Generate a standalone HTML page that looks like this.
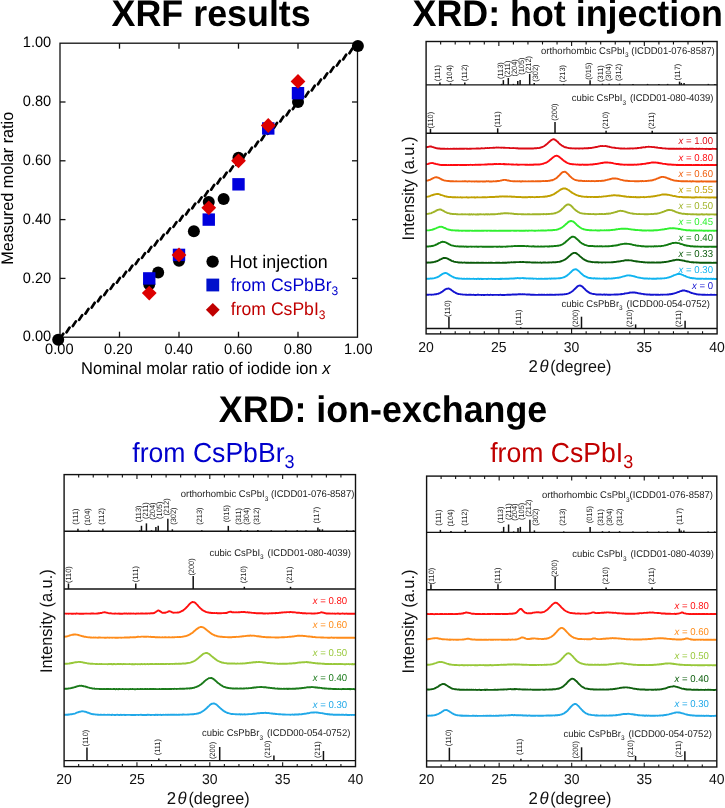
<!DOCTYPE html>
<html><head><meta charset="utf-8"><style>
html,body{margin:0;padding:0;background:#fff;}
svg{display:block;font-family:"Liberation Sans", sans-serif;will-change:transform;text-rendering:geometricPrecision;}
</style></head><body>
<svg width="725" height="808" viewBox="0 0 725 808">
<rect width="725" height="808" fill="#fff"/>
<text transform="translate(111.60,26.20) scale(1,1.035)" font-size="35.85" text-anchor="start" fill="#000" font-weight="bold" font-style="normal" >XRF results</text>
<text transform="translate(412.50,26.00) scale(1,1.035)" font-size="35.85" text-anchor="start" fill="#000" font-weight="bold" font-style="normal" >XRD: hot injection</text>
<text transform="translate(218.80,421.60) scale(1,1.035)" font-size="35.85" text-anchor="start" fill="#000" font-weight="bold" font-style="normal" >XRD: ion-exchange</text>
<text transform="translate(132.3,461.9) scale(1,1.035)" font-size="26.6" fill="#0000cc">from CsPbBr<tspan font-size="18" dy="5.5">3</tspan></text>
<text transform="translate(490.2,461.9) scale(1,1.035)" font-size="26.6" fill="#c00000">from CsPbI<tspan font-size="18" dy="5.5">3</tspan></text>
<rect x="60.0" y="43.2" width="297.5" height="294.0" fill="none" stroke="#111" stroke-width="1.3"/>
<line x1="119.50" y1="337.20" x2="119.50" y2="331.70" stroke="#111" stroke-width="1.3"/>
<line x1="119.50" y1="43.20" x2="119.50" y2="48.70" stroke="#111" stroke-width="1.3"/>
<line x1="60.00" y1="278.40" x2="65.50" y2="278.40" stroke="#111" stroke-width="1.3"/>
<line x1="357.50" y1="278.40" x2="352.00" y2="278.40" stroke="#111" stroke-width="1.3"/>
<line x1="179.00" y1="337.20" x2="179.00" y2="331.70" stroke="#111" stroke-width="1.3"/>
<line x1="179.00" y1="43.20" x2="179.00" y2="48.70" stroke="#111" stroke-width="1.3"/>
<line x1="60.00" y1="219.60" x2="65.50" y2="219.60" stroke="#111" stroke-width="1.3"/>
<line x1="357.50" y1="219.60" x2="352.00" y2="219.60" stroke="#111" stroke-width="1.3"/>
<line x1="238.50" y1="337.20" x2="238.50" y2="331.70" stroke="#111" stroke-width="1.3"/>
<line x1="238.50" y1="43.20" x2="238.50" y2="48.70" stroke="#111" stroke-width="1.3"/>
<line x1="60.00" y1="160.80" x2="65.50" y2="160.80" stroke="#111" stroke-width="1.3"/>
<line x1="357.50" y1="160.80" x2="352.00" y2="160.80" stroke="#111" stroke-width="1.3"/>
<line x1="298.00" y1="337.20" x2="298.00" y2="331.70" stroke="#111" stroke-width="1.3"/>
<line x1="298.00" y1="43.20" x2="298.00" y2="48.70" stroke="#111" stroke-width="1.3"/>
<line x1="60.00" y1="102.00" x2="65.50" y2="102.00" stroke="#111" stroke-width="1.3"/>
<line x1="357.50" y1="102.00" x2="352.00" y2="102.00" stroke="#111" stroke-width="1.3"/>
<text transform="translate(51.20,341.40) scale(1,1.035)" font-size="14.6" text-anchor="end" fill="#000" font-weight="normal" font-style="normal" >0.00</text>
<text transform="translate(59.30,354.20) scale(1,1.035)" font-size="14.6" text-anchor="middle" fill="#000" font-weight="normal" font-style="normal" >0.00</text>
<text transform="translate(51.20,282.60) scale(1,1.035)" font-size="14.6" text-anchor="end" fill="#000" font-weight="normal" font-style="normal" >0.20</text>
<text transform="translate(118.30,354.20) scale(1,1.035)" font-size="14.6" text-anchor="middle" fill="#000" font-weight="normal" font-style="normal" >0.20</text>
<text transform="translate(51.20,223.80) scale(1,1.035)" font-size="14.6" text-anchor="end" fill="#000" font-weight="normal" font-style="normal" >0.40</text>
<text transform="translate(178.60,354.20) scale(1,1.035)" font-size="14.6" text-anchor="middle" fill="#000" font-weight="normal" font-style="normal" >0.40</text>
<text transform="translate(51.20,165.00) scale(1,1.035)" font-size="14.6" text-anchor="end" fill="#000" font-weight="normal" font-style="normal" >0.60</text>
<text transform="translate(238.20,354.20) scale(1,1.035)" font-size="14.6" text-anchor="middle" fill="#000" font-weight="normal" font-style="normal" >0.60</text>
<text transform="translate(51.20,106.20) scale(1,1.035)" font-size="14.6" text-anchor="end" fill="#000" font-weight="normal" font-style="normal" >0.80</text>
<text transform="translate(298.00,354.20) scale(1,1.035)" font-size="14.6" text-anchor="middle" fill="#000" font-weight="normal" font-style="normal" >0.80</text>
<text transform="translate(51.20,47.40) scale(1,1.035)" font-size="14.6" text-anchor="end" fill="#000" font-weight="normal" font-style="normal" >1.00</text>
<text transform="translate(358.30,354.20) scale(1,1.035)" font-size="14.6" text-anchor="middle" fill="#000" font-weight="normal" font-style="normal" >1.00</text>
<text transform="translate(205.80,374.20) scale(1,1.035)" font-size="16.5" text-anchor="middle" fill="#000" font-weight="normal" font-style="normal" >Nominal molar ratio of iodide ion <tspan font-style="italic">x</tspan></text>
<text transform="translate(13.2,188.3) rotate(-90) scale(1,1.035)" font-size="16.2" text-anchor="middle" fill="#000">Measured molar ratio</text>
<path d="M60.28,338.49L63.28,333.79M66.57,332.29L69.57,327.59M72.85,326.09L75.85,321.39M79.14,319.89L82.14,315.19M85.42,313.69L88.42,308.99M91.71,307.49L94.71,302.79M97.99,301.29L100.99,296.59M104.28,295.08L107.28,290.38M110.57,288.88L113.57,284.18M116.85,282.68L119.85,277.98M123.14,276.48L126.14,271.78M129.42,270.28L132.42,265.58M135.71,264.08L138.71,259.38M142.00,257.88L145.00,253.18M148.28,251.68L151.28,246.98M154.57,245.47L157.57,240.77M160.85,239.27L163.85,234.57M167.14,233.07L170.14,228.37M173.43,226.87L176.43,222.17M179.71,220.67L182.71,215.97M186.00,214.47L189.00,209.77M192.28,208.27L195.28,203.57M198.57,202.06L201.57,197.36M204.85,195.86L207.85,191.16M211.14,189.66L214.14,184.96M217.43,183.46L220.43,178.76M223.71,177.26L226.71,172.56M230.00,171.06L233.00,166.36M236.28,164.86L239.28,160.16M242.57,158.66L245.57,153.96M248.86,152.45L251.86,147.75M255.14,146.25L258.14,141.55M261.43,140.05L264.43,135.35M267.71,133.85L270.71,129.15M274.00,127.65L277.00,122.95M280.29,121.45L283.29,116.75M286.57,115.25L289.57,110.55M292.86,109.04L295.86,104.34M299.14,102.84L302.14,98.14M305.43,96.64L308.43,91.94M311.71,90.44L314.71,85.74M318.00,84.24L321.00,79.54M324.29,78.04L327.29,73.34M330.57,71.84L333.57,67.14M336.86,65.63L339.86,60.93M343.14,59.43L346.14,54.73M349.43,53.23L352.43,48.53" stroke="#000" stroke-width="2.7" stroke-linecap="round" fill="none"/>
<circle cx="58.20" cy="339.80" r="6.0" fill="#000"/>
<circle cx="357.90" cy="45.90" r="6.0" fill="#000"/>
<circle cx="149.25" cy="284.28" r="6.0" fill="#000"/>
<circle cx="158.18" cy="272.52" r="6.0" fill="#000"/>
<circle cx="179.00" cy="260.76" r="6.0" fill="#000"/>
<circle cx="193.88" cy="231.36" r="6.0" fill="#000"/>
<circle cx="208.75" cy="201.96" r="6.0" fill="#000"/>
<circle cx="223.62" cy="199.02" r="6.0" fill="#000"/>
<circle cx="238.50" cy="157.86" r="6.0" fill="#000"/>
<circle cx="268.25" cy="128.46" r="6.0" fill="#000"/>
<circle cx="298.00" cy="102.00" r="6.0" fill="#000"/>
<rect x="143.05" y="272.20" width="12.4" height="12.4" fill="#0000dd"/>
<rect x="172.80" y="248.68" width="12.4" height="12.4" fill="#0000dd"/>
<rect x="202.55" y="213.40" width="12.4" height="12.4" fill="#0000dd"/>
<rect x="232.30" y="178.12" width="12.4" height="12.4" fill="#0000dd"/>
<rect x="262.05" y="122.26" width="12.4" height="12.4" fill="#0000dd"/>
<rect x="291.80" y="86.98" width="12.4" height="12.4" fill="#0000dd"/>
<path d="M149.25,285.70L156.65,293.10L149.25,300.50L141.85,293.10Z" fill="#dd0000"/>
<path d="M179.00,247.48L186.40,254.88L179.00,262.28L171.60,254.88Z" fill="#dd0000"/>
<path d="M208.75,200.44L216.15,207.84L208.75,215.24L201.35,207.84Z" fill="#dd0000"/>
<path d="M238.50,153.40L245.90,160.80L238.50,168.20L231.10,160.80Z" fill="#dd0000"/>
<path d="M268.25,118.12L275.65,125.52L268.25,132.92L260.85,125.52Z" fill="#dd0000"/>
<path d="M298.00,74.02L305.40,81.42L298.00,88.82L290.60,81.42Z" fill="#dd0000"/>
<circle cx="212.60" cy="261.60" r="6.2" fill="#000"/>
<rect x="206.40" y="278.60" width="12.8" height="12.8" fill="#0010cc"/>
<path d="M212.80,302.90L219.70,309.80L212.80,316.70L205.90,309.80Z" fill="#c00000"/>
<text transform="translate(229.60,267.50) scale(1,1.035)" font-size="17.85" text-anchor="start" fill="#000" font-weight="normal" font-style="normal" >Hot injection</text>
<text transform="translate(230.8,291.0) scale(1,1.035)" font-size="17.6" fill="#0000cc">from CsPbBr<tspan font-size="12" dy="4">3</tspan></text>
<text transform="translate(230.8,315.2) scale(1,1.035)" font-size="17.6" fill="#c00000">from CsPbI<tspan font-size="12" dy="4">3</tspan></text>
<path d="M426.10,147.65 L426.85,147.21 L427.60,146.96 L428.35,146.83 L429.10,146.58 L429.85,146.48 L430.60,146.44 L431.35,146.53 L432.10,146.90 L432.85,147.17 L433.60,147.25 L434.35,147.61 L435.10,147.77 L435.85,148.16 L436.60,148.23 L437.35,148.30 L438.10,148.53 L438.85,148.44 L439.60,148.51 L440.35,148.76 L441.10,148.80 L441.85,148.70 L442.60,148.62 L443.35,148.76 L444.10,148.81 L444.85,148.77 L445.60,148.87 L446.35,148.83 L447.10,148.79 L447.85,148.78 L448.60,148.84 L449.35,148.85 L450.10,148.85 L450.85,148.79 L451.60,148.84 L452.35,148.90 L453.10,148.71 L453.85,148.77 L454.60,148.75 L455.35,148.86 L456.10,148.67 L456.85,148.70 L457.60,148.88 L458.35,148.82 L459.10,148.73 L459.85,148.73 L460.60,148.67 L461.35,148.79 L462.10,148.69 L462.85,148.73 L463.60,148.81 L464.35,148.74 L465.10,148.66 L465.85,148.66 L466.60,148.74 L467.35,148.71 L468.10,148.84 L468.85,148.78 L469.60,148.63 L470.35,148.72 L471.10,148.76 L471.85,148.66 L472.60,148.61 L473.35,148.60 L474.10,148.65 L474.85,148.62 L475.60,148.59 L476.35,148.50 L477.10,148.54 L477.85,148.55 L478.60,148.50 L479.35,148.58 L480.10,148.55 L480.85,148.36 L481.60,148.26 L482.35,148.32 L483.10,148.33 L483.85,148.35 L484.60,148.23 L485.35,148.07 L486.10,148.09 L486.85,148.10 L487.60,147.98 L488.35,148.09 L489.10,147.98 L489.85,147.83 L490.60,147.88 L491.35,147.87 L492.10,147.88 L492.85,147.77 L493.60,147.64 L494.35,147.84 L495.10,147.63 L495.85,147.59 L496.60,147.56 L497.35,147.58 L498.10,147.55 L498.85,147.62 L499.60,147.61 L500.35,147.65 L501.10,147.75 L501.85,147.57 L502.60,147.66 L503.35,147.77 L504.10,147.73 L504.85,147.76 L505.60,147.83 L506.35,147.86 L507.10,147.85 L507.85,147.87 L508.60,147.91 L509.35,147.98 L510.10,148.13 L510.85,148.11 L511.60,148.16 L512.35,148.10 L513.10,148.07 L513.85,148.12 L514.60,148.15 L515.35,148.17 L516.10,148.34 L516.85,148.22 L517.60,148.29 L518.35,148.45 L519.10,148.49 L519.85,148.51 L520.60,148.35 L521.35,148.48 L522.10,148.53 L522.85,148.42 L523.60,148.49 L524.35,148.56 L525.10,148.55 L525.85,148.46 L526.60,148.55 L527.35,148.52 L528.10,148.41 L528.85,148.46 L529.60,148.49 L530.35,148.44 L531.10,148.53 L531.85,148.43 L532.60,148.40 L533.35,148.43 L534.10,148.42 L534.85,148.20 L535.60,148.25 L536.35,148.27 L537.10,148.11 L537.85,147.98 L538.60,148.07 L539.35,147.94 L540.10,147.76 L540.85,147.43 L541.60,147.34 L542.35,146.93 L543.10,146.60 L543.85,146.25 L544.60,145.87 L545.35,145.17 L546.10,144.64 L546.85,144.07 L547.60,143.47 L548.35,142.65 L549.10,141.99 L549.85,141.24 L550.60,140.65 L551.35,140.02 L552.10,139.73 L552.85,139.42 L553.60,139.21 L554.35,139.39 L555.10,139.86 L555.85,140.23 L556.60,140.97 L557.35,141.50 L558.10,142.27 L558.85,143.06 L559.60,143.80 L560.35,144.51 L561.10,144.91 L561.85,145.66 L562.60,145.95 L563.35,146.34 L564.10,146.79 L564.85,147.19 L565.60,147.28 L566.35,147.46 L567.10,147.70 L567.85,147.88 L568.60,148.02 L569.35,148.12 L570.10,148.23 L570.85,148.17 L571.60,148.28 L572.35,148.37 L573.10,148.43 L573.85,148.32 L574.60,148.43 L575.35,148.40 L576.10,148.46 L576.85,148.34 L577.60,148.34 L578.35,148.56 L579.10,148.52 L579.85,148.49 L580.60,148.34 L581.35,148.38 L582.10,148.48 L582.85,148.50 L583.60,148.38 L584.35,148.32 L585.10,148.27 L585.85,148.38 L586.60,148.21 L587.35,148.21 L588.10,148.21 L588.85,148.03 L589.60,148.14 L590.35,147.93 L591.10,148.00 L591.85,147.87 L592.60,147.58 L593.35,147.62 L594.10,147.36 L594.85,147.25 L595.60,147.05 L596.35,147.00 L597.10,146.85 L597.85,146.71 L598.60,146.42 L599.35,146.34 L600.10,146.13 L600.85,146.04 L601.60,146.14 L602.35,145.99 L603.10,146.08 L603.85,146.11 L604.60,146.15 L605.35,146.03 L606.10,146.16 L606.85,146.27 L607.60,146.53 L608.35,146.62 L609.10,146.74 L609.85,146.99 L610.60,147.10 L611.35,147.34 L612.10,147.52 L612.85,147.62 L613.60,147.60 L614.35,147.79 L615.10,147.82 L615.85,148.03 L616.60,148.16 L617.35,148.11 L618.10,148.17 L618.85,148.42 L619.60,148.32 L620.35,148.50 L621.10,148.53 L621.85,148.37 L622.60,148.60 L623.35,148.57 L624.10,148.41 L624.85,148.55 L625.60,148.63 L626.35,148.63 L627.10,148.61 L627.85,148.48 L628.60,148.63 L629.35,148.43 L630.10,148.54 L630.85,148.38 L631.60,148.37 L632.35,148.49 L633.10,148.47 L633.85,148.38 L634.60,148.42 L635.35,148.24 L636.10,148.33 L636.85,148.27 L637.60,147.97 L638.35,148.06 L639.10,147.90 L639.85,147.85 L640.60,147.79 L641.35,147.75 L642.10,147.45 L642.85,147.33 L643.60,147.23 L644.35,147.33 L645.10,147.21 L645.85,147.03 L646.60,146.86 L647.35,146.91 L648.10,146.82 L648.85,146.80 L649.60,146.89 L650.35,146.83 L651.10,146.92 L651.85,146.99 L652.60,147.10 L653.35,147.13 L654.10,147.05 L654.85,147.28 L655.60,147.33 L656.35,147.44 L657.10,147.48 L657.85,147.71 L658.60,147.84 L659.35,147.93 L660.10,148.02 L660.85,147.98 L661.60,148.05 L662.35,148.27 L663.10,148.33 L663.85,148.34 L664.60,148.39 L665.35,148.43 L666.10,148.56 L666.85,148.66 L667.60,148.64 L668.35,148.71 L669.10,148.62 L669.85,148.76 L670.60,148.78 L671.35,148.66 L672.10,148.76 L672.85,148.65 L673.60,148.73 L674.35,148.65 L675.10,148.83 L675.85,148.76 L676.60,148.69 L677.35,148.87 L678.10,148.67 L678.85,148.86 L679.60,148.72 L680.35,148.67 L681.10,148.72 L681.85,148.84 L682.60,148.90 L683.35,148.80 L684.10,148.71 L684.85,148.86 L685.60,148.72 L686.35,148.90 L687.10,148.72 L687.85,148.93 L688.60,148.87 L689.35,148.73 L690.10,148.75 L690.85,148.73 L691.60,148.75 L692.35,148.77 L693.10,148.79 L693.85,148.91 L694.60,148.85 L695.35,148.92 L696.10,148.79 L696.85,148.80 L697.60,148.90 L698.35,148.95 L699.10,148.74 L699.85,148.77 L700.60,148.84 L701.35,148.84 L702.10,148.77 L702.85,148.86 L703.60,148.88 L704.35,148.89 L705.10,148.91 L705.85,148.97 L706.60,148.82 L707.35,148.88 L708.10,148.84 L708.85,148.96 L709.60,148.89 L710.35,148.95 L711.10,148.95 L711.85,148.92 L712.60,148.78 L713.35,148.89 L714.10,148.89 L714.85,148.84 L715.60,148.93 L716.35,148.98 L717.10,148.86" fill="none" stroke="#dc0a14" stroke-width="1.9" stroke-linejoin="round"/>
<text transform="translate(713.00,144.00) scale(1,1.035)" font-size="9.6" text-anchor="end" fill="#dc0a14"><tspan font-style="italic">x</tspan> = 1.00</text>
<path d="M426.10,164.31 L426.85,164.14 L427.60,164.16 L428.35,163.93 L429.10,163.53 L429.85,163.33 L430.60,163.17 L431.35,163.14 L432.10,163.04 L432.85,163.11 L433.60,163.26 L434.35,163.57 L435.10,163.73 L435.85,163.96 L436.60,164.09 L437.35,164.21 L438.10,164.37 L438.85,164.60 L439.60,164.72 L440.35,164.84 L441.10,164.95 L441.85,164.99 L442.60,164.91 L443.35,164.97 L444.10,164.97 L444.85,164.86 L445.60,164.96 L446.35,164.96 L447.10,165.04 L447.85,165.09 L448.60,165.03 L449.35,165.07 L450.10,164.99 L450.85,164.87 L451.60,164.95 L452.35,165.07 L453.10,164.90 L453.85,164.93 L454.60,164.94 L455.35,164.90 L456.10,164.93 L456.85,164.93 L457.60,165.03 L458.35,164.88 L459.10,164.88 L459.85,165.07 L460.60,164.93 L461.35,164.94 L462.10,164.99 L462.85,164.97 L463.60,164.98 L464.35,164.87 L465.10,164.97 L465.85,164.89 L466.60,164.99 L467.35,164.86 L468.10,164.85 L468.85,164.95 L469.60,164.92 L470.35,164.82 L471.10,164.86 L471.85,164.91 L472.60,164.96 L473.35,164.92 L474.10,164.82 L474.85,164.93 L475.60,164.73 L476.35,164.87 L477.10,164.70 L477.85,164.82 L478.60,164.64 L479.35,164.68 L480.10,164.71 L480.85,164.68 L481.60,164.62 L482.35,164.60 L483.10,164.64 L483.85,164.64 L484.60,164.53 L485.35,164.40 L486.10,164.44 L486.85,164.53 L487.60,164.32 L488.35,164.31 L489.10,164.23 L489.85,164.37 L490.60,164.20 L491.35,164.33 L492.10,164.16 L492.85,164.22 L493.60,164.20 L494.35,164.02 L495.10,164.18 L495.85,164.06 L496.60,163.96 L497.35,164.10 L498.10,164.10 L498.85,163.93 L499.60,164.04 L500.35,163.98 L501.10,164.15 L501.85,164.09 L502.60,164.15 L503.35,164.05 L504.10,164.21 L504.85,164.03 L505.60,164.28 L506.35,164.14 L507.10,164.34 L507.85,164.31 L508.60,164.21 L509.35,164.40 L510.10,164.42 L510.85,164.33 L511.60,164.44 L512.35,164.55 L513.10,164.35 L513.85,164.58 L514.60,164.63 L515.35,164.58 L516.10,164.54 L516.85,164.53 L517.60,164.70 L518.35,164.67 L519.10,164.76 L519.85,164.67 L520.60,164.61 L521.35,164.63 L522.10,164.60 L522.85,164.64 L523.60,164.63 L524.35,164.67 L525.10,164.73 L525.85,164.79 L526.60,164.69 L527.35,164.77 L528.10,164.82 L528.85,164.73 L529.60,164.62 L530.35,164.79 L531.10,164.67 L531.85,164.71 L532.60,164.66 L533.35,164.74 L534.10,164.52 L534.85,164.67 L535.60,164.56 L536.35,164.57 L537.10,164.63 L537.85,164.46 L538.60,164.51 L539.35,164.47 L540.10,164.39 L540.85,164.27 L541.60,164.17 L542.35,163.90 L543.10,163.76 L543.85,163.44 L544.60,163.20 L545.35,162.89 L546.10,162.73 L546.85,162.28 L547.60,161.87 L548.35,161.28 L549.10,160.71 L549.85,160.07 L550.60,159.44 L551.35,158.89 L552.10,158.18 L552.85,157.51 L553.60,157.04 L554.35,156.52 L555.10,156.05 L555.85,155.88 L556.60,155.68 L557.35,155.91 L558.10,156.24 L558.85,156.65 L559.60,157.18 L560.35,157.80 L561.10,158.38 L561.85,159.07 L562.60,159.76 L563.35,160.31 L564.10,161.01 L564.85,161.38 L565.60,161.86 L566.35,162.35 L567.10,162.80 L567.85,163.10 L568.60,163.36 L569.35,163.72 L570.10,163.83 L570.85,163.96 L571.60,164.17 L572.35,164.30 L573.10,164.21 L573.85,164.39 L574.60,164.41 L575.35,164.36 L576.10,164.48 L576.85,164.58 L577.60,164.45 L578.35,164.61 L579.10,164.72 L579.85,164.57 L580.60,164.73 L581.35,164.69 L582.10,164.57 L582.85,164.62 L583.60,164.78 L584.35,164.67 L585.10,164.68 L585.85,164.65 L586.60,164.71 L587.35,164.61 L588.10,164.71 L588.85,164.64 L589.60,164.59 L590.35,164.42 L591.10,164.58 L591.85,164.37 L592.60,164.45 L593.35,164.29 L594.10,164.26 L594.85,164.16 L595.60,163.99 L596.35,163.97 L597.10,163.92 L597.85,163.80 L598.60,163.68 L599.35,163.36 L600.10,163.27 L600.85,163.06 L601.60,162.98 L602.35,163.01 L603.10,162.74 L603.85,162.60 L604.60,162.53 L605.35,162.52 L606.10,162.51 L606.85,162.48 L607.60,162.42 L608.35,162.60 L609.10,162.62 L609.85,162.73 L610.60,162.74 L611.35,162.90 L612.10,163.01 L612.85,163.17 L613.60,163.44 L614.35,163.60 L615.10,163.67 L615.85,163.86 L616.60,163.94 L617.35,163.99 L618.10,164.03 L618.85,164.21 L619.60,164.24 L620.35,164.48 L621.10,164.49 L621.85,164.39 L622.60,164.64 L623.35,164.62 L624.10,164.74 L624.85,164.76 L625.60,164.59 L626.35,164.59 L627.10,164.69 L627.85,164.82 L628.60,164.79 L629.35,164.81 L630.10,164.70 L630.85,164.70 L631.60,164.75 L632.35,164.72 L633.10,164.81 L633.85,164.69 L634.60,164.57 L635.35,164.59 L636.10,164.71 L636.85,164.58 L637.60,164.48 L638.35,164.54 L639.10,164.33 L639.85,164.37 L640.60,164.24 L641.35,164.23 L642.10,164.00 L642.85,163.96 L643.60,163.90 L644.35,163.89 L645.10,163.70 L645.85,163.68 L646.60,163.42 L647.35,163.22 L648.10,163.26 L648.85,163.05 L649.60,162.94 L650.35,162.85 L651.10,162.68 L651.85,162.54 L652.60,162.54 L653.35,162.56 L654.10,162.43 L654.85,162.59 L655.60,162.53 L656.35,162.62 L657.10,162.68 L657.85,162.76 L658.60,163.02 L659.35,163.05 L660.10,163.23 L660.85,163.30 L661.60,163.36 L662.35,163.57 L663.10,163.85 L663.85,163.86 L664.60,163.91 L665.35,163.98 L666.10,164.14 L666.85,164.19 L667.60,164.47 L668.35,164.32 L669.10,164.44 L669.85,164.54 L670.60,164.52 L671.35,164.57 L672.10,164.80 L672.85,164.67 L673.60,164.71 L674.35,164.88 L675.10,164.77 L675.85,164.83 L676.60,164.94 L677.35,164.81 L678.10,164.99 L678.85,164.89 L679.60,164.94 L680.35,164.99 L681.10,164.93 L681.85,164.96 L682.60,165.03 L683.35,164.85 L684.10,165.07 L684.85,165.09 L685.60,164.98 L686.35,164.90 L687.10,164.95 L687.85,164.93 L688.60,165.00 L689.35,164.96 L690.10,165.04 L690.85,165.06 L691.60,165.01 L692.35,165.12 L693.10,165.11 L693.85,164.95 L694.60,165.10 L695.35,164.96 L696.10,164.95 L696.85,165.05 L697.60,164.98 L698.35,164.96 L699.10,164.94 L699.85,165.12 L700.60,165.11 L701.35,165.06 L702.10,165.05 L702.85,165.09 L703.60,165.16 L704.35,165.03 L705.10,164.93 L705.85,165.08 L706.60,165.04 L707.35,165.07 L708.10,165.06 L708.85,164.96 L709.60,165.10 L710.35,165.01 L711.10,165.06 L711.85,165.04 L712.60,164.95 L713.35,165.16 L714.10,164.98 L714.85,165.10 L715.60,165.02 L716.35,164.99 L717.10,165.02" fill="none" stroke="#ff0a10" stroke-width="1.9" stroke-linejoin="round"/>
<text transform="translate(713.00,160.50) scale(1,1.035)" font-size="9.6" text-anchor="end" fill="#ff0a10"><tspan font-style="italic">x</tspan> = 0.80</text>
<path d="M426.10,180.90 L426.85,180.68 L427.60,180.55 L428.35,180.28 L429.10,180.02 L429.85,179.86 L430.60,179.54 L431.35,178.98 L432.10,178.74 L432.85,178.37 L433.60,177.82 L434.35,177.64 L435.10,177.33 L435.85,177.30 L436.60,177.27 L437.35,177.53 L438.10,177.66 L438.85,177.93 L439.60,178.38 L440.35,178.71 L441.10,179.10 L441.85,179.60 L442.60,179.76 L443.35,180.08 L444.10,180.40 L444.85,180.67 L445.60,180.63 L446.35,180.86 L447.10,180.91 L447.85,180.96 L448.60,181.06 L449.35,181.06 L450.10,181.23 L450.85,181.16 L451.60,181.27 L452.35,181.17 L453.10,181.21 L453.85,181.41 L454.60,181.41 L455.35,181.40 L456.10,181.23 L456.85,181.37 L457.60,181.33 L458.35,181.41 L459.10,181.37 L459.85,181.41 L460.60,181.42 L461.35,181.37 L462.10,181.37 L462.85,181.30 L463.60,181.35 L464.35,181.30 L465.10,181.32 L465.85,181.29 L466.60,181.37 L467.35,181.49 L468.10,181.33 L468.85,181.30 L469.60,181.32 L470.35,181.40 L471.10,181.37 L471.85,181.49 L472.60,181.34 L473.35,181.40 L474.10,181.47 L474.85,181.53 L475.60,181.34 L476.35,181.30 L477.10,181.52 L477.85,181.35 L478.60,181.44 L479.35,181.50 L480.10,181.47 L480.85,181.35 L481.60,181.33 L482.35,181.53 L483.10,181.39 L483.85,181.52 L484.60,181.36 L485.35,181.45 L486.10,181.32 L486.85,181.29 L487.60,181.40 L488.35,181.28 L489.10,181.44 L489.85,181.49 L490.60,181.36 L491.35,181.49 L492.10,181.44 L492.85,181.38 L493.60,181.31 L494.35,181.40 L495.10,181.40 L495.85,181.17 L496.60,181.25 L497.35,181.03 L498.10,180.96 L498.85,180.98 L499.60,180.84 L500.35,180.67 L501.10,180.48 L501.85,180.32 L502.60,180.16 L503.35,180.01 L504.10,179.85 L504.85,179.93 L505.60,180.00 L506.35,180.04 L507.10,180.31 L507.85,180.46 L508.60,180.47 L509.35,180.73 L510.10,180.86 L510.85,181.11 L511.60,181.10 L512.35,181.14 L513.10,181.33 L513.85,181.22 L514.60,181.25 L515.35,181.41 L516.10,181.28 L516.85,181.33 L517.60,181.29 L518.35,181.37 L519.10,181.29 L519.85,181.29 L520.60,181.46 L521.35,181.45 L522.10,181.30 L522.85,181.24 L523.60,181.41 L524.35,181.35 L525.10,181.32 L525.85,181.38 L526.60,181.37 L527.35,181.38 L528.10,181.36 L528.85,181.30 L529.60,181.37 L530.35,181.35 L531.10,181.25 L531.85,181.42 L532.60,181.28 L533.35,181.24 L534.10,181.33 L534.85,181.34 L535.60,181.20 L536.35,181.32 L537.10,181.32 L537.85,181.25 L538.60,181.18 L539.35,181.31 L540.10,181.24 L540.85,181.22 L541.60,181.08 L542.35,181.15 L543.10,181.03 L543.85,181.17 L544.60,181.10 L545.35,181.00 L546.10,180.90 L546.85,180.96 L547.60,180.96 L548.35,180.92 L549.10,180.74 L549.85,180.72 L550.60,180.45 L551.35,180.29 L552.10,180.25 L552.85,179.99 L553.60,179.58 L554.35,179.26 L555.10,178.81 L555.85,178.43 L556.60,177.92 L557.35,177.25 L558.10,176.44 L558.85,175.82 L559.60,175.03 L560.35,174.23 L561.10,173.49 L561.85,172.82 L562.60,172.16 L563.35,171.98 L564.10,171.87 L564.85,171.74 L565.60,172.07 L566.35,172.55 L567.10,173.33 L567.85,173.93 L568.60,174.71 L569.35,175.66 L570.10,176.28 L570.85,176.96 L571.60,177.65 L572.35,178.26 L573.10,178.81 L573.85,179.23 L574.60,179.62 L575.35,179.96 L576.10,180.08 L576.85,180.35 L577.60,180.39 L578.35,180.70 L579.10,180.59 L579.85,180.73 L580.60,180.74 L581.35,180.79 L582.10,180.84 L582.85,180.95 L583.60,181.12 L584.35,180.97 L585.10,181.13 L585.85,181.11 L586.60,181.04 L587.35,181.09 L588.10,181.13 L588.85,181.01 L589.60,181.10 L590.35,181.17 L591.10,181.19 L591.85,181.05 L592.60,181.14 L593.35,181.07 L594.10,181.17 L594.85,181.20 L595.60,181.11 L596.35,181.03 L597.10,181.17 L597.85,180.99 L598.60,180.93 L599.35,180.92 L600.10,180.87 L600.85,181.01 L601.60,180.80 L602.35,180.66 L603.10,180.76 L603.85,180.59 L604.60,180.47 L605.35,180.26 L606.10,180.13 L606.85,179.94 L607.60,179.68 L608.35,179.67 L609.10,179.46 L609.85,179.24 L610.60,179.04 L611.35,178.87 L612.10,178.50 L612.85,178.41 L613.60,178.51 L614.35,178.39 L615.10,178.46 L615.85,178.53 L616.60,178.64 L617.35,178.73 L618.10,178.92 L618.85,179.17 L619.60,179.42 L620.35,179.59 L621.10,179.84 L621.85,179.92 L622.60,180.06 L623.35,180.30 L624.10,180.52 L624.85,180.63 L625.60,180.69 L626.35,180.74 L627.10,180.78 L627.85,180.94 L628.60,180.90 L629.35,180.99 L630.10,181.08 L630.85,181.12 L631.60,181.12 L632.35,181.09 L633.10,181.17 L633.85,181.12 L634.60,181.19 L635.35,181.24 L636.10,181.18 L636.85,181.14 L637.60,181.29 L638.35,181.21 L639.10,181.20 L639.85,181.09 L640.60,181.07 L641.35,181.19 L642.10,181.06 L642.85,181.07 L643.60,181.18 L644.35,181.11 L645.10,181.16 L645.85,180.96 L646.60,180.95 L647.35,180.84 L648.10,180.80 L648.85,180.75 L649.60,180.64 L650.35,180.57 L651.10,180.55 L651.85,180.28 L652.60,180.24 L653.35,180.00 L654.10,179.63 L654.85,179.55 L655.60,179.27 L656.35,178.98 L657.10,178.49 L657.85,178.35 L658.60,178.09 L659.35,177.60 L660.10,177.52 L660.85,177.13 L661.60,177.01 L662.35,176.89 L663.10,176.85 L663.85,177.01 L664.60,177.10 L665.35,177.48 L666.10,177.56 L666.85,177.90 L667.60,178.15 L668.35,178.61 L669.10,178.76 L669.85,179.01 L670.60,179.50 L671.35,179.69 L672.10,179.87 L672.85,180.02 L673.60,180.35 L674.35,180.53 L675.10,180.65 L675.85,180.69 L676.60,180.76 L677.35,180.93 L678.10,181.01 L678.85,181.06 L679.60,181.12 L680.35,181.15 L681.10,181.26 L681.85,181.19 L682.60,181.10 L683.35,181.26 L684.10,181.19 L684.85,181.35 L685.60,181.24 L686.35,181.23 L687.10,181.26 L687.85,181.31 L688.60,181.33 L689.35,181.30 L690.10,181.25 L690.85,181.43 L691.60,181.45 L692.35,181.30 L693.10,181.27 L693.85,181.37 L694.60,181.39 L695.35,181.33 L696.10,181.46 L696.85,181.45 L697.60,181.47 L698.35,181.38 L699.10,181.45 L699.85,181.47 L700.60,181.36 L701.35,181.30 L702.10,181.46 L702.85,181.37 L703.60,181.44 L704.35,181.34 L705.10,181.40 L705.85,181.48 L706.60,181.50 L707.35,181.54 L708.10,181.44 L708.85,181.46 L709.60,181.51 L710.35,181.47 L711.10,181.48 L711.85,181.37 L712.60,181.53 L713.35,181.33 L714.10,181.45 L714.85,181.42 L715.60,181.45 L716.35,181.37 L717.10,181.37" fill="none" stroke="#f06010" stroke-width="1.9" stroke-linejoin="round"/>
<text transform="translate(713.00,176.80) scale(1,1.035)" font-size="9.6" text-anchor="end" fill="#f06010"><tspan font-style="italic">x</tspan> = 0.60</text>
<path d="M426.10,196.93 L426.85,196.85 L427.60,196.64 L428.35,196.53 L429.10,196.36 L429.85,196.06 L430.60,195.70 L431.35,195.46 L432.10,195.20 L432.85,195.05 L433.60,194.69 L434.35,194.50 L435.10,194.31 L435.85,194.16 L436.60,194.05 L437.35,193.87 L438.10,193.98 L438.85,194.13 L439.60,194.35 L440.35,194.75 L441.10,194.99 L441.85,195.20 L442.60,195.45 L443.35,195.68 L444.10,195.92 L444.85,196.32 L445.60,196.39 L446.35,196.54 L447.10,196.72 L447.85,196.92 L448.60,196.95 L449.35,197.12 L450.10,196.98 L450.85,197.05 L451.60,197.16 L452.35,197.25 L453.10,197.13 L453.85,197.24 L454.60,197.18 L455.35,197.20 L456.10,197.29 L456.85,197.33 L457.60,197.29 L458.35,197.34 L459.10,197.41 L459.85,197.38 L460.60,197.27 L461.35,197.45 L462.10,197.46 L462.85,197.32 L463.60,197.41 L464.35,197.35 L465.10,197.37 L465.85,197.40 L466.60,197.24 L467.35,197.44 L468.10,197.39 L468.85,197.44 L469.60,197.34 L470.35,197.42 L471.10,197.40 L471.85,197.31 L472.60,197.41 L473.35,197.35 L474.10,197.27 L474.85,197.46 L475.60,197.46 L476.35,197.42 L477.10,197.29 L477.85,197.32 L478.60,197.41 L479.35,197.38 L480.10,197.41 L480.85,197.33 L481.60,197.42 L482.35,197.26 L483.10,197.20 L483.85,197.17 L484.60,197.21 L485.35,197.14 L486.10,197.35 L486.85,197.26 L487.60,197.08 L488.35,197.10 L489.10,197.16 L489.85,197.00 L490.60,197.05 L491.35,196.97 L492.10,197.05 L492.85,197.04 L493.60,196.94 L494.35,196.97 L495.10,196.87 L495.85,196.68 L496.60,196.79 L497.35,196.82 L498.10,196.76 L498.85,196.69 L499.60,196.50 L500.35,196.56 L501.10,196.54 L501.85,196.55 L502.60,196.32 L503.35,196.43 L504.10,196.47 L504.85,196.50 L505.60,196.51 L506.35,196.49 L507.10,196.39 L507.85,196.54 L508.60,196.60 L509.35,196.52 L510.10,196.62 L510.85,196.48 L511.60,196.73 L512.35,196.68 L513.10,196.66 L513.85,196.79 L514.60,196.69 L515.35,196.85 L516.10,196.95 L516.85,196.94 L517.60,197.07 L518.35,197.01 L519.10,197.08 L519.85,196.95 L520.60,196.98 L521.35,197.09 L522.10,197.22 L522.85,197.18 L523.60,197.19 L524.35,197.21 L525.10,197.22 L525.85,197.07 L526.60,197.25 L527.35,197.27 L528.10,197.06 L528.85,197.15 L529.60,197.05 L530.35,197.19 L531.10,197.06 L531.85,197.11 L532.60,197.07 L533.35,197.08 L534.10,197.13 L534.85,197.21 L535.60,197.17 L536.35,197.00 L537.10,196.98 L537.85,196.95 L538.60,197.07 L539.35,196.97 L540.10,196.91 L540.85,196.92 L541.60,196.84 L542.35,196.87 L543.10,196.79 L543.85,196.73 L544.60,196.76 L545.35,196.52 L546.10,196.42 L546.85,196.53 L547.60,196.18 L548.35,196.03 L549.10,195.93 L549.85,195.88 L550.60,195.44 L551.35,195.36 L552.10,194.85 L552.85,194.59 L553.60,194.36 L554.35,193.92 L555.10,193.36 L555.85,192.90 L556.60,192.36 L557.35,191.79 L558.10,191.43 L558.85,190.95 L559.60,190.20 L560.35,189.93 L561.10,189.28 L561.85,189.09 L562.60,188.63 L563.35,188.45 L564.10,188.35 L564.85,188.48 L565.60,188.56 L566.35,188.99 L567.10,189.24 L567.85,189.75 L568.60,190.10 L569.35,190.64 L570.10,191.24 L570.85,191.77 L571.60,192.41 L572.35,192.91 L573.10,193.26 L573.85,193.74 L574.60,194.06 L575.35,194.50 L576.10,194.96 L576.85,195.21 L577.60,195.39 L578.35,195.69 L579.10,196.02 L579.85,196.00 L580.60,196.15 L581.35,196.46 L582.10,196.46 L582.85,196.60 L583.60,196.58 L584.35,196.76 L585.10,196.83 L585.85,196.82 L586.60,196.74 L587.35,196.98 L588.10,197.00 L588.85,196.90 L589.60,196.86 L590.35,196.96 L591.10,196.99 L591.85,196.89 L592.60,196.92 L593.35,197.09 L594.10,196.89 L594.85,197.05 L595.60,197.01 L596.35,196.87 L597.10,196.95 L597.85,196.83 L598.60,196.95 L599.35,196.74 L600.10,196.87 L600.85,196.83 L601.60,196.69 L602.35,196.66 L603.10,196.54 L603.85,196.38 L604.60,196.34 L605.35,196.42 L606.10,196.26 L606.85,196.10 L607.60,196.02 L608.35,195.86 L609.10,195.82 L609.85,195.82 L610.60,195.68 L611.35,195.46 L612.10,195.50 L612.85,195.35 L613.60,195.25 L614.35,195.32 L615.10,195.31 L615.85,195.34 L616.60,195.45 L617.35,195.37 L618.10,195.55 L618.85,195.52 L619.60,195.76 L620.35,195.73 L621.10,195.85 L621.85,196.00 L622.60,196.15 L623.35,196.32 L624.10,196.27 L624.85,196.46 L625.60,196.48 L626.35,196.69 L627.10,196.78 L627.85,196.83 L628.60,196.74 L629.35,196.95 L630.10,196.82 L630.85,197.00 L631.60,196.99 L632.35,197.08 L633.10,197.04 L633.85,197.19 L634.60,197.14 L635.35,197.03 L636.10,197.22 L636.85,197.12 L637.60,197.20 L638.35,197.22 L639.10,197.29 L639.85,197.29 L640.60,197.06 L641.35,197.09 L642.10,197.09 L642.85,197.08 L643.60,197.03 L644.35,197.20 L645.10,197.08 L645.85,197.08 L646.60,197.03 L647.35,196.90 L648.10,196.90 L648.85,196.80 L649.60,196.94 L650.35,196.75 L651.10,196.66 L651.85,196.55 L652.60,196.48 L653.35,196.32 L654.10,196.32 L654.85,196.04 L655.60,196.02 L656.35,195.82 L657.10,195.59 L657.85,195.47 L658.60,195.39 L659.35,195.24 L660.10,195.06 L660.85,194.83 L661.60,194.61 L662.35,194.51 L663.10,194.54 L663.85,194.48 L664.60,194.36 L665.35,194.50 L666.10,194.52 L666.85,194.70 L667.60,194.77 L668.35,194.82 L669.10,194.93 L669.85,195.12 L670.60,195.35 L671.35,195.38 L672.10,195.63 L672.85,195.90 L673.60,196.09 L674.35,196.02 L675.10,196.16 L675.85,196.30 L676.60,196.50 L677.35,196.68 L678.10,196.83 L678.85,196.87 L679.60,196.96 L680.35,196.86 L681.10,196.92 L681.85,197.00 L682.60,197.19 L683.35,197.21 L684.10,197.23 L684.85,197.10 L685.60,197.31 L686.35,197.18 L687.10,197.22 L687.85,197.27 L688.60,197.19 L689.35,197.36 L690.10,197.31 L690.85,197.41 L691.60,197.43 L692.35,197.46 L693.10,197.39 L693.85,197.45 L694.60,197.47 L695.35,197.25 L696.10,197.42 L696.85,197.28 L697.60,197.33 L698.35,197.33 L699.10,197.35 L699.85,197.28 L700.60,197.31 L701.35,197.35 L702.10,197.39 L702.85,197.36 L703.60,197.35 L704.35,197.40 L705.10,197.41 L705.85,197.50 L706.60,197.34 L707.35,197.42 L708.10,197.53 L708.85,197.50 L709.60,197.34 L710.35,197.49 L711.10,197.46 L711.85,197.39 L712.60,197.35 L713.35,197.48 L714.10,197.46 L714.85,197.46 L715.60,197.55 L716.35,197.35 L717.10,197.56" fill="none" stroke="#c0a000" stroke-width="1.9" stroke-linejoin="round"/>
<text transform="translate(713.00,193.00) scale(1,1.035)" font-size="9.6" text-anchor="end" fill="#c0a000"><tspan font-style="italic">x</tspan> = 0.55</text>
<path d="M426.10,214.04 L426.85,213.94 L427.60,213.84 L428.35,213.70 L429.10,213.61 L429.85,213.40 L430.60,213.42 L431.35,213.07 L432.10,212.67 L432.85,212.42 L433.60,211.99 L434.35,211.78 L435.10,211.28 L435.85,210.91 L436.60,210.42 L437.35,210.04 L438.10,209.87 L438.85,209.62 L439.60,209.53 L440.35,209.44 L441.10,209.67 L441.85,210.11 L442.60,210.32 L443.35,210.89 L444.10,211.20 L444.85,211.74 L445.60,212.17 L446.35,212.33 L447.10,212.82 L447.85,213.10 L448.60,213.16 L449.35,213.39 L450.10,213.70 L450.85,213.67 L451.60,213.88 L452.35,213.94 L453.10,214.12 L453.85,214.00 L454.60,214.10 L455.35,214.07 L456.10,214.11 L456.85,214.28 L457.60,214.28 L458.35,214.35 L459.10,214.36 L459.85,214.40 L460.60,214.35 L461.35,214.29 L462.10,214.44 L462.85,214.29 L463.60,214.37 L464.35,214.39 L465.10,214.27 L465.85,214.36 L466.60,214.40 L467.35,214.37 L468.10,214.32 L468.85,214.47 L469.60,214.26 L470.35,214.49 L471.10,214.32 L471.85,214.30 L472.60,214.50 L473.35,214.31 L474.10,214.41 L474.85,214.36 L475.60,214.50 L476.35,214.49 L477.10,214.46 L477.85,214.28 L478.60,214.46 L479.35,214.32 L480.10,214.28 L480.85,214.28 L481.60,214.42 L482.35,214.41 L483.10,214.37 L483.85,214.31 L484.60,214.47 L485.35,214.31 L486.10,214.29 L486.85,214.27 L487.60,214.46 L488.35,214.24 L489.10,214.43 L489.85,214.36 L490.60,214.28 L491.35,214.19 L492.10,214.30 L492.85,214.14 L493.60,214.20 L494.35,214.22 L495.10,214.18 L495.85,214.16 L496.60,214.13 L497.35,214.05 L498.10,213.86 L498.85,213.71 L499.60,213.83 L500.35,213.78 L501.10,213.47 L501.85,213.50 L502.60,213.45 L503.35,213.42 L504.10,213.28 L504.85,213.18 L505.60,213.24 L506.35,213.24 L507.10,213.35 L507.85,213.18 L508.60,213.44 L509.35,213.39 L510.10,213.38 L510.85,213.63 L511.60,213.57 L512.35,213.60 L513.10,213.75 L513.85,213.79 L514.60,214.02 L515.35,214.00 L516.10,214.12 L516.85,214.00 L517.60,214.18 L518.35,214.18 L519.10,214.08 L519.85,214.14 L520.60,214.13 L521.35,214.27 L522.10,214.27 L522.85,214.23 L523.60,214.29 L524.35,214.34 L525.10,214.32 L525.85,214.39 L526.60,214.33 L527.35,214.19 L528.10,214.19 L528.85,214.27 L529.60,214.30 L530.35,214.34 L531.10,214.40 L531.85,214.35 L532.60,214.22 L533.35,214.20 L534.10,214.31 L534.85,214.21 L535.60,214.20 L536.35,214.22 L537.10,214.22 L537.85,214.19 L538.60,214.27 L539.35,214.18 L540.10,214.27 L540.85,214.21 L541.60,214.13 L542.35,214.14 L543.10,214.22 L543.85,214.04 L544.60,214.10 L545.35,214.09 L546.10,214.21 L546.85,214.05 L547.60,214.10 L548.35,213.97 L549.10,213.98 L549.85,213.85 L550.60,213.84 L551.35,213.74 L552.10,213.78 L552.85,213.61 L553.60,213.48 L554.35,213.32 L555.10,213.26 L555.85,212.94 L556.60,212.67 L557.35,212.41 L558.10,211.98 L558.85,211.56 L559.60,211.17 L560.35,210.61 L561.10,210.08 L561.85,209.24 L562.60,208.49 L563.35,207.85 L564.10,207.04 L564.85,206.30 L565.60,205.62 L566.35,205.19 L567.10,204.63 L567.85,204.46 L568.60,204.43 L569.35,204.69 L570.10,205.04 L570.85,205.56 L571.60,206.25 L572.35,206.96 L573.10,207.89 L573.85,208.61 L574.60,209.27 L575.35,209.90 L576.10,210.63 L576.85,211.07 L577.60,211.58 L578.35,212.15 L579.10,212.42 L579.85,212.78 L580.60,213.08 L581.35,213.27 L582.10,213.40 L582.85,213.57 L583.60,213.68 L584.35,213.81 L585.10,213.78 L585.85,213.86 L586.60,213.85 L587.35,213.90 L588.10,214.01 L588.85,213.88 L589.60,214.12 L590.35,214.05 L591.10,214.10 L591.85,214.08 L592.60,214.17 L593.35,214.01 L594.10,214.13 L594.85,214.21 L595.60,214.08 L596.35,214.21 L597.10,214.11 L597.85,214.16 L598.60,214.10 L599.35,214.01 L600.10,214.03 L600.85,214.12 L601.60,214.02 L602.35,214.05 L603.10,214.09 L603.85,214.12 L604.60,213.99 L605.35,213.95 L606.10,213.81 L606.85,213.75 L607.60,213.77 L608.35,213.75 L609.10,213.52 L609.85,213.62 L610.60,213.45 L611.35,213.19 L612.10,213.01 L612.85,212.93 L613.60,212.60 L614.35,212.32 L615.10,212.21 L615.85,211.96 L616.60,211.77 L617.35,211.53 L618.10,211.16 L618.85,211.13 L619.60,210.86 L620.35,210.80 L621.10,210.86 L621.85,210.99 L622.60,210.92 L623.35,211.19 L624.10,211.39 L624.85,211.63 L625.60,211.71 L626.35,212.06 L627.10,212.35 L627.85,212.53 L628.60,212.84 L629.35,212.92 L630.10,213.15 L630.85,213.35 L631.60,213.38 L632.35,213.49 L633.10,213.80 L633.85,213.77 L634.60,213.91 L635.35,213.82 L636.10,213.91 L636.85,214.08 L637.60,214.11 L638.35,214.17 L639.10,213.99 L639.85,214.17 L640.60,214.11 L641.35,214.15 L642.10,214.12 L642.85,214.14 L643.60,214.11 L644.35,214.26 L645.10,214.10 L645.85,214.21 L646.60,214.15 L647.35,214.19 L648.10,214.19 L648.85,214.13 L649.60,214.13 L650.35,214.14 L651.10,214.02 L651.85,214.03 L652.60,214.13 L653.35,214.03 L654.10,213.93 L654.85,213.75 L655.60,213.68 L656.35,213.67 L657.10,213.68 L657.85,213.37 L658.60,213.29 L659.35,213.08 L660.10,212.84 L660.85,212.63 L661.60,212.42 L662.35,212.04 L663.10,211.88 L663.85,211.57 L664.60,211.16 L665.35,211.01 L666.10,210.70 L666.85,210.32 L667.60,210.29 L668.35,209.96 L669.10,209.91 L669.85,209.97 L670.60,210.08 L671.35,210.11 L672.10,210.28 L672.85,210.72 L673.60,210.92 L674.35,211.21 L675.10,211.53 L675.85,211.88 L676.60,212.21 L677.35,212.39 L678.10,212.59 L678.85,213.00 L679.60,213.18 L680.35,213.22 L681.10,213.39 L681.85,213.56 L682.60,213.83 L683.35,213.77 L684.10,213.79 L684.85,213.86 L685.60,213.99 L686.35,214.19 L687.10,214.04 L687.85,214.23 L688.60,214.15 L689.35,214.10 L690.10,214.18 L690.85,214.34 L691.60,214.32 L692.35,214.18 L693.10,214.38 L693.85,214.28 L694.60,214.33 L695.35,214.40 L696.10,214.30 L696.85,214.45 L697.60,214.44 L698.35,214.38 L699.10,214.46 L699.85,214.47 L700.60,214.35 L701.35,214.32 L702.10,214.29 L702.85,214.47 L703.60,214.40 L704.35,214.44 L705.10,214.37 L705.85,214.40 L706.60,214.30 L707.35,214.44 L708.10,214.51 L708.85,214.36 L709.60,214.50 L710.35,214.38 L711.10,214.42 L711.85,214.32 L712.60,214.41 L713.35,214.40 L714.10,214.48 L714.85,214.42 L715.60,214.49 L716.35,214.37 L717.10,214.43" fill="none" stroke="#a0b428" stroke-width="1.9" stroke-linejoin="round"/>
<text transform="translate(713.00,209.40) scale(1,1.035)" font-size="9.6" text-anchor="end" fill="#a0b428"><tspan font-style="italic">x</tspan> = 0.50</text>
<path d="M426.10,230.44 L426.85,230.39 L427.60,230.42 L428.35,230.41 L429.10,230.40 L429.85,230.14 L430.60,230.06 L431.35,229.84 L432.10,229.75 L432.85,229.44 L433.60,229.31 L434.35,228.91 L435.10,228.62 L435.85,228.36 L436.60,227.99 L437.35,227.62 L438.10,227.42 L438.85,227.07 L439.60,226.82 L440.35,226.85 L441.10,226.73 L441.85,226.88 L442.60,227.05 L443.35,227.45 L444.10,227.82 L444.85,227.99 L445.60,228.33 L446.35,228.74 L447.10,229.13 L447.85,229.38 L448.60,229.52 L449.35,229.81 L450.10,229.82 L450.85,230.06 L451.60,230.27 L452.35,230.25 L453.10,230.40 L453.85,230.32 L454.60,230.37 L455.35,230.51 L456.10,230.50 L456.85,230.52 L457.60,230.51 L458.35,230.48 L459.10,230.73 L459.85,230.66 L460.60,230.61 L461.35,230.69 L462.10,230.63 L462.85,230.76 L463.60,230.58 L464.35,230.67 L465.10,230.77 L465.85,230.65 L466.60,230.73 L467.35,230.77 L468.10,230.70 L468.85,230.79 L469.60,230.77 L470.35,230.62 L471.10,230.66 L471.85,230.83 L472.60,230.65 L473.35,230.83 L474.10,230.76 L474.85,230.62 L475.60,230.69 L476.35,230.77 L477.10,230.75 L477.85,230.75 L478.60,230.82 L479.35,230.61 L480.10,230.84 L480.85,230.75 L481.60,230.67 L482.35,230.76 L483.10,230.62 L483.85,230.79 L484.60,230.62 L485.35,230.64 L486.10,230.69 L486.85,230.64 L487.60,230.75 L488.35,230.66 L489.10,230.66 L489.85,230.73 L490.60,230.74 L491.35,230.69 L492.10,230.76 L492.85,230.84 L493.60,230.68 L494.35,230.79 L495.10,230.74 L495.85,230.67 L496.60,230.81 L497.35,230.85 L498.10,230.82 L498.85,230.71 L499.60,230.77 L500.35,230.79 L501.10,230.74 L501.85,230.63 L502.60,230.79 L503.35,230.75 L504.10,230.64 L504.85,230.70 L505.60,230.78 L506.35,230.73 L507.10,230.73 L507.85,230.81 L508.60,230.75 L509.35,230.77 L510.10,230.65 L510.85,230.76 L511.60,230.68 L512.35,230.60 L513.10,230.61 L513.85,230.74 L514.60,230.69 L515.35,230.75 L516.10,230.73 L516.85,230.71 L517.60,230.64 L518.35,230.60 L519.10,230.75 L519.85,230.82 L520.60,230.71 L521.35,230.80 L522.10,230.81 L522.85,230.62 L523.60,230.78 L524.35,230.63 L525.10,230.71 L525.85,230.57 L526.60,230.59 L527.35,230.78 L528.10,230.74 L528.85,230.56 L529.60,230.63 L530.35,230.67 L531.10,230.58 L531.85,230.57 L532.60,230.64 L533.35,230.64 L534.10,230.72 L534.85,230.66 L535.60,230.70 L536.35,230.58 L537.10,230.58 L537.85,230.68 L538.60,230.55 L539.35,230.67 L540.10,230.66 L540.85,230.52 L541.60,230.55 L542.35,230.44 L543.10,230.49 L543.85,230.46 L544.60,230.58 L545.35,230.40 L546.10,230.56 L546.85,230.41 L547.60,230.32 L548.35,230.30 L549.10,230.28 L549.85,230.35 L550.60,230.26 L551.35,230.20 L552.10,230.31 L552.85,230.06 L553.60,230.01 L554.35,230.04 L555.10,229.87 L555.85,229.83 L556.60,229.74 L557.35,229.46 L558.10,229.41 L558.85,228.99 L559.60,228.66 L560.35,228.48 L561.10,227.93 L561.85,227.68 L562.60,226.98 L563.35,226.55 L564.10,225.76 L564.85,225.22 L565.60,224.41 L566.35,223.92 L567.10,223.21 L567.85,222.38 L568.60,221.85 L569.35,221.41 L570.10,221.21 L570.85,221.04 L571.60,221.05 L572.35,221.36 L573.10,221.53 L573.85,222.12 L574.60,222.70 L575.35,223.43 L576.10,224.22 L576.85,224.99 L577.60,225.51 L578.35,226.30 L579.10,226.78 L579.85,227.34 L580.60,227.81 L581.35,228.34 L582.10,228.70 L582.85,228.91 L583.60,229.29 L584.35,229.39 L585.10,229.66 L585.85,229.78 L586.60,229.93 L587.35,229.93 L588.10,230.05 L588.85,230.16 L589.60,230.21 L590.35,230.18 L591.10,230.13 L591.85,230.28 L592.60,230.37 L593.35,230.36 L594.10,230.39 L594.85,230.33 L595.60,230.29 L596.35,230.36 L597.10,230.46 L597.85,230.44 L598.60,230.43 L599.35,230.42 L600.10,230.43 L600.85,230.29 L601.60,230.39 L602.35,230.36 L603.10,230.34 L603.85,230.34 L604.60,230.29 L605.35,230.37 L606.10,230.28 L606.85,230.17 L607.60,230.33 L608.35,230.18 L609.10,230.19 L609.85,230.22 L610.60,230.16 L611.35,229.93 L612.10,230.01 L612.85,229.79 L613.60,229.85 L614.35,229.69 L615.10,229.68 L615.85,229.46 L616.60,229.30 L617.35,229.33 L618.10,229.15 L618.85,228.96 L619.60,229.02 L620.35,228.89 L621.10,228.76 L621.85,228.66 L622.60,228.79 L623.35,228.65 L624.10,228.78 L624.85,228.80 L625.60,228.63 L626.35,228.91 L627.10,228.77 L627.85,228.89 L628.60,229.00 L629.35,229.09 L630.10,229.21 L630.85,229.40 L631.60,229.47 L632.35,229.63 L633.10,229.57 L633.85,229.69 L634.60,229.77 L635.35,229.99 L636.10,229.98 L636.85,230.13 L637.60,230.06 L638.35,230.13 L639.10,230.12 L639.85,230.23 L640.60,230.28 L641.35,230.29 L642.10,230.48 L642.85,230.38 L643.60,230.54 L644.35,230.47 L645.10,230.55 L645.85,230.36 L646.60,230.58 L647.35,230.37 L648.10,230.36 L648.85,230.48 L649.60,230.38 L650.35,230.56 L651.10,230.53 L651.85,230.54 L652.60,230.51 L653.35,230.50 L654.10,230.27 L654.85,230.41 L655.60,230.25 L656.35,230.28 L657.10,230.26 L657.85,230.13 L658.60,230.12 L659.35,229.85 L660.10,229.90 L660.85,229.76 L661.60,229.66 L662.35,229.54 L663.10,229.46 L663.85,229.39 L664.60,229.29 L665.35,228.98 L666.10,229.02 L666.85,228.83 L667.60,228.62 L668.35,228.56 L669.10,228.37 L669.85,228.31 L670.60,228.32 L671.35,228.36 L672.10,228.23 L672.85,228.26 L673.60,228.19 L674.35,228.32 L675.10,228.36 L675.85,228.43 L676.60,228.62 L677.35,228.65 L678.10,228.76 L678.85,229.07 L679.60,229.02 L680.35,229.16 L681.10,229.29 L681.85,229.54 L682.60,229.68 L683.35,229.82 L684.10,229.87 L684.85,229.85 L685.60,230.05 L686.35,230.22 L687.10,230.22 L687.85,230.34 L688.60,230.27 L689.35,230.28 L690.10,230.29 L690.85,230.53 L691.60,230.50 L692.35,230.59 L693.10,230.43 L693.85,230.47 L694.60,230.56 L695.35,230.47 L696.10,230.59 L696.85,230.54 L697.60,230.62 L698.35,230.66 L699.10,230.52 L699.85,230.57 L700.60,230.63 L701.35,230.57 L702.10,230.63 L702.85,230.60 L703.60,230.78 L704.35,230.77 L705.10,230.78 L705.85,230.67 L706.60,230.64 L707.35,230.78 L708.10,230.70 L708.85,230.80 L709.60,230.66 L710.35,230.64 L711.10,230.81 L711.85,230.60 L712.60,230.68 L713.35,230.81 L714.10,230.76 L714.85,230.81 L715.60,230.67 L716.35,230.63 L717.10,230.81" fill="none" stroke="#30f030" stroke-width="1.9" stroke-linejoin="round"/>
<text transform="translate(713.00,225.40) scale(1,1.035)" font-size="9.6" text-anchor="end" fill="#30f030"><tspan font-style="italic">x</tspan> = 0.45</text>
<path d="M426.10,246.55 L426.85,246.56 L427.60,246.40 L428.35,246.50 L429.10,246.33 L429.85,246.30 L430.60,246.29 L431.35,246.07 L432.10,246.05 L432.85,245.79 L433.60,245.69 L434.35,245.45 L435.10,245.10 L435.85,244.70 L436.60,244.53 L437.35,244.14 L438.10,243.65 L438.85,243.17 L439.60,242.87 L440.35,242.54 L441.10,242.08 L441.85,242.06 L442.60,241.72 L443.35,241.83 L444.10,241.96 L444.85,242.18 L445.60,242.42 L446.35,242.65 L447.10,243.20 L447.85,243.50 L448.60,243.88 L449.35,244.33 L450.10,244.64 L450.85,245.07 L451.60,245.35 L452.35,245.56 L453.10,245.65 L453.85,245.89 L454.60,246.06 L455.35,246.11 L456.10,246.24 L456.85,246.35 L457.60,246.29 L458.35,246.36 L459.10,246.51 L459.85,246.46 L460.60,246.50 L461.35,246.44 L462.10,246.49 L462.85,246.62 L463.60,246.46 L464.35,246.68 L465.10,246.62 L465.85,246.55 L466.60,246.70 L467.35,246.63 L468.10,246.74 L468.85,246.60 L469.60,246.58 L470.35,246.63 L471.10,246.57 L471.85,246.71 L472.60,246.62 L473.35,246.65 L474.10,246.65 L474.85,246.69 L475.60,246.60 L476.35,246.57 L477.10,246.69 L477.85,246.65 L478.60,246.79 L479.35,246.64 L480.10,246.65 L480.85,246.57 L481.60,246.62 L482.35,246.75 L483.10,246.72 L483.85,246.65 L484.60,246.81 L485.35,246.70 L486.10,246.78 L486.85,246.79 L487.60,246.80 L488.35,246.63 L489.10,246.78 L489.85,246.76 L490.60,246.72 L491.35,246.60 L492.10,246.79 L492.85,246.70 L493.60,246.68 L494.35,246.60 L495.10,246.61 L495.85,246.60 L496.60,246.73 L497.35,246.70 L498.10,246.71 L498.85,246.58 L499.60,246.55 L500.35,246.74 L501.10,246.73 L501.85,246.71 L502.60,246.70 L503.35,246.62 L504.10,246.59 L504.85,246.65 L505.60,246.69 L506.35,246.57 L507.10,246.56 L507.85,246.49 L508.60,246.37 L509.35,246.40 L510.10,246.41 L510.85,246.34 L511.60,246.29 L512.35,246.40 L513.10,246.15 L513.85,246.13 L514.60,246.06 L515.35,246.03 L516.10,246.08 L516.85,246.04 L517.60,246.07 L518.35,245.91 L519.10,246.02 L519.85,246.01 L520.60,245.96 L521.35,245.98 L522.10,245.95 L522.85,246.03 L523.60,246.07 L524.35,246.07 L525.10,246.12 L525.85,246.10 L526.60,246.22 L527.35,246.06 L528.10,246.16 L528.85,246.32 L529.60,246.33 L530.35,246.34 L531.10,246.37 L531.85,246.46 L532.60,246.31 L533.35,246.30 L534.10,246.45 L534.85,246.46 L535.60,246.57 L536.35,246.58 L537.10,246.53 L537.85,246.56 L538.60,246.42 L539.35,246.59 L540.10,246.62 L540.85,246.39 L541.60,246.49 L542.35,246.58 L543.10,246.48 L543.85,246.59 L544.60,246.46 L545.35,246.35 L546.10,246.36 L546.85,246.39 L547.60,246.48 L548.35,246.44 L549.10,246.47 L549.85,246.30 L550.60,246.33 L551.35,246.25 L552.10,246.32 L552.85,246.31 L553.60,246.13 L554.35,246.04 L555.10,246.01 L555.85,245.96 L556.60,245.87 L557.35,245.78 L558.10,245.78 L558.85,245.55 L559.60,245.40 L560.35,245.25 L561.10,244.98 L561.85,244.60 L562.60,244.23 L563.35,243.69 L564.10,243.14 L564.85,242.71 L565.60,241.98 L566.35,241.31 L567.10,240.63 L567.85,240.05 L568.60,239.37 L569.35,238.67 L570.10,238.05 L570.85,237.51 L571.60,237.00 L572.35,236.70 L573.10,236.66 L573.85,236.89 L574.60,237.18 L575.35,237.62 L576.10,238.38 L576.85,238.91 L577.60,239.56 L578.35,240.31 L579.10,241.02 L579.85,241.76 L580.60,242.46 L581.35,242.89 L582.10,243.52 L582.85,243.87 L583.60,244.23 L584.35,244.72 L585.10,245.01 L585.85,245.12 L586.60,245.38 L587.35,245.68 L588.10,245.83 L588.85,245.94 L589.60,245.85 L590.35,245.95 L591.10,246.17 L591.85,246.05 L592.60,246.06 L593.35,246.17 L594.10,246.27 L594.85,246.25 L595.60,246.37 L596.35,246.42 L597.10,246.20 L597.85,246.29 L598.60,246.33 L599.35,246.25 L600.10,246.37 L600.85,246.27 L601.60,246.28 L602.35,246.43 L603.10,246.42 L603.85,246.40 L604.60,246.41 L605.35,246.31 L606.10,246.37 L606.85,246.31 L607.60,246.36 L608.35,246.14 L609.10,246.23 L609.85,246.16 L610.60,246.07 L611.35,245.93 L612.10,245.97 L612.85,245.76 L613.60,245.76 L614.35,245.65 L615.10,245.53 L615.85,245.52 L616.60,245.28 L617.35,245.19 L618.10,245.07 L618.85,244.71 L619.60,244.70 L620.35,244.46 L621.10,244.23 L621.85,244.12 L622.60,244.03 L623.35,243.86 L624.10,243.76 L624.85,243.64 L625.60,243.77 L626.35,243.67 L627.10,243.78 L627.85,243.85 L628.60,243.84 L629.35,244.03 L630.10,244.17 L630.85,244.28 L631.60,244.41 L632.35,244.69 L633.10,244.82 L633.85,245.01 L634.60,245.17 L635.35,245.28 L636.10,245.48 L636.85,245.59 L637.60,245.72 L638.35,245.72 L639.10,245.87 L639.85,245.91 L640.60,245.97 L641.35,246.20 L642.10,246.19 L642.85,246.14 L643.60,246.21 L644.35,246.41 L645.10,246.44 L645.85,246.39 L646.60,246.49 L647.35,246.47 L648.10,246.52 L648.85,246.38 L649.60,246.36 L650.35,246.34 L651.10,246.52 L651.85,246.38 L652.60,246.39 L653.35,246.50 L654.10,246.32 L654.85,246.28 L655.60,246.44 L656.35,246.24 L657.10,246.35 L657.85,246.29 L658.60,246.13 L659.35,246.12 L660.10,246.21 L660.85,246.08 L661.60,245.97 L662.35,245.91 L663.10,245.83 L663.85,245.66 L664.60,245.41 L665.35,245.41 L666.10,245.09 L666.85,244.92 L667.60,244.80 L668.35,244.49 L669.10,244.18 L669.85,243.96 L670.60,243.82 L671.35,243.36 L672.10,243.19 L672.85,242.95 L673.60,243.01 L674.35,242.86 L675.10,242.85 L675.85,242.68 L676.60,242.86 L677.35,243.00 L678.10,243.09 L678.85,243.17 L679.60,243.41 L680.35,243.79 L681.10,244.06 L681.85,244.12 L682.60,244.45 L683.35,244.66 L684.10,245.03 L684.85,245.25 L685.60,245.29 L686.35,245.52 L687.10,245.77 L687.85,245.70 L688.60,245.89 L689.35,245.96 L690.10,246.22 L690.85,246.12 L691.60,246.37 L692.35,246.24 L693.10,246.39 L693.85,246.46 L694.60,246.44 L695.35,246.38 L696.10,246.56 L696.85,246.62 L697.60,246.54 L698.35,246.62 L699.10,246.67 L699.85,246.67 L700.60,246.71 L701.35,246.68 L702.10,246.66 L702.85,246.67 L703.60,246.57 L704.35,246.69 L705.10,246.65 L705.85,246.73 L706.60,246.70 L707.35,246.78 L708.10,246.73 L708.85,246.79 L709.60,246.62 L710.35,246.67 L711.10,246.76 L711.85,246.70 L712.60,246.59 L713.35,246.79 L714.10,246.62 L714.85,246.72 L715.60,246.71 L716.35,246.63 L717.10,246.74" fill="none" stroke="#107a10" stroke-width="1.9" stroke-linejoin="round"/>
<text transform="translate(713.00,241.40) scale(1,1.035)" font-size="9.6" text-anchor="end" fill="#107a10"><tspan font-style="italic">x</tspan> = 0.40</text>
<path d="M426.10,262.72 L426.85,262.52 L427.60,262.70 L428.35,262.53 L429.10,262.64 L429.85,262.56 L430.60,262.33 L431.35,262.45 L432.10,262.26 L432.85,262.20 L433.60,262.07 L434.35,261.90 L435.10,261.78 L435.85,261.40 L436.60,261.32 L437.35,260.99 L438.10,260.70 L438.85,260.28 L439.60,259.86 L440.35,259.34 L441.10,259.06 L441.85,258.75 L442.60,258.39 L443.35,257.96 L444.10,258.02 L444.85,257.85 L445.60,257.99 L446.35,258.11 L447.10,258.47 L447.85,258.73 L448.60,259.17 L449.35,259.53 L450.10,259.87 L450.85,260.33 L451.60,260.79 L452.35,261.13 L453.10,261.20 L453.85,261.56 L454.60,261.84 L455.35,261.84 L456.10,262.08 L456.85,262.16 L457.60,262.22 L458.35,262.44 L459.10,262.49 L459.85,262.41 L460.60,262.63 L461.35,262.51 L462.10,262.70 L462.85,262.58 L463.60,262.60 L464.35,262.55 L465.10,262.59 L465.85,262.69 L466.60,262.77 L467.35,262.79 L468.10,262.71 L468.85,262.72 L469.60,262.83 L470.35,262.64 L471.10,262.74 L471.85,262.70 L472.60,262.82 L473.35,262.82 L474.10,262.88 L474.85,262.80 L475.60,262.83 L476.35,262.79 L477.10,262.80 L477.85,262.70 L478.60,262.69 L479.35,262.86 L480.10,262.81 L480.85,262.87 L481.60,262.75 L482.35,262.67 L483.10,262.86 L483.85,262.73 L484.60,262.84 L485.35,262.91 L486.10,262.73 L486.85,262.83 L487.60,262.87 L488.35,262.81 L489.10,262.86 L489.85,262.81 L490.60,262.80 L491.35,262.81 L492.10,262.77 L492.85,262.84 L493.60,262.88 L494.35,262.88 L495.10,262.88 L495.85,262.77 L496.60,262.81 L497.35,262.70 L498.10,262.77 L498.85,262.72 L499.60,262.64 L500.35,262.86 L501.10,262.86 L501.85,262.82 L502.60,262.76 L503.35,262.70 L504.10,262.65 L504.85,262.72 L505.60,262.56 L506.35,262.77 L507.10,262.55 L507.85,262.67 L508.60,262.48 L509.35,262.65 L510.10,262.40 L510.85,262.41 L511.60,262.31 L512.35,262.37 L513.10,262.42 L513.85,262.18 L514.60,262.26 L515.35,262.30 L516.10,262.13 L516.85,262.11 L517.60,262.08 L518.35,262.13 L519.10,262.11 L519.85,261.98 L520.60,262.00 L521.35,262.08 L522.10,262.02 L522.85,261.97 L523.60,262.00 L524.35,262.09 L525.10,262.15 L525.85,262.20 L526.60,262.27 L527.35,262.32 L528.10,262.30 L528.85,262.42 L529.60,262.31 L530.35,262.35 L531.10,262.41 L531.85,262.58 L532.60,262.53 L533.35,262.54 L534.10,262.64 L534.85,262.44 L535.60,262.51 L536.35,262.58 L537.10,262.54 L537.85,262.67 L538.60,262.67 L539.35,262.60 L540.10,262.55 L540.85,262.57 L541.60,262.72 L542.35,262.57 L543.10,262.49 L543.85,262.53 L544.60,262.47 L545.35,262.45 L546.10,262.62 L546.85,262.59 L547.60,262.52 L548.35,262.40 L549.10,262.53 L549.85,262.37 L550.60,262.37 L551.35,262.43 L552.10,262.38 L552.85,262.27 L553.60,262.27 L554.35,262.35 L555.10,262.17 L555.85,262.27 L556.60,262.16 L557.35,261.94 L558.10,261.86 L558.85,261.87 L559.60,261.73 L560.35,261.48 L561.10,261.22 L561.85,261.01 L562.60,260.66 L563.35,260.37 L564.10,259.96 L564.85,259.57 L565.60,259.14 L566.35,258.57 L567.10,257.96 L567.85,257.31 L568.60,256.57 L569.35,256.03 L570.10,255.39 L570.85,254.58 L571.60,254.10 L572.35,253.55 L573.10,253.24 L573.85,252.83 L574.60,252.90 L575.35,253.00 L576.10,253.15 L576.85,253.64 L577.60,254.23 L578.35,254.69 L579.10,255.46 L579.85,256.16 L580.60,256.69 L581.35,257.39 L582.10,258.03 L582.85,258.73 L583.60,259.13 L584.35,259.67 L585.10,260.04 L585.85,260.52 L586.60,260.75 L587.35,261.02 L588.10,261.35 L588.85,261.48 L589.60,261.62 L590.35,261.70 L591.10,261.83 L591.85,261.96 L592.60,262.19 L593.35,262.14 L594.10,262.17 L594.85,262.36 L595.60,262.30 L596.35,262.23 L597.10,262.25 L597.85,262.27 L598.60,262.49 L599.35,262.38 L600.10,262.33 L600.85,262.39 L601.60,262.48 L602.35,262.55 L603.10,262.35 L603.85,262.36 L604.60,262.41 L605.35,262.47 L606.10,262.36 L606.85,262.35 L607.60,262.35 L608.35,262.37 L609.10,262.41 L609.85,262.39 L610.60,262.34 L611.35,262.30 L612.10,262.21 L612.85,262.25 L613.60,262.04 L614.35,262.06 L615.10,262.03 L615.85,261.92 L616.60,261.79 L617.35,261.68 L618.10,261.48 L618.85,261.53 L619.60,261.38 L620.35,261.23 L621.10,261.13 L621.85,260.87 L622.60,260.89 L623.35,260.79 L624.10,260.55 L624.85,260.41 L625.60,260.31 L626.35,260.31 L627.10,260.33 L627.85,260.18 L628.60,260.23 L629.35,260.33 L630.10,260.37 L630.85,260.36 L631.60,260.44 L632.35,260.57 L633.10,260.89 L633.85,260.97 L634.60,261.08 L635.35,261.27 L636.10,261.25 L636.85,261.55 L637.60,261.47 L638.35,261.66 L639.10,261.76 L639.85,261.90 L640.60,261.87 L641.35,262.04 L642.10,262.04 L642.85,262.10 L643.60,262.21 L644.35,262.20 L645.10,262.36 L645.85,262.43 L646.60,262.35 L647.35,262.45 L648.10,262.53 L648.85,262.46 L649.60,262.53 L650.35,262.62 L651.10,262.46 L651.85,262.55 L652.60,262.44 L653.35,262.55 L654.10,262.45 L654.85,262.60 L655.60,262.61 L656.35,262.52 L657.10,262.45 L657.85,262.42 L658.60,262.44 L659.35,262.54 L660.10,262.44 L660.85,262.49 L661.60,262.36 L662.35,262.17 L663.10,262.25 L663.85,262.09 L664.60,262.02 L665.35,262.04 L666.10,261.80 L666.85,261.83 L667.60,261.68 L668.35,261.44 L669.10,261.40 L669.85,261.04 L670.60,261.01 L671.35,260.79 L672.10,260.54 L672.85,260.58 L673.60,260.21 L674.35,260.29 L675.10,260.03 L675.85,259.92 L676.60,259.76 L677.35,259.88 L678.10,259.73 L678.85,259.84 L679.60,259.95 L680.35,260.12 L681.10,260.23 L681.85,260.34 L682.60,260.50 L683.35,260.66 L684.10,260.73 L684.85,261.01 L685.60,261.12 L686.35,261.42 L687.10,261.55 L687.85,261.56 L688.60,261.65 L689.35,261.91 L690.10,262.10 L690.85,262.15 L691.60,262.21 L692.35,262.29 L693.10,262.31 L693.85,262.44 L694.60,262.41 L695.35,262.42 L696.10,262.46 L696.85,262.51 L697.60,262.57 L698.35,262.68 L699.10,262.56 L699.85,262.71 L700.60,262.59 L701.35,262.70 L702.10,262.67 L702.85,262.71 L703.60,262.69 L704.35,262.77 L705.10,262.72 L705.85,262.69 L706.60,262.79 L707.35,262.74 L708.10,262.78 L708.85,262.78 L709.60,262.80 L710.35,262.77 L711.10,262.73 L711.85,262.87 L712.60,262.88 L713.35,262.72 L714.10,262.90 L714.85,262.73 L715.60,262.74 L716.35,262.88 L717.10,262.78" fill="none" stroke="#0a5a0a" stroke-width="1.9" stroke-linejoin="round"/>
<text transform="translate(713.00,256.60) scale(1,1.035)" font-size="9.6" text-anchor="end" fill="#0a5a0a"><tspan font-style="italic">x</tspan> = 0.33</text>
<path d="M426.10,278.76 L426.85,278.77 L427.60,278.80 L428.35,278.60 L429.10,278.78 L429.85,278.62 L430.60,278.48 L431.35,278.62 L432.10,278.44 L432.85,278.33 L433.60,278.36 L434.35,278.13 L435.10,277.88 L435.85,277.72 L436.60,277.39 L437.35,277.22 L438.10,276.84 L438.85,276.46 L439.60,275.91 L440.35,275.32 L441.10,274.89 L441.85,274.33 L442.60,273.95 L443.35,273.44 L444.10,273.28 L444.85,273.06 L445.60,272.95 L446.35,273.08 L447.10,273.44 L447.85,273.92 L448.60,274.35 L449.35,274.86 L450.10,275.36 L450.85,275.73 L451.60,276.34 L452.35,276.59 L453.10,276.97 L453.85,277.49 L454.60,277.68 L455.35,277.88 L456.10,278.18 L456.85,278.23 L457.60,278.23 L458.35,278.52 L459.10,278.47 L459.85,278.65 L460.60,278.58 L461.35,278.55 L462.10,278.74 L462.85,278.82 L463.60,278.82 L464.35,278.73 L465.10,278.87 L465.85,278.87 L466.60,278.78 L467.35,278.69 L468.10,278.82 L468.85,278.84 L469.60,278.79 L470.35,278.93 L471.10,278.82 L471.85,278.92 L472.60,278.82 L473.35,278.74 L474.10,278.96 L474.85,278.85 L475.60,278.84 L476.35,278.95 L477.10,278.93 L477.85,278.76 L478.60,278.76 L479.35,278.97 L480.10,278.83 L480.85,278.78 L481.60,278.95 L482.35,278.86 L483.10,279.00 L483.85,278.92 L484.60,278.85 L485.35,278.87 L486.10,278.83 L486.85,278.99 L487.60,278.93 L488.35,278.81 L489.10,278.87 L489.85,278.91 L490.60,278.92 L491.35,278.78 L492.10,278.87 L492.85,279.01 L493.60,278.82 L494.35,278.93 L495.10,278.90 L495.85,278.95 L496.60,278.90 L497.35,278.92 L498.10,278.97 L498.85,278.84 L499.60,278.96 L500.35,278.79 L501.10,278.97 L501.85,278.78 L502.60,278.76 L503.35,278.83 L504.10,278.76 L504.85,278.86 L505.60,278.72 L506.35,278.78 L507.10,278.80 L507.85,278.60 L508.60,278.71 L509.35,278.68 L510.10,278.53 L510.85,278.61 L511.60,278.50 L512.35,278.58 L513.10,278.37 L513.85,278.47 L514.60,278.47 L515.35,278.20 L516.10,278.35 L516.85,278.12 L517.60,278.07 L518.35,278.13 L519.10,278.25 L519.85,278.22 L520.60,278.18 L521.35,278.14 L522.10,278.10 L522.85,278.03 L523.60,278.21 L524.35,278.29 L525.10,278.23 L525.85,278.37 L526.60,278.43 L527.35,278.36 L528.10,278.37 L528.85,278.56 L529.60,278.51 L530.35,278.48 L531.10,278.50 L531.85,278.63 L532.60,278.53 L533.35,278.73 L534.10,278.62 L534.85,278.63 L535.60,278.62 L536.35,278.72 L537.10,278.83 L537.85,278.85 L538.60,278.74 L539.35,278.83 L540.10,278.72 L540.85,278.85 L541.60,278.68 L542.35,278.82 L543.10,278.86 L543.85,278.82 L544.60,278.75 L545.35,278.72 L546.10,278.75 L546.85,278.79 L547.60,278.71 L548.35,278.59 L549.10,278.67 L549.85,278.56 L550.60,278.77 L551.35,278.52 L552.10,278.53 L552.85,278.59 L553.60,278.57 L554.35,278.55 L555.10,278.43 L555.85,278.60 L556.60,278.42 L557.35,278.40 L558.10,278.40 L558.85,278.24 L559.60,278.16 L560.35,278.21 L561.10,277.94 L561.85,277.85 L562.60,277.66 L563.35,277.40 L564.10,277.27 L564.85,276.82 L565.60,276.49 L566.35,275.93 L567.10,275.57 L567.85,274.86 L568.60,274.25 L569.35,273.59 L570.10,272.81 L570.85,272.28 L571.60,271.41 L572.35,270.72 L573.10,270.10 L573.85,269.69 L574.60,269.46 L575.35,269.32 L576.10,269.31 L576.85,269.71 L577.60,270.20 L578.35,270.72 L579.10,271.37 L579.85,272.08 L580.60,272.94 L581.35,273.48 L582.10,274.27 L582.85,274.80 L583.60,275.56 L584.35,275.85 L585.10,276.38 L585.85,276.67 L586.60,277.00 L587.35,277.31 L588.10,277.71 L588.85,277.83 L589.60,278.01 L590.35,278.00 L591.10,278.24 L591.85,278.31 L592.60,278.40 L593.35,278.45 L594.10,278.30 L594.85,278.32 L595.60,278.50 L596.35,278.43 L597.10,278.52 L597.85,278.53 L598.60,278.58 L599.35,278.53 L600.10,278.64 L600.85,278.64 L601.60,278.59 L602.35,278.67 L603.10,278.62 L603.85,278.50 L604.60,278.72 L605.35,278.70 L606.10,278.53 L606.85,278.70 L607.60,278.65 L608.35,278.49 L609.10,278.54 L609.85,278.61 L610.60,278.63 L611.35,278.54 L612.10,278.50 L612.85,278.34 L613.60,278.24 L614.35,278.22 L615.10,278.11 L615.85,278.02 L616.60,277.93 L617.35,277.80 L618.10,277.65 L618.85,277.71 L619.60,277.49 L620.35,277.33 L621.10,277.05 L621.85,276.87 L622.60,276.69 L623.35,276.36 L624.10,276.25 L624.85,276.09 L625.60,275.88 L626.35,275.67 L627.10,275.50 L627.85,275.42 L628.60,275.40 L629.35,275.47 L630.10,275.47 L630.85,275.59 L631.60,275.77 L632.35,275.85 L633.10,276.13 L633.85,276.21 L634.60,276.44 L635.35,276.78 L636.10,276.88 L636.85,277.15 L637.60,277.32 L638.35,277.46 L639.10,277.58 L639.85,277.70 L640.60,277.87 L641.35,278.12 L642.10,278.14 L642.85,278.28 L643.60,278.43 L644.35,278.37 L645.10,278.44 L645.85,278.39 L646.60,278.56 L647.35,278.47 L648.10,278.57 L648.85,278.69 L649.60,278.56 L650.35,278.67 L651.10,278.62 L651.85,278.74 L652.60,278.76 L653.35,278.54 L654.10,278.75 L654.85,278.72 L655.60,278.71 L656.35,278.72 L657.10,278.54 L657.85,278.49 L658.60,278.56 L659.35,278.60 L660.10,278.46 L660.85,278.52 L661.60,278.57 L662.35,278.40 L663.10,278.42 L663.85,278.38 L664.60,278.28 L665.35,278.17 L666.10,278.10 L666.85,277.86 L667.60,277.63 L668.35,277.51 L669.10,277.43 L669.85,277.03 L670.60,276.92 L671.35,276.51 L672.10,276.11 L672.85,275.82 L673.60,275.43 L674.35,275.13 L675.10,274.91 L675.85,274.65 L676.60,274.32 L677.35,274.06 L678.10,274.05 L678.85,273.98 L679.60,273.93 L680.35,274.15 L681.10,274.30 L681.85,274.57 L682.60,274.79 L683.35,275.33 L684.10,275.64 L684.85,275.84 L685.60,276.19 L686.35,276.65 L687.10,276.94 L687.85,277.19 L688.60,277.35 L689.35,277.49 L690.10,277.84 L690.85,278.01 L691.60,278.04 L692.35,278.22 L693.10,278.22 L693.85,278.27 L694.60,278.36 L695.35,278.47 L696.10,278.57 L696.85,278.71 L697.60,278.57 L698.35,278.70 L699.10,278.70 L699.85,278.68 L700.60,278.62 L701.35,278.74 L702.10,278.66 L702.85,278.67 L703.60,278.89 L704.35,278.83 L705.10,278.72 L705.85,278.75 L706.60,278.71 L707.35,278.91 L708.10,278.83 L708.85,278.74 L709.60,278.84 L710.35,278.82 L711.10,278.75 L711.85,278.95 L712.60,278.98 L713.35,278.79 L714.10,278.86 L714.85,278.96 L715.60,278.81 L716.35,278.95 L717.10,278.99" fill="none" stroke="#10b4f0" stroke-width="1.9" stroke-linejoin="round"/>
<text transform="translate(713.00,273.00) scale(1,1.035)" font-size="9.6" text-anchor="end" fill="#10b4f0"><tspan font-style="italic">x</tspan> = 0.30</text>
<path d="M426.10,294.78 L426.85,294.80 L427.60,294.75 L428.35,294.82 L429.10,294.65 L429.85,294.63 L430.60,294.65 L431.35,294.73 L432.10,294.61 L432.85,294.61 L433.60,294.58 L434.35,294.34 L435.10,294.24 L435.85,294.36 L436.60,294.03 L437.35,293.92 L438.10,293.76 L438.85,293.52 L439.60,293.12 L440.35,292.80 L441.10,292.33 L441.85,291.87 L442.60,291.48 L443.35,290.78 L444.10,290.18 L444.85,289.64 L445.60,289.23 L446.35,288.97 L447.10,288.71 L447.85,288.57 L448.60,288.45 L449.35,288.84 L450.10,289.20 L450.85,289.55 L451.60,290.22 L452.35,290.72 L453.10,291.30 L453.85,291.91 L454.60,292.26 L455.35,292.63 L456.10,293.17 L456.85,293.47 L457.60,293.70 L458.35,294.01 L459.10,294.08 L459.85,294.14 L460.60,294.30 L461.35,294.42 L462.10,294.41 L462.85,294.64 L463.60,294.58 L464.35,294.67 L465.10,294.64 L465.85,294.78 L466.60,294.65 L467.35,294.83 L468.10,294.83 L468.85,294.69 L469.60,294.67 L470.35,294.80 L471.10,294.82 L471.85,294.87 L472.60,294.87 L473.35,294.80 L474.10,294.91 L474.85,294.93 L475.60,294.86 L476.35,294.93 L477.10,294.82 L477.85,294.78 L478.60,294.80 L479.35,294.87 L480.10,294.91 L480.85,294.89 L481.60,295.00 L482.35,294.83 L483.10,294.93 L483.85,294.93 L484.60,294.99 L485.35,294.90 L486.10,294.87 L486.85,294.92 L487.60,294.81 L488.35,294.85 L489.10,294.96 L489.85,294.89 L490.60,294.80 L491.35,294.89 L492.10,294.87 L492.85,295.00 L493.60,294.90 L494.35,294.91 L495.10,294.92 L495.85,294.92 L496.60,294.87 L497.35,294.88 L498.10,294.89 L498.85,294.97 L499.60,294.90 L500.35,294.77 L501.10,294.90 L501.85,294.98 L502.60,294.98 L503.35,294.85 L504.10,294.96 L504.85,294.93 L505.60,294.92 L506.35,294.82 L507.10,294.67 L507.85,294.78 L508.60,294.76 L509.35,294.74 L510.10,294.70 L510.85,294.69 L511.60,294.59 L512.35,294.52 L513.10,294.53 L513.85,294.57 L514.60,294.48 L515.35,294.38 L516.10,294.53 L516.85,294.48 L517.60,294.36 L518.35,294.32 L519.10,294.31 L519.85,294.31 L520.60,294.25 L521.35,294.33 L522.10,294.26 L522.85,294.24 L523.60,294.39 L524.35,294.31 L525.10,294.38 L525.85,294.37 L526.60,294.60 L527.35,294.43 L528.10,294.49 L528.85,294.48 L529.60,294.50 L530.35,294.70 L531.10,294.63 L531.85,294.78 L532.60,294.69 L533.35,294.64 L534.10,294.83 L534.85,294.80 L535.60,294.88 L536.35,294.86 L537.10,294.87 L537.85,294.90 L538.60,294.69 L539.35,294.72 L540.10,294.83 L540.85,294.76 L541.60,294.77 L542.35,294.81 L543.10,294.84 L543.85,294.78 L544.60,294.80 L545.35,294.87 L546.10,294.84 L546.85,294.77 L547.60,294.77 L548.35,294.86 L549.10,294.76 L549.85,294.69 L550.60,294.68 L551.35,294.72 L552.10,294.85 L552.85,294.76 L553.60,294.83 L554.35,294.82 L555.10,294.76 L555.85,294.70 L556.60,294.61 L557.35,294.62 L558.10,294.69 L558.85,294.57 L559.60,294.59 L560.35,294.56 L561.10,294.58 L561.85,294.50 L562.60,294.48 L563.35,294.33 L564.10,294.32 L564.85,294.25 L565.60,294.14 L566.35,294.01 L567.10,293.80 L567.85,293.60 L568.60,293.33 L569.35,293.13 L570.10,292.68 L570.85,292.21 L571.60,291.71 L572.35,291.21 L573.10,290.73 L573.85,289.85 L574.60,289.12 L575.35,288.55 L576.10,287.72 L576.85,287.01 L577.60,286.28 L578.35,285.82 L579.10,285.59 L579.85,285.53 L580.60,285.68 L581.35,286.06 L582.10,286.42 L582.85,287.04 L583.60,287.94 L584.35,288.58 L585.10,289.29 L585.85,290.19 L586.60,290.78 L587.35,291.42 L588.10,291.84 L588.85,292.34 L589.60,292.95 L590.35,293.25 L591.10,293.37 L591.85,293.67 L592.60,293.86 L593.35,293.94 L594.10,294.07 L594.85,294.12 L595.60,294.35 L596.35,294.48 L597.10,294.37 L597.85,294.57 L598.60,294.48 L599.35,294.44 L600.10,294.57 L600.85,294.55 L601.60,294.67 L602.35,294.69 L603.10,294.59 L603.85,294.54 L604.60,294.52 L605.35,294.76 L606.10,294.56 L606.85,294.66 L607.60,294.71 L608.35,294.70 L609.10,294.65 L609.85,294.71 L610.60,294.76 L611.35,294.58 L612.10,294.61 L612.85,294.63 L613.60,294.59 L614.35,294.51 L615.10,294.68 L615.85,294.50 L616.60,294.47 L617.35,294.55 L618.10,294.45 L618.85,294.42 L619.60,294.42 L620.35,294.29 L621.10,294.28 L621.85,293.99 L622.60,294.07 L623.35,293.84 L624.10,293.73 L624.85,293.49 L625.60,293.39 L626.35,293.35 L627.10,293.19 L627.85,293.11 L628.60,292.97 L629.35,292.77 L630.10,292.49 L630.85,292.61 L631.60,292.51 L632.35,292.37 L633.10,292.44 L633.85,292.52 L634.60,292.40 L635.35,292.72 L636.10,292.71 L636.85,292.89 L637.60,293.05 L638.35,293.25 L639.10,293.41 L639.85,293.50 L640.60,293.56 L641.35,293.77 L642.10,293.83 L642.85,293.92 L643.60,294.20 L644.35,294.12 L645.10,294.28 L645.85,294.39 L646.60,294.43 L647.35,294.40 L648.10,294.56 L648.85,294.67 L649.60,294.50 L650.35,294.72 L651.10,294.75 L651.85,294.62 L652.60,294.73 L653.35,294.75 L654.10,294.67 L654.85,294.62 L655.60,294.75 L656.35,294.62 L657.10,294.69 L657.85,294.69 L658.60,294.71 L659.35,294.83 L660.10,294.79 L660.85,294.66 L661.60,294.65 L662.35,294.78 L663.10,294.64 L663.85,294.66 L664.60,294.61 L665.35,294.63 L666.10,294.65 L666.85,294.58 L667.60,294.39 L668.35,294.52 L669.10,294.29 L669.85,294.29 L670.60,294.30 L671.35,294.01 L672.10,294.07 L672.85,293.72 L673.60,293.65 L674.35,293.31 L675.10,293.13 L675.85,292.96 L676.60,292.63 L677.35,292.25 L678.10,292.15 L678.85,291.83 L679.60,291.51 L680.35,291.10 L681.10,290.98 L681.85,290.76 L682.60,290.52 L683.35,290.45 L684.10,290.48 L684.85,290.52 L685.60,290.79 L686.35,291.01 L687.10,291.25 L687.85,291.53 L688.60,291.66 L689.35,291.92 L690.10,292.43 L690.85,292.66 L691.60,293.03 L692.35,293.19 L693.10,293.37 L693.85,293.59 L694.60,293.71 L695.35,293.95 L696.10,294.21 L696.85,294.26 L697.60,294.34 L698.35,294.45 L699.10,294.59 L699.85,294.51 L700.60,294.59 L701.35,294.58 L702.10,294.70 L702.85,294.80 L703.60,294.77 L704.35,294.82 L705.10,294.77 L705.85,294.85 L706.60,294.89 L707.35,294.79 L708.10,294.89 L708.85,294.91 L709.60,294.92 L710.35,294.79 L711.10,294.77 L711.85,294.78 L712.60,294.84 L713.35,294.83 L714.10,294.81 L714.85,294.89 L715.60,294.88 L716.35,294.83 L717.10,294.86" fill="none" stroke="#1414d0" stroke-width="1.9" stroke-linejoin="round"/>
<text transform="translate(713.00,289.00) scale(1,1.035)" font-size="9.6" text-anchor="end" fill="#1414d0"><tspan font-style="italic">x</tspan> = 0</text>
<rect x="426.1" y="41.5" width="291.0" height="292.4" fill="none" stroke="#111" stroke-width="1.4"/>
<line x1="426.10" y1="84.90" x2="717.10" y2="84.90" stroke="#111" stroke-width="1.4"/>
<line x1="426.10" y1="133.30" x2="717.10" y2="133.30" stroke="#111" stroke-width="1.4"/>
<line x1="426.10" y1="328.50" x2="717.10" y2="328.50" stroke="#111" stroke-width="1.4"/>
<line x1="440.65" y1="41.50" x2="440.65" y2="44.50" stroke="#111" stroke-width="1.1"/>
<line x1="440.65" y1="333.90" x2="440.65" y2="331.30" stroke="#111" stroke-width="1.1"/>
<line x1="455.20" y1="41.50" x2="455.20" y2="44.50" stroke="#111" stroke-width="1.1"/>
<line x1="455.20" y1="333.90" x2="455.20" y2="331.30" stroke="#111" stroke-width="1.1"/>
<line x1="469.75" y1="41.50" x2="469.75" y2="44.50" stroke="#111" stroke-width="1.1"/>
<line x1="469.75" y1="333.90" x2="469.75" y2="331.30" stroke="#111" stroke-width="1.1"/>
<line x1="484.30" y1="41.50" x2="484.30" y2="44.50" stroke="#111" stroke-width="1.1"/>
<line x1="484.30" y1="333.90" x2="484.30" y2="331.30" stroke="#111" stroke-width="1.1"/>
<line x1="498.85" y1="41.50" x2="498.85" y2="46.00" stroke="#111" stroke-width="1.1"/>
<line x1="498.85" y1="333.90" x2="498.85" y2="328.50" stroke="#111" stroke-width="1.1"/>
<line x1="513.40" y1="41.50" x2="513.40" y2="44.50" stroke="#111" stroke-width="1.1"/>
<line x1="513.40" y1="333.90" x2="513.40" y2="331.30" stroke="#111" stroke-width="1.1"/>
<line x1="527.95" y1="41.50" x2="527.95" y2="44.50" stroke="#111" stroke-width="1.1"/>
<line x1="527.95" y1="333.90" x2="527.95" y2="331.30" stroke="#111" stroke-width="1.1"/>
<line x1="542.50" y1="41.50" x2="542.50" y2="44.50" stroke="#111" stroke-width="1.1"/>
<line x1="542.50" y1="333.90" x2="542.50" y2="331.30" stroke="#111" stroke-width="1.1"/>
<line x1="557.05" y1="41.50" x2="557.05" y2="44.50" stroke="#111" stroke-width="1.1"/>
<line x1="557.05" y1="333.90" x2="557.05" y2="331.30" stroke="#111" stroke-width="1.1"/>
<line x1="571.60" y1="41.50" x2="571.60" y2="46.00" stroke="#111" stroke-width="1.1"/>
<line x1="571.60" y1="333.90" x2="571.60" y2="328.50" stroke="#111" stroke-width="1.1"/>
<line x1="586.15" y1="41.50" x2="586.15" y2="44.50" stroke="#111" stroke-width="1.1"/>
<line x1="586.15" y1="333.90" x2="586.15" y2="331.30" stroke="#111" stroke-width="1.1"/>
<line x1="600.70" y1="41.50" x2="600.70" y2="44.50" stroke="#111" stroke-width="1.1"/>
<line x1="600.70" y1="333.90" x2="600.70" y2="331.30" stroke="#111" stroke-width="1.1"/>
<line x1="615.25" y1="41.50" x2="615.25" y2="44.50" stroke="#111" stroke-width="1.1"/>
<line x1="615.25" y1="333.90" x2="615.25" y2="331.30" stroke="#111" stroke-width="1.1"/>
<line x1="629.80" y1="41.50" x2="629.80" y2="44.50" stroke="#111" stroke-width="1.1"/>
<line x1="629.80" y1="333.90" x2="629.80" y2="331.30" stroke="#111" stroke-width="1.1"/>
<line x1="644.35" y1="41.50" x2="644.35" y2="46.00" stroke="#111" stroke-width="1.1"/>
<line x1="644.35" y1="333.90" x2="644.35" y2="328.50" stroke="#111" stroke-width="1.1"/>
<line x1="658.90" y1="41.50" x2="658.90" y2="44.50" stroke="#111" stroke-width="1.1"/>
<line x1="658.90" y1="333.90" x2="658.90" y2="331.30" stroke="#111" stroke-width="1.1"/>
<line x1="673.45" y1="41.50" x2="673.45" y2="44.50" stroke="#111" stroke-width="1.1"/>
<line x1="673.45" y1="333.90" x2="673.45" y2="331.30" stroke="#111" stroke-width="1.1"/>
<line x1="688.00" y1="41.50" x2="688.00" y2="44.50" stroke="#111" stroke-width="1.1"/>
<line x1="688.00" y1="333.90" x2="688.00" y2="331.30" stroke="#111" stroke-width="1.1"/>
<line x1="702.55" y1="41.50" x2="702.55" y2="44.50" stroke="#111" stroke-width="1.1"/>
<line x1="702.55" y1="333.90" x2="702.55" y2="331.30" stroke="#111" stroke-width="1.1"/>
<text transform="translate(426.10,351.60) scale(1,1.035)" font-size="14.0" text-anchor="middle" fill="#111" font-weight="normal" font-style="normal" >20</text>
<text transform="translate(498.85,351.60) scale(1,1.035)" font-size="14.0" text-anchor="middle" fill="#111" font-weight="normal" font-style="normal" >25</text>
<text transform="translate(571.60,351.60) scale(1,1.035)" font-size="14.0" text-anchor="middle" fill="#111" font-weight="normal" font-style="normal" >30</text>
<text transform="translate(644.35,351.60) scale(1,1.035)" font-size="14.0" text-anchor="middle" fill="#111" font-weight="normal" font-style="normal" >35</text>
<text transform="translate(717.10,351.60) scale(1,1.035)" font-size="14.0" text-anchor="middle" fill="#111" font-weight="normal" font-style="normal" >40</text>
<text transform="translate(528.60,371.60) scale(1,1.035)" font-size="16.8" fill="#111">2</text>
<text transform="translate(539.40,371.60) scale(1,1.035)" font-size="16.8" font-style="italic" fill="#111">θ</text>
<text transform="translate(550.20,371.60) scale(1,1.035)" font-size="16.2" fill="#111">(degree)</text>
<text transform="translate(413.80,188.50) rotate(-90) scale(1,1.035)" font-size="16.4" text-anchor="middle" fill="#111">Intensity (a.u.)</text>
<line x1="439.92" y1="84.90" x2="439.92" y2="82.40" stroke="#111" stroke-width="1.5"/>
<line x1="450.54" y1="84.90" x2="450.54" y2="83.40" stroke="#111" stroke-width="1.5"/>
<line x1="464.80" y1="84.90" x2="464.80" y2="82.40" stroke="#111" stroke-width="1.5"/>
<line x1="501.61" y1="84.90" x2="501.61" y2="83.90" stroke="#111" stroke-width="1.5"/>
<line x1="503.36" y1="84.90" x2="503.36" y2="80.10" stroke="#111" stroke-width="1.5"/>
<line x1="508.31" y1="84.90" x2="508.31" y2="78.00" stroke="#111" stroke-width="1.5"/>
<line x1="513.40" y1="84.90" x2="513.40" y2="83.90" stroke="#111" stroke-width="1.5"/>
<line x1="517.77" y1="84.90" x2="517.77" y2="81.10" stroke="#111" stroke-width="1.5"/>
<line x1="520.09" y1="84.90" x2="520.09" y2="80.10" stroke="#111" stroke-width="1.5"/>
<line x1="529.70" y1="84.90" x2="529.70" y2="73.90" stroke="#111" stroke-width="1.5"/>
<line x1="534.21" y1="84.90" x2="534.21" y2="82.90" stroke="#111" stroke-width="1.5"/>
<line x1="563.60" y1="84.90" x2="563.60" y2="83.90" stroke="#111" stroke-width="1.5"/>
<line x1="590.08" y1="84.90" x2="590.08" y2="80.20" stroke="#111" stroke-width="1.5"/>
<line x1="602.45" y1="84.90" x2="602.45" y2="83.70" stroke="#111" stroke-width="1.5"/>
<line x1="609.14" y1="84.90" x2="609.14" y2="83.70" stroke="#111" stroke-width="1.5"/>
<line x1="619.62" y1="84.90" x2="619.62" y2="83.70" stroke="#111" stroke-width="1.5"/>
<line x1="633.00" y1="84.90" x2="633.00" y2="83.90" stroke="#111" stroke-width="1.5"/>
<line x1="647.55" y1="84.90" x2="647.55" y2="83.90" stroke="#111" stroke-width="1.5"/>
<line x1="658.90" y1="84.90" x2="658.90" y2="83.90" stroke="#111" stroke-width="1.5"/>
<line x1="667.63" y1="84.90" x2="667.63" y2="83.90" stroke="#111" stroke-width="1.5"/>
<line x1="679.56" y1="84.90" x2="679.56" y2="81.60" stroke="#111" stroke-width="1.5"/>
<line x1="681.31" y1="84.90" x2="681.31" y2="82.90" stroke="#111" stroke-width="1.5"/>
<line x1="684.07" y1="84.90" x2="684.07" y2="82.90" stroke="#111" stroke-width="1.5"/>
<line x1="708.37" y1="84.90" x2="708.37" y2="83.90" stroke="#111" stroke-width="1.5"/>
<line x1="714.92" y1="84.90" x2="714.92" y2="83.90" stroke="#111" stroke-width="1.5"/>
<line x1="430.47" y1="133.30" x2="430.47" y2="128.80" stroke="#111" stroke-width="1.5"/>
<line x1="497.69" y1="133.30" x2="497.69" y2="128.30" stroke="#111" stroke-width="1.5"/>
<line x1="555.01" y1="133.30" x2="555.01" y2="122.10" stroke="#111" stroke-width="1.5"/>
<line x1="606.08" y1="133.30" x2="606.08" y2="130.80" stroke="#111" stroke-width="1.5"/>
<line x1="652.21" y1="133.30" x2="652.21" y2="130.80" stroke="#111" stroke-width="1.5"/>
<line x1="448.94" y1="328.50" x2="448.94" y2="316.90" stroke="#111" stroke-width="1.5"/>
<line x1="520.68" y1="328.50" x2="520.68" y2="327.30" stroke="#111" stroke-width="1.5"/>
<line x1="581.49" y1="328.50" x2="581.49" y2="316.70" stroke="#111" stroke-width="1.5"/>
<line x1="635.62" y1="328.50" x2="635.62" y2="324.40" stroke="#111" stroke-width="1.5"/>
<line x1="685.09" y1="328.50" x2="685.09" y2="320.70" stroke="#111" stroke-width="1.5"/>
<text transform="translate(440.40,81.20) rotate(-90) scale(1,1.035)" font-size="7.4" fill="#222">(111)</text>
<text transform="translate(451.70,82.30) rotate(-90) scale(1,1.035)" font-size="7.4" fill="#222">(104)</text>
<text transform="translate(466.60,81.20) rotate(-90) scale(1,1.035)" font-size="7.4" fill="#222">(112)</text>
<text transform="translate(502.50,79.00) rotate(-90) scale(1,1.035)" font-size="7.4" fill="#222">(113)</text>
<text transform="translate(509.80,77.30) rotate(-90) scale(1,1.035)" font-size="7.4" fill="#222">(211)</text>
<text transform="translate(517.10,76.50) rotate(-90) scale(1,1.035)" font-size="7.4" fill="#222">(204)</text>
<text transform="translate(524.00,74.80) rotate(-90) scale(1,1.035)" font-size="7.4" fill="#222">(105)</text>
<text transform="translate(530.90,73.20) rotate(-90) scale(1,1.035)" font-size="7.4" fill="#222">(212)</text>
<text transform="translate(538.10,81.80) rotate(-90) scale(1,1.035)" font-size="7.4" fill="#222">(302)</text>
<text transform="translate(565.10,82.30) rotate(-90) scale(1,1.035)" font-size="7.4" fill="#222">(213)</text>
<text transform="translate(590.80,79.80) rotate(-90) scale(1,1.035)" font-size="7.4" fill="#222">(015)</text>
<text transform="translate(602.70,81.90) rotate(-90) scale(1,1.035)" font-size="7.4" fill="#222">(311)</text>
<text transform="translate(611.40,81.10) rotate(-90) scale(1,1.035)" font-size="7.4" fill="#222">(304)</text>
<text transform="translate(621.20,81.10) rotate(-90) scale(1,1.035)" font-size="7.4" fill="#222">(312)</text>
<text transform="translate(679.80,80.40) rotate(-90) scale(1,1.035)" font-size="7.4" fill="#222">(117)</text>
<text transform="translate(432.50,128.60) rotate(-90) scale(1,1.035)" font-size="7.4" fill="#222">(110)</text>
<text transform="translate(499.80,127.50) rotate(-90) scale(1,1.035)" font-size="7.4" fill="#222">(111)</text>
<text transform="translate(556.70,120.80) rotate(-90) scale(1,1.035)" font-size="7.4" fill="#222">(200)</text>
<text transform="translate(607.70,129.00) rotate(-90) scale(1,1.035)" font-size="7.4" fill="#222">(210)</text>
<text transform="translate(654.00,129.00) rotate(-90) scale(1,1.035)" font-size="7.4" fill="#222">(211)</text>
<text transform="translate(450.40,317.00) rotate(-90) scale(1,1.035)" font-size="7.4" fill="#222">(110)</text>
<text transform="translate(521.10,325.60) rotate(-90) scale(1,1.035)" font-size="7.4" fill="#222">(111)</text>
<text transform="translate(577.50,326.90) rotate(-90) scale(1,1.035)" font-size="7.4" fill="#222">(200)</text>
<text transform="translate(631.80,326.90) rotate(-90) scale(1,1.035)" font-size="7.4" fill="#222">(210)</text>
<text transform="translate(680.90,326.90) rotate(-90) scale(1,1.035)" font-size="7.4" fill="#222">(211)</text>
<text transform="translate(541.00,53.50) scale(1,1.035)" font-size="9.5" fill="#222">orthorhombic CsPbI<tspan font-size="6.5" dy="3.6">3</tspan><tspan dy="-3.6"> (ICDD01-076-8587)</tspan></text>
<text transform="translate(571.80,101.00) scale(1,1.035)" font-size="9.5" fill="#222">cubic CsPbI<tspan font-size="6.5" dy="3.6">3</tspan><tspan dy="-3.6" dx="1.2"> (ICDD01-080-4039)</tspan></text>
<text transform="translate(561.50,306.70) scale(1,1.035)" font-size="9.5" fill="#222">cubic CsPbBr<tspan font-size="6.5" dy="3.6">3</tspan><tspan dy="-3.6" dx="1.2"> (ICDD00-054-0752)</tspan></text>
<path d="M64.10,613.69 L64.85,613.66 L65.60,613.57 L66.35,613.68 L67.10,613.67 L67.86,613.65 L68.61,613.75 L69.36,613.67 L70.11,613.64 L70.86,613.60 L71.61,613.77 L72.36,613.72 L73.11,613.77 L73.86,613.59 L74.61,613.62 L75.37,613.78 L76.12,613.55 L76.87,613.55 L77.62,613.63 L78.37,613.64 L79.12,613.74 L79.87,613.78 L80.62,613.65 L81.37,613.76 L82.12,613.73 L82.88,613.72 L83.63,613.77 L84.38,613.66 L85.13,613.67 L85.88,613.57 L86.63,613.64 L87.38,613.61 L88.13,613.64 L88.88,613.60 L89.64,613.65 L90.39,613.69 L91.14,613.51 L91.89,613.50 L92.64,613.53 L93.39,613.56 L94.14,613.64 L94.89,613.65 L95.64,613.62 L96.39,613.64 L97.15,613.44 L97.90,613.47 L98.65,613.29 L99.40,613.30 L100.15,613.04 L100.90,612.91 L101.65,612.94 L102.40,612.71 L103.15,612.39 L103.90,612.39 L104.66,612.25 L105.41,612.45 L106.16,612.66 L106.91,612.70 L107.66,612.84 L108.41,613.12 L109.16,613.31 L109.91,613.36 L110.66,613.29 L111.41,613.41 L112.17,613.60 L112.92,613.60 L113.67,613.66 L114.42,613.68 L115.17,613.51 L115.92,613.67 L116.67,613.58 L117.42,613.61 L118.17,613.68 L118.93,613.55 L119.68,613.70 L120.43,613.57 L121.18,613.70 L121.93,613.63 L122.68,613.68 L123.43,613.67 L124.18,613.50 L124.93,613.54 L125.68,613.66 L126.44,613.52 L127.19,613.68 L127.94,613.63 L128.69,613.52 L129.44,613.57 L130.19,613.70 L130.94,613.48 L131.69,613.67 L132.44,613.65 L133.19,613.53 L133.95,613.63 L134.70,613.64 L135.45,613.69 L136.20,613.68 L136.95,613.56 L137.70,613.64 L138.45,613.55 L139.20,613.60 L139.95,613.58 L140.71,613.45 L141.46,613.56 L142.21,613.53 L142.96,613.45 L143.71,613.61 L144.46,613.61 L145.21,613.42 L145.96,613.43 L146.71,613.56 L147.46,613.56 L148.22,613.41 L148.97,613.35 L149.72,613.50 L150.47,613.30 L151.22,613.28 L151.97,613.29 L152.72,613.25 L153.47,613.18 L154.22,612.97 L154.97,612.41 L155.73,612.11 L156.48,611.42 L157.23,610.95 L157.98,610.42 L158.73,610.46 L159.48,610.88 L160.23,611.45 L160.98,611.87 L161.73,612.46 L162.49,612.73 L163.24,612.82 L163.99,612.81 L164.74,612.82 L165.49,612.75 L166.24,612.35 L166.99,612.18 L167.74,611.83 L168.49,611.42 L169.24,611.21 L170.00,611.41 L170.75,611.68 L171.50,611.99 L172.25,612.27 L173.00,612.61 L173.75,612.70 L174.50,612.63 L175.25,612.62 L176.00,612.65 L176.75,612.57 L177.51,612.49 L178.26,612.46 L179.01,612.32 L179.76,612.11 L180.51,611.64 L181.26,611.38 L182.01,610.94 L182.76,610.73 L183.51,610.08 L184.26,609.55 L185.02,608.84 L185.77,608.24 L186.52,607.31 L187.27,606.73 L188.02,605.78 L188.77,604.91 L189.52,604.07 L190.27,603.38 L191.02,602.77 L191.78,602.29 L192.53,602.00 L193.28,602.09 L194.03,602.19 L194.78,602.53 L195.53,603.10 L196.28,603.90 L197.03,604.59 L197.78,605.39 L198.53,606.30 L199.29,607.10 L200.04,607.94 L200.79,608.62 L201.54,609.28 L202.29,610.01 L203.04,610.41 L203.79,610.79 L204.54,611.21 L205.29,611.58 L206.04,611.95 L206.80,612.10 L207.55,612.33 L208.30,612.52 L209.05,612.56 L209.80,612.84 L210.55,612.77 L211.30,613.01 L212.05,612.93 L212.80,613.01 L213.56,613.11 L214.31,613.03 L215.06,613.11 L215.81,613.10 L216.56,613.05 L217.31,613.22 L218.06,613.29 L218.81,613.23 L219.56,613.15 L220.31,613.26 L221.07,613.27 L221.82,613.08 L222.57,613.13 L223.32,613.17 L224.07,613.03 L224.82,613.13 L225.57,612.99 L226.32,613.00 L227.07,612.78 L227.82,612.45 L228.58,612.13 L229.33,611.84 L230.08,611.77 L230.83,611.75 L231.58,611.99 L232.33,612.24 L233.08,612.32 L233.83,612.32 L234.58,612.34 L235.34,612.36 L236.09,612.26 L236.84,612.37 L237.59,612.34 L238.34,612.22 L239.09,612.21 L239.84,612.19 L240.59,612.10 L241.34,612.03 L242.09,612.05 L242.85,612.10 L243.60,611.99 L244.35,611.98 L245.10,612.14 L245.85,612.28 L246.60,612.35 L247.35,612.21 L248.10,612.48 L248.85,612.40 L249.60,612.50 L250.36,612.64 L251.11,612.60 L251.86,612.85 L252.61,612.90 L253.36,612.89 L254.11,613.05 L254.86,612.92 L255.61,613.11 L256.36,613.19 L257.11,613.26 L257.87,613.16 L258.62,613.24 L259.37,613.23 L260.12,613.25 L260.87,613.24 L261.62,613.22 L262.37,613.31 L263.12,613.44 L263.87,613.38 L264.63,613.46 L265.38,613.51 L266.13,613.40 L266.88,613.34 L267.63,613.46 L268.38,613.44 L269.13,613.41 L269.88,613.31 L270.63,613.34 L271.38,613.29 L272.14,613.24 L272.89,613.30 L273.64,613.17 L274.39,613.10 L275.14,613.26 L275.89,613.01 L276.64,613.02 L277.39,613.10 L278.14,612.97 L278.89,612.87 L279.65,612.73 L280.40,612.80 L281.15,612.68 L281.90,612.53 L282.65,612.48 L283.40,612.38 L284.15,612.42 L284.90,612.31 L285.65,612.36 L286.41,612.19 L287.16,612.12 L287.91,612.13 L288.66,612.09 L289.41,612.21 L290.16,612.05 L290.91,612.05 L291.66,612.08 L292.41,612.23 L293.16,612.22 L293.92,612.39 L294.67,612.32 L295.42,612.40 L296.17,612.59 L296.92,612.73 L297.67,612.72 L298.42,612.77 L299.17,612.78 L299.92,612.92 L300.67,613.09 L301.43,612.97 L302.18,613.20 L302.93,613.08 L303.68,613.28 L304.43,613.28 L305.18,613.21 L305.93,613.41 L306.68,613.44 L307.43,613.38 L308.19,613.35 L308.94,613.34 L309.69,613.40 L310.44,613.35 L311.19,613.47 L311.94,613.37 L312.69,613.58 L313.44,613.55 L314.19,613.47 L314.94,613.51 L315.70,613.37 L316.45,613.33 L317.20,613.27 L317.95,613.07 L318.70,612.97 L319.45,612.83 L320.20,612.62 L320.95,612.37 L321.70,612.32 L322.45,612.57 L323.21,612.60 L323.96,612.77 L324.71,613.07 L325.46,613.22 L326.21,613.43 L326.96,613.44 L327.71,613.50 L328.46,613.51 L329.21,613.67 L329.96,613.46 L330.72,613.58 L331.47,613.62 L332.22,613.53 L332.97,613.59 L333.72,613.62 L334.47,613.57 L335.22,613.73 L335.97,613.62 L336.72,613.65 L337.48,613.52 L338.23,613.53 L338.98,613.69 L339.73,613.65 L340.48,613.73 L341.23,613.66 L341.98,613.57 L342.73,613.55 L343.48,613.65 L344.23,613.69 L344.99,613.73 L345.74,613.62 L346.49,613.55 L347.24,613.74 L347.99,613.59 L348.74,613.77 L349.49,613.73 L350.24,613.72 L350.99,613.62 L351.74,613.70 L352.50,613.70 L353.25,613.63 L354.00,613.76 L354.75,613.61 L355.50,613.76" fill="none" stroke="#ff1010" stroke-width="1.9" stroke-linejoin="round"/>
<text transform="translate(347.20,603.60) scale(1,1.035)" font-size="9.6" text-anchor="end" fill="#ff1010"><tspan font-style="italic">x</tspan> = 0.80</text>
<path d="M64.10,636.91 L64.85,636.73 L65.60,636.57 L66.35,636.53 L67.10,636.37 L67.86,636.08 L68.61,635.88 L69.36,635.53 L70.11,635.33 L70.86,635.13 L71.61,634.94 L72.36,634.73 L73.11,634.70 L73.86,634.53 L74.61,634.55 L75.37,634.38 L76.12,634.65 L76.87,634.58 L77.62,634.92 L78.37,634.96 L79.12,635.25 L79.87,635.46 L80.62,635.58 L81.37,636.00 L82.12,636.20 L82.88,636.20 L83.63,636.48 L84.38,636.74 L85.13,636.68 L85.88,636.82 L86.63,637.13 L87.38,637.16 L88.13,637.31 L88.88,637.34 L89.64,637.32 L90.39,637.48 L91.14,637.39 L91.89,637.58 L92.64,637.58 L93.39,637.45 L94.14,637.57 L94.89,637.58 L95.64,637.55 L96.39,637.59 L97.15,637.62 L97.90,637.71 L98.65,637.55 L99.40,637.50 L100.15,637.51 L100.90,637.59 L101.65,637.66 L102.40,637.67 L103.15,637.59 L103.90,637.60 L104.66,637.73 L105.41,637.71 L106.16,637.68 L106.91,637.64 L107.66,637.57 L108.41,637.65 L109.16,637.76 L109.91,637.57 L110.66,637.67 L111.41,637.64 L112.17,637.71 L112.92,637.66 L113.67,637.67 L114.42,637.58 L115.17,637.74 L115.92,637.62 L116.67,637.71 L117.42,637.58 L118.17,637.74 L118.93,637.67 L119.68,637.65 L120.43,637.57 L121.18,637.70 L121.93,637.60 L122.68,637.64 L123.43,637.61 L124.18,637.55 L124.93,637.42 L125.68,637.52 L126.44,637.38 L127.19,637.55 L127.94,637.34 L128.69,637.45 L129.44,637.46 L130.19,637.29 L130.94,637.22 L131.69,637.40 L132.44,637.30 L133.19,637.14 L133.95,637.20 L134.70,637.17 L135.45,637.18 L136.20,637.13 L136.95,636.94 L137.70,636.81 L138.45,636.76 L139.20,636.84 L139.95,636.91 L140.71,636.80 L141.46,636.66 L142.21,636.62 L142.96,636.65 L143.71,636.74 L144.46,636.66 L145.21,636.68 L145.96,636.65 L146.71,636.76 L147.46,636.62 L148.22,636.66 L148.97,636.87 L149.72,636.88 L150.47,636.78 L151.22,636.96 L151.97,636.84 L152.72,636.99 L153.47,636.98 L154.22,637.02 L154.97,637.18 L155.73,637.20 L156.48,637.24 L157.23,637.17 L157.98,637.19 L158.73,637.35 L159.48,637.20 L160.23,637.33 L160.98,637.39 L161.73,637.36 L162.49,637.24 L163.24,637.35 L163.99,637.35 L164.74,637.28 L165.49,637.27 L166.24,637.32 L166.99,637.41 L167.74,637.36 L168.49,637.28 L169.24,637.30 L170.00,637.35 L170.75,637.39 L171.50,637.37 L172.25,637.27 L173.00,637.30 L173.75,637.41 L174.50,637.22 L175.25,637.16 L176.00,637.15 L176.75,637.10 L177.51,637.06 L178.26,637.11 L179.01,637.01 L179.76,637.05 L180.51,637.06 L181.26,636.92 L182.01,636.84 L182.76,636.59 L183.51,636.53 L184.26,636.42 L185.02,636.23 L185.77,636.16 L186.52,635.83 L187.27,635.53 L188.02,635.30 L188.77,634.99 L189.52,634.57 L190.27,634.16 L191.02,633.60 L191.78,633.21 L192.53,632.67 L193.28,632.02 L194.03,631.31 L194.78,630.66 L195.53,630.04 L196.28,629.34 L197.03,628.87 L197.78,628.39 L198.53,627.79 L199.29,627.40 L200.04,627.18 L200.79,626.92 L201.54,626.99 L202.29,627.14 L203.04,627.39 L203.79,627.63 L204.54,628.33 L205.29,628.80 L206.04,629.42 L206.80,630.07 L207.55,630.66 L208.30,631.35 L209.05,631.80 L209.80,632.49 L210.55,633.00 L211.30,633.65 L212.05,634.05 L212.80,634.45 L213.56,634.78 L214.31,635.27 L215.06,635.52 L215.81,635.69 L216.56,635.93 L217.31,636.27 L218.06,636.36 L218.81,636.45 L219.56,636.66 L220.31,636.70 L221.07,636.78 L221.82,636.78 L222.57,636.94 L223.32,636.96 L224.07,637.08 L224.82,637.02 L225.57,637.15 L226.32,637.12 L227.07,637.17 L227.82,637.20 L228.58,637.25 L229.33,637.23 L230.08,637.15 L230.83,637.21 L231.58,637.25 L232.33,637.06 L233.08,637.16 L233.83,636.98 L234.58,637.03 L235.34,637.04 L236.09,636.88 L236.84,636.82 L237.59,636.91 L238.34,636.89 L239.09,636.70 L239.84,636.58 L240.59,636.56 L241.34,636.43 L242.09,636.44 L242.85,636.30 L243.60,636.29 L244.35,636.16 L245.10,636.08 L245.85,635.99 L246.60,635.90 L247.35,635.73 L248.10,635.82 L248.85,635.76 L249.60,635.71 L250.36,635.51 L251.11,635.62 L251.86,635.74 L252.61,635.59 L253.36,635.62 L254.11,635.70 L254.86,635.88 L255.61,635.87 L256.36,636.07 L257.11,636.20 L257.87,636.13 L258.62,636.23 L259.37,636.48 L260.12,636.42 L260.87,636.71 L261.62,636.74 L262.37,636.89 L263.12,636.93 L263.87,637.01 L264.63,636.95 L265.38,637.11 L266.13,637.19 L266.88,637.25 L267.63,637.26 L268.38,637.17 L269.13,637.27 L269.88,637.42 L270.63,637.31 L271.38,637.37 L272.14,637.41 L272.89,637.40 L273.64,637.38 L274.39,637.36 L275.14,637.43 L275.89,637.40 L276.64,637.44 L277.39,637.40 L278.14,637.45 L278.89,637.44 L279.65,637.40 L280.40,637.33 L281.15,637.42 L281.90,637.24 L282.65,637.31 L283.40,637.19 L284.15,637.19 L284.90,637.08 L285.65,637.10 L286.41,637.10 L287.16,637.04 L287.91,636.93 L288.66,636.82 L289.41,636.72 L290.16,636.81 L290.91,636.74 L291.66,636.64 L292.41,636.55 L293.16,636.46 L293.92,636.38 L294.67,636.22 L295.42,636.17 L296.17,635.95 L296.92,635.88 L297.67,635.73 L298.42,635.68 L299.17,635.69 L299.92,635.62 L300.67,635.84 L301.43,635.80 L302.18,635.67 L302.93,635.82 L303.68,635.95 L304.43,635.89 L305.18,636.05 L305.93,636.11 L306.68,636.26 L307.43,636.38 L308.19,636.51 L308.94,636.49 L309.69,636.50 L310.44,636.59 L311.19,636.73 L311.94,636.77 L312.69,636.99 L313.44,637.08 L314.19,637.00 L314.94,637.15 L315.70,637.19 L316.45,637.40 L317.20,637.40 L317.95,637.38 L318.70,637.36 L319.45,637.37 L320.20,637.42 L320.95,637.54 L321.70,637.56 L322.45,637.46 L323.21,637.45 L323.96,637.59 L324.71,637.67 L325.46,637.58 L326.21,637.61 L326.96,637.67 L327.71,637.71 L328.46,637.68 L329.21,637.63 L329.96,637.75 L330.72,637.66 L331.47,637.56 L332.22,637.62 L332.97,637.74 L333.72,637.71 L334.47,637.79 L335.22,637.64 L335.97,637.67 L336.72,637.78 L337.48,637.69 L338.23,637.68 L338.98,637.69 L339.73,637.74 L340.48,637.76 L341.23,637.75 L341.98,637.60 L342.73,637.76 L343.48,637.72 L344.23,637.73 L344.99,637.80 L345.74,637.75 L346.49,637.80 L347.24,637.77 L347.99,637.76 L348.74,637.77 L349.49,637.63 L350.24,637.79 L350.99,637.78 L351.74,637.70 L352.50,637.77 L353.25,637.74 L354.00,637.71 L354.75,637.85 L355.50,637.70" fill="none" stroke="#ff8c1a" stroke-width="1.9" stroke-linejoin="round"/>
<text transform="translate(347.20,628.40) scale(1,1.035)" font-size="9.6" text-anchor="end" fill="#ff8c1a"><tspan font-style="italic">x</tspan> = 0.60</text>
<path d="M64.10,663.96 L64.85,663.82 L65.60,663.77 L66.35,663.67 L67.10,663.76 L67.86,663.67 L68.61,663.60 L69.36,663.48 L70.11,663.24 L70.86,663.26 L71.61,663.03 L72.36,662.96 L73.11,662.79 L73.86,662.61 L74.61,662.36 L75.37,662.28 L76.12,662.30 L76.87,662.14 L77.62,662.10 L78.37,661.89 L79.12,661.91 L79.87,661.95 L80.62,662.02 L81.37,662.14 L82.12,662.22 L82.88,662.40 L83.63,662.68 L84.38,662.68 L85.13,662.92 L85.88,663.00 L86.63,663.17 L87.38,663.33 L88.13,663.46 L88.88,663.54 L89.64,663.66 L90.39,663.78 L91.14,663.68 L91.89,663.74 L92.64,663.74 L93.39,663.85 L94.14,663.92 L94.89,663.90 L95.64,664.07 L96.39,663.96 L97.15,664.03 L97.90,664.11 L98.65,664.11 L99.40,664.04 L100.15,664.12 L100.90,664.07 L101.65,664.04 L102.40,664.10 L103.15,664.17 L103.90,664.09 L104.66,664.15 L105.41,664.15 L106.16,664.17 L106.91,664.13 L107.66,664.20 L108.41,664.06 L109.16,663.99 L109.91,664.13 L110.66,664.05 L111.41,664.00 L112.17,664.22 L112.92,664.20 L113.67,664.04 L114.42,664.03 L115.17,664.08 L115.92,664.19 L116.67,664.13 L117.42,664.03 L118.17,664.02 L118.93,664.04 L119.68,664.19 L120.43,664.03 L121.18,664.15 L121.93,664.06 L122.68,664.20 L123.43,664.00 L124.18,664.09 L124.93,664.06 L125.68,664.18 L126.44,664.09 L127.19,664.09 L127.94,664.09 L128.69,664.15 L129.44,664.06 L130.19,664.15 L130.94,664.16 L131.69,664.19 L132.44,664.06 L133.19,664.20 L133.95,664.17 L134.70,664.21 L135.45,664.07 L136.20,664.09 L136.95,664.09 L137.70,664.21 L138.45,664.11 L139.20,664.14 L139.95,664.19 L140.71,664.21 L141.46,663.97 L142.21,664.18 L142.96,664.14 L143.71,664.14 L144.46,664.06 L145.21,664.19 L145.96,664.09 L146.71,664.11 L147.46,664.00 L148.22,664.19 L148.97,664.11 L149.72,664.07 L150.47,663.95 L151.22,664.06 L151.97,664.07 L152.72,664.02 L153.47,664.10 L154.22,664.16 L154.97,664.05 L155.73,663.94 L156.48,663.98 L157.23,664.09 L157.98,663.99 L158.73,663.94 L159.48,664.08 L160.23,663.99 L160.98,664.05 L161.73,664.07 L162.49,664.05 L163.24,664.06 L163.99,664.02 L164.74,664.09 L165.49,664.00 L166.24,664.06 L166.99,663.89 L167.74,663.92 L168.49,664.06 L169.24,663.86 L170.00,663.99 L170.75,663.91 L171.50,663.89 L172.25,663.93 L173.00,663.92 L173.75,663.88 L174.50,663.93 L175.25,663.74 L176.00,663.91 L176.75,663.72 L177.51,663.84 L178.26,663.80 L179.01,663.76 L179.76,663.82 L180.51,663.77 L181.26,663.68 L182.01,663.63 L182.76,663.48 L183.51,663.41 L184.26,663.58 L185.02,663.41 L185.77,663.43 L186.52,663.19 L187.27,663.20 L188.02,662.95 L188.77,662.90 L189.52,662.84 L190.27,662.68 L191.02,662.41 L191.78,662.00 L192.53,661.89 L193.28,661.48 L194.03,661.13 L194.78,660.72 L195.53,660.14 L196.28,659.77 L197.03,659.10 L197.78,658.52 L198.53,657.83 L199.29,657.28 L200.04,656.52 L200.79,655.97 L201.54,655.29 L202.29,654.66 L203.04,654.05 L203.79,653.57 L204.54,653.39 L205.29,653.14 L206.04,652.95 L206.80,652.93 L207.55,653.20 L208.30,653.58 L209.05,653.86 L209.80,654.56 L210.55,655.20 L211.30,655.85 L212.05,656.52 L212.80,657.01 L213.56,657.82 L214.31,658.30 L215.06,658.87 L215.81,659.40 L216.56,659.96 L217.31,660.53 L218.06,660.91 L218.81,661.25 L219.56,661.62 L220.31,662.02 L221.07,662.16 L221.82,662.55 L222.57,662.69 L223.32,662.69 L224.07,662.95 L224.82,663.12 L225.57,663.10 L226.32,663.26 L227.07,663.44 L227.82,663.49 L228.58,663.48 L229.33,663.51 L230.08,663.40 L230.83,663.59 L231.58,663.47 L232.33,663.49 L233.08,663.61 L233.83,663.49 L234.58,663.55 L235.34,663.62 L236.09,663.68 L236.84,663.63 L237.59,663.52 L238.34,663.60 L239.09,663.66 L239.84,663.60 L240.59,663.56 L241.34,663.60 L242.09,663.47 L242.85,663.56 L243.60,663.33 L244.35,663.43 L245.10,663.39 L245.85,663.21 L246.60,663.21 L247.35,663.00 L248.10,663.01 L248.85,662.92 L249.60,662.76 L250.36,662.82 L251.11,662.60 L251.86,662.53 L252.61,662.49 L253.36,662.27 L254.11,662.42 L254.86,662.14 L255.61,662.24 L256.36,662.02 L257.11,662.15 L257.87,662.15 L258.62,662.03 L259.37,661.94 L260.12,662.13 L260.87,662.12 L261.62,662.15 L262.37,662.31 L263.12,662.32 L263.87,662.54 L264.63,662.52 L265.38,662.55 L266.13,662.75 L266.88,662.87 L267.63,663.01 L268.38,662.95 L269.13,663.10 L269.88,663.07 L270.63,663.19 L271.38,663.42 L272.14,663.29 L272.89,663.35 L273.64,663.43 L274.39,663.48 L275.14,663.56 L275.89,663.59 L276.64,663.64 L277.39,663.69 L278.14,663.79 L278.89,663.84 L279.65,663.72 L280.40,663.76 L281.15,663.90 L281.90,663.76 L282.65,663.77 L283.40,663.79 L284.15,663.72 L284.90,663.68 L285.65,663.78 L286.41,663.66 L287.16,663.71 L287.91,663.66 L288.66,663.67 L289.41,663.50 L290.16,663.57 L290.91,663.40 L291.66,663.49 L292.41,663.35 L293.16,663.22 L293.92,663.20 L294.67,663.19 L295.42,663.18 L296.17,663.00 L296.92,662.92 L297.67,662.73 L298.42,662.64 L299.17,662.50 L299.92,662.54 L300.67,662.46 L301.43,662.34 L302.18,662.22 L302.93,662.32 L303.68,662.24 L304.43,662.22 L305.18,662.17 L305.93,662.17 L306.68,662.03 L307.43,662.25 L308.19,662.13 L308.94,662.35 L309.69,662.45 L310.44,662.35 L311.19,662.66 L311.94,662.75 L312.69,662.84 L313.44,662.96 L314.19,662.98 L314.94,663.12 L315.70,663.22 L316.45,663.34 L317.20,663.26 L317.95,663.50 L318.70,663.53 L319.45,663.52 L320.20,663.50 L320.95,663.61 L321.70,663.65 L322.45,663.70 L323.21,663.72 L323.96,663.74 L324.71,663.94 L325.46,664.00 L326.21,663.89 L326.96,663.93 L327.71,663.95 L328.46,663.91 L329.21,664.07 L329.96,663.95 L330.72,664.03 L331.47,664.05 L332.22,664.10 L332.97,664.10 L333.72,664.03 L334.47,664.05 L335.22,663.97 L335.97,664.12 L336.72,664.02 L337.48,664.18 L338.23,664.05 L338.98,664.17 L339.73,664.01 L340.48,663.98 L341.23,664.16 L341.98,664.03 L342.73,664.17 L343.48,664.15 L344.23,664.20 L344.99,664.13 L345.74,664.21 L346.49,664.07 L347.24,664.10 L347.99,664.14 L348.74,664.07 L349.49,664.19 L350.24,664.17 L350.99,664.16 L351.74,664.25 L352.50,664.04 L353.25,664.23 L354.00,664.23 L354.75,664.06 L355.50,664.06" fill="none" stroke="#98c83a" stroke-width="1.9" stroke-linejoin="round"/>
<text transform="translate(347.20,655.80) scale(1,1.035)" font-size="9.6" text-anchor="end" fill="#98c83a"><tspan font-style="italic">x</tspan> = 0.50</text>
<path d="M64.10,688.98 L64.85,688.80 L65.60,688.77 L66.35,688.65 L67.10,688.74 L67.86,688.67 L68.61,688.46 L69.36,688.37 L70.11,688.33 L70.86,688.10 L71.61,688.00 L72.36,687.73 L73.11,687.70 L73.86,687.46 L74.61,687.07 L75.37,686.97 L76.12,686.76 L76.87,686.41 L77.62,686.24 L78.37,686.16 L79.12,685.92 L79.87,685.79 L80.62,685.86 L81.37,685.75 L82.12,685.95 L82.88,686.02 L83.63,686.25 L84.38,686.41 L85.13,686.45 L85.88,686.81 L86.63,686.91 L87.38,687.27 L88.13,687.44 L88.88,687.59 L89.64,687.82 L90.39,688.13 L91.14,688.17 L91.89,688.29 L92.64,688.52 L93.39,688.64 L94.14,688.54 L94.89,688.70 L95.64,688.84 L96.39,688.82 L97.15,688.92 L97.90,688.82 L98.65,688.92 L99.40,689.04 L100.15,688.88 L100.90,689.08 L101.65,689.04 L102.40,689.12 L103.15,688.96 L103.90,689.11 L104.66,689.02 L105.41,689.14 L106.16,689.05 L106.91,689.01 L107.66,689.05 L108.41,689.07 L109.16,689.07 L109.91,689.08 L110.66,689.05 L111.41,689.17 L112.17,689.08 L112.92,689.14 L113.67,689.00 L114.42,688.98 L115.17,689.19 L115.92,689.18 L116.67,689.04 L117.42,689.08 L118.17,689.21 L118.93,689.05 L119.68,688.99 L120.43,689.12 L121.18,689.14 L121.93,689.08 L122.68,689.00 L123.43,689.16 L124.18,689.15 L124.93,689.18 L125.68,689.07 L126.44,689.11 L127.19,689.16 L127.94,689.13 L128.69,689.22 L129.44,689.15 L130.19,688.99 L130.94,689.08 L131.69,689.16 L132.44,689.00 L133.19,689.14 L133.95,689.16 L134.70,689.21 L135.45,689.19 L136.20,689.17 L136.95,689.17 L137.70,689.01 L138.45,689.16 L139.20,689.16 L139.95,689.07 L140.71,689.00 L141.46,689.15 L142.21,689.03 L142.96,689.12 L143.71,689.08 L144.46,689.07 L145.21,688.98 L145.96,689.03 L146.71,689.08 L147.46,689.00 L148.22,689.11 L148.97,689.11 L149.72,688.97 L150.47,689.06 L151.22,689.01 L151.97,689.12 L152.72,688.97 L153.47,689.04 L154.22,689.12 L154.97,688.96 L155.73,689.07 L156.48,689.09 L157.23,689.11 L157.98,689.14 L158.73,689.12 L159.48,688.99 L160.23,689.12 L160.98,689.09 L161.73,689.04 L162.49,689.01 L163.24,689.05 L163.99,688.95 L164.74,689.07 L165.49,689.04 L166.24,689.02 L166.99,689.08 L167.74,689.05 L168.49,689.07 L169.24,688.92 L170.00,689.05 L170.75,688.92 L171.50,689.02 L172.25,688.91 L173.00,688.90 L173.75,688.96 L174.50,688.81 L175.25,688.86 L176.00,688.88 L176.75,688.99 L177.51,688.89 L178.26,688.91 L179.01,688.84 L179.76,688.72 L180.51,688.72 L181.26,688.89 L182.01,688.72 L182.76,688.64 L183.51,688.71 L184.26,688.79 L185.02,688.58 L185.77,688.65 L186.52,688.48 L187.27,688.46 L188.02,688.43 L188.77,688.35 L189.52,688.49 L190.27,688.24 L191.02,688.27 L191.78,688.20 L192.53,688.02 L193.28,687.83 L194.03,687.80 L194.78,687.49 L195.53,687.18 L196.28,686.99 L197.03,686.67 L197.78,686.38 L198.53,685.83 L199.29,685.57 L200.04,684.98 L200.79,684.47 L201.54,684.05 L202.29,683.21 L203.04,682.76 L203.79,681.92 L204.54,681.27 L205.29,680.61 L206.04,679.98 L206.80,679.50 L207.55,678.96 L208.30,678.54 L209.05,678.08 L209.80,678.11 L210.55,678.04 L211.30,677.95 L212.05,678.24 L212.80,678.63 L213.56,679.05 L214.31,679.71 L215.06,680.26 L215.81,681.00 L216.56,681.55 L217.31,682.41 L218.06,682.97 L218.81,683.56 L219.56,684.09 L220.31,684.73 L221.07,685.17 L221.82,685.56 L222.57,686.11 L223.32,686.53 L224.07,686.89 L224.82,686.98 L225.57,687.31 L226.32,687.55 L227.07,687.70 L227.82,687.95 L228.58,688.05 L229.33,688.16 L230.08,688.25 L230.83,688.18 L231.58,688.39 L232.33,688.48 L233.08,688.34 L233.83,688.45 L234.58,688.61 L235.34,688.48 L236.09,688.50 L236.84,688.52 L237.59,688.50 L238.34,688.59 L239.09,688.65 L239.84,688.52 L240.59,688.54 L241.34,688.51 L242.09,688.62 L242.85,688.56 L243.60,688.46 L244.35,688.50 L245.10,688.41 L245.85,688.40 L246.60,688.29 L247.35,688.33 L248.10,688.24 L248.85,688.09 L249.60,688.15 L250.36,688.10 L251.11,687.91 L251.86,687.94 L252.61,687.68 L253.36,687.73 L254.11,687.49 L254.86,687.48 L255.61,687.48 L256.36,687.31 L257.11,687.19 L257.87,687.17 L258.62,687.08 L259.37,687.10 L260.12,686.93 L260.87,687.11 L261.62,686.96 L262.37,687.17 L263.12,687.10 L263.87,687.26 L264.63,687.31 L265.38,687.28 L266.13,687.29 L266.88,687.53 L267.63,687.61 L268.38,687.69 L269.13,687.75 L269.88,687.91 L270.63,688.01 L271.38,687.98 L272.14,688.14 L272.89,688.27 L273.64,688.23 L274.39,688.26 L275.14,688.46 L275.89,688.62 L276.64,688.61 L277.39,688.51 L278.14,688.73 L278.89,688.76 L279.65,688.65 L280.40,688.84 L281.15,688.69 L281.90,688.86 L282.65,688.84 L283.40,688.81 L284.15,688.93 L284.90,688.78 L285.65,688.87 L286.41,688.79 L287.16,688.79 L287.91,688.96 L288.66,688.77 L289.41,688.76 L290.16,688.89 L290.91,688.79 L291.66,688.87 L292.41,688.76 L293.16,688.69 L293.92,688.75 L294.67,688.67 L295.42,688.73 L296.17,688.51 L296.92,688.51 L297.67,688.41 L298.42,688.53 L299.17,688.30 L299.92,688.38 L300.67,688.19 L301.43,688.19 L302.18,687.94 L302.93,688.04 L303.68,687.85 L304.43,687.76 L305.18,687.68 L305.93,687.67 L306.68,687.43 L307.43,687.28 L308.19,687.35 L308.94,687.15 L309.69,687.23 L310.44,687.21 L311.19,687.14 L311.94,687.02 L312.69,687.08 L313.44,687.14 L314.19,687.33 L314.94,687.30 L315.70,687.47 L316.45,687.55 L317.20,687.56 L317.95,687.69 L318.70,687.82 L319.45,687.82 L320.20,687.85 L320.95,687.92 L321.70,688.01 L322.45,688.22 L323.21,688.36 L323.96,688.26 L324.71,688.46 L325.46,688.55 L326.21,688.50 L326.96,688.62 L327.71,688.58 L328.46,688.69 L329.21,688.67 L329.96,688.90 L330.72,688.75 L331.47,688.87 L332.22,688.86 L332.97,688.98 L333.72,689.01 L334.47,689.02 L335.22,689.07 L335.97,688.89 L336.72,689.11 L337.48,689.09 L338.23,689.00 L338.98,689.11 L339.73,689.12 L340.48,689.12 L341.23,689.13 L341.98,689.19 L342.73,689.02 L343.48,689.04 L344.23,689.13 L344.99,688.99 L345.74,689.08 L346.49,689.16 L347.24,688.99 L347.99,689.17 L348.74,689.03 L349.49,689.03 L350.24,689.23 L350.99,689.03 L351.74,689.13 L352.50,689.12 L353.25,689.01 L354.00,689.13 L354.75,689.19 L355.50,689.23" fill="none" stroke="#1a7a1a" stroke-width="1.9" stroke-linejoin="round"/>
<text transform="translate(347.20,681.30) scale(1,1.035)" font-size="9.6" text-anchor="end" fill="#1a7a1a"><tspan font-style="italic">x</tspan> = 0.40</text>
<path d="M64.10,714.67 L64.85,714.88 L65.60,714.68 L66.35,714.79 L67.10,714.56 L67.86,714.75 L68.61,714.49 L69.36,714.48 L70.11,714.35 L70.86,714.22 L71.61,714.29 L72.36,714.13 L73.11,713.88 L73.86,713.80 L74.61,713.60 L75.37,713.37 L76.12,712.97 L76.87,712.69 L77.62,712.43 L78.37,712.29 L79.12,711.85 L79.87,711.71 L80.62,711.57 L81.37,711.37 L82.12,711.30 L82.88,711.39 L83.63,711.36 L84.38,711.56 L85.13,711.72 L85.88,711.88 L86.63,712.22 L87.38,712.56 L88.13,712.72 L88.88,712.96 L89.64,713.33 L90.39,713.45 L91.14,713.88 L91.89,714.03 L92.64,714.18 L93.39,714.13 L94.14,714.30 L94.89,714.39 L95.64,714.57 L96.39,714.58 L97.15,714.54 L97.90,714.77 L98.65,714.80 L99.40,714.84 L100.15,714.76 L100.90,714.69 L101.65,714.78 L102.40,714.83 L103.15,714.81 L103.90,714.90 L104.66,714.72 L105.41,714.87 L106.16,714.91 L106.91,714.90 L107.66,714.78 L108.41,714.91 L109.16,714.77 L109.91,714.91 L110.66,714.89 L111.41,714.98 L112.17,714.79 L112.92,714.82 L113.67,714.90 L114.42,714.98 L115.17,714.90 L115.92,714.93 L116.67,714.82 L117.42,714.80 L118.17,714.84 L118.93,714.95 L119.68,715.02 L120.43,714.81 L121.18,714.80 L121.93,714.99 L122.68,714.91 L123.43,714.91 L124.18,714.80 L124.93,715.02 L125.68,715.02 L126.44,714.83 L127.19,714.90 L127.94,714.92 L128.69,714.85 L129.44,714.89 L130.19,714.87 L130.94,714.97 L131.69,715.01 L132.44,715.03 L133.19,714.95 L133.95,714.88 L134.70,714.94 L135.45,714.95 L136.20,714.88 L136.95,714.86 L137.70,714.89 L138.45,714.96 L139.20,714.83 L139.95,714.84 L140.71,714.81 L141.46,714.81 L142.21,715.02 L142.96,714.86 L143.71,714.94 L144.46,714.93 L145.21,714.90 L145.96,714.99 L146.71,714.96 L147.46,714.78 L148.22,714.94 L148.97,714.80 L149.72,714.85 L150.47,714.94 L151.22,714.93 L151.97,714.86 L152.72,714.84 L153.47,714.92 L154.22,714.99 L154.97,714.96 L155.73,714.79 L156.48,714.82 L157.23,714.97 L157.98,714.79 L158.73,714.85 L159.48,714.90 L160.23,714.77 L160.98,714.95 L161.73,714.95 L162.49,714.89 L163.24,714.79 L163.99,714.83 L164.74,714.84 L165.49,714.74 L166.24,714.86 L166.99,714.76 L167.74,714.94 L168.49,714.75 L169.24,714.89 L170.00,714.77 L170.75,714.72 L171.50,714.76 L172.25,714.77 L173.00,714.77 L173.75,714.71 L174.50,714.80 L175.25,714.82 L176.00,714.73 L176.75,714.73 L177.51,714.82 L178.26,714.71 L179.01,714.72 L179.76,714.78 L180.51,714.63 L181.26,714.60 L182.01,714.70 L182.76,714.55 L183.51,714.51 L184.26,714.57 L185.02,714.61 L185.77,714.63 L186.52,714.64 L187.27,714.58 L188.02,714.38 L188.77,714.57 L189.52,714.34 L190.27,714.35 L191.02,714.29 L191.78,714.40 L192.53,714.22 L193.28,714.26 L194.03,714.06 L194.78,713.95 L195.53,713.85 L196.28,713.77 L197.03,713.53 L197.78,713.51 L198.53,713.31 L199.29,712.90 L200.04,712.80 L200.79,712.38 L201.54,712.00 L202.29,711.46 L203.04,711.10 L203.79,710.52 L204.54,709.95 L205.29,709.33 L206.04,708.67 L206.80,707.98 L207.55,707.23 L208.30,706.56 L209.05,705.86 L209.80,705.08 L210.55,704.48 L211.30,704.17 L212.05,703.63 L212.80,703.63 L213.56,703.49 L214.31,703.46 L215.06,703.91 L215.81,704.19 L216.56,704.64 L217.31,705.34 L218.06,706.05 L218.81,706.85 L219.56,707.46 L220.31,708.17 L221.07,708.77 L221.82,709.52 L222.57,710.03 L223.32,710.69 L224.07,711.15 L224.82,711.59 L225.57,712.14 L226.32,712.32 L227.07,712.75 L227.82,713.02 L228.58,713.14 L229.33,713.43 L230.08,713.61 L230.83,713.83 L231.58,713.94 L232.33,713.91 L233.08,714.06 L233.83,714.09 L234.58,714.14 L235.34,714.19 L236.09,714.32 L236.84,714.22 L237.59,714.35 L238.34,714.43 L239.09,714.29 L239.84,714.29 L240.59,714.49 L241.34,714.32 L242.09,714.37 L242.85,714.47 L243.60,714.39 L244.35,714.30 L245.10,714.47 L245.85,714.33 L246.60,714.41 L247.35,714.40 L248.10,714.18 L248.85,714.13 L249.60,714.16 L250.36,714.08 L251.11,714.12 L251.86,714.05 L252.61,713.93 L253.36,713.81 L254.11,713.76 L254.86,713.73 L255.61,713.61 L256.36,713.57 L257.11,713.38 L257.87,713.27 L258.62,713.20 L259.37,713.22 L260.12,713.13 L260.87,712.91 L261.62,712.99 L262.37,712.86 L263.12,712.96 L263.87,712.93 L264.63,712.90 L265.38,712.81 L266.13,712.94 L266.88,712.89 L267.63,713.09 L268.38,713.01 L269.13,713.09 L269.88,713.29 L270.63,713.38 L271.38,713.48 L272.14,713.52 L272.89,713.69 L273.64,713.77 L274.39,713.73 L275.14,713.79 L275.89,714.06 L276.64,714.05 L277.39,714.09 L278.14,714.09 L278.89,714.25 L279.65,714.31 L280.40,714.31 L281.15,714.35 L281.90,714.41 L282.65,714.47 L283.40,714.45 L284.15,714.66 L284.90,714.51 L285.65,714.66 L286.41,714.65 L287.16,714.65 L287.91,714.63 L288.66,714.62 L289.41,714.62 L290.16,714.69 L290.91,714.68 L291.66,714.60 L292.41,714.53 L293.16,714.65 L293.92,714.72 L294.67,714.50 L295.42,714.47 L296.17,714.45 L296.92,714.47 L297.67,714.48 L298.42,714.52 L299.17,714.26 L299.92,714.32 L300.67,714.33 L301.43,714.13 L302.18,714.19 L302.93,714.01 L303.68,713.86 L304.43,713.71 L305.18,713.70 L305.93,713.62 L306.68,713.46 L307.43,713.21 L308.19,713.26 L308.94,713.12 L309.69,712.95 L310.44,712.68 L311.19,712.59 L311.94,712.48 L312.69,712.63 L313.44,712.46 L314.19,712.52 L314.94,712.41 L315.70,712.38 L316.45,712.51 L317.20,712.53 L317.95,712.62 L318.70,712.77 L319.45,712.91 L320.20,713.07 L320.95,713.09 L321.70,713.16 L322.45,713.29 L323.21,713.43 L323.96,713.58 L324.71,713.74 L325.46,713.90 L326.21,714.09 L326.96,714.03 L327.71,714.26 L328.46,714.17 L329.21,714.26 L329.96,714.47 L330.72,714.38 L331.47,714.46 L332.22,714.50 L332.97,714.71 L333.72,714.70 L334.47,714.76 L335.22,714.60 L335.97,714.79 L336.72,714.76 L337.48,714.71 L338.23,714.81 L338.98,714.77 L339.73,714.78 L340.48,714.85 L341.23,714.73 L341.98,714.80 L342.73,714.79 L343.48,714.80 L344.23,714.83 L344.99,714.94 L345.74,714.77 L346.49,714.77 L347.24,714.97 L347.99,714.91 L348.74,714.96 L349.49,714.98 L350.24,714.88 L350.99,714.91 L351.74,714.99 L352.50,714.91 L353.25,714.86 L354.00,715.00 L354.75,714.88 L355.50,714.88" fill="none" stroke="#20a8e8" stroke-width="1.9" stroke-linejoin="round"/>
<text transform="translate(347.20,708.30) scale(1,1.035)" font-size="9.6" text-anchor="end" fill="#20a8e8"><tspan font-style="italic">x</tspan> = 0.30</text>
<rect x="64.1" y="474.6" width="291.4" height="292.0" fill="none" stroke="#111" stroke-width="1.4"/>
<line x1="64.10" y1="531.30" x2="355.50" y2="531.30" stroke="#111" stroke-width="1.4"/>
<line x1="64.10" y1="589.00" x2="355.50" y2="589.00" stroke="#111" stroke-width="1.4"/>
<line x1="64.10" y1="760.60" x2="355.50" y2="760.60" stroke="#111" stroke-width="1.4"/>
<line x1="78.67" y1="474.60" x2="78.67" y2="477.60" stroke="#111" stroke-width="1.1"/>
<line x1="78.67" y1="766.60" x2="78.67" y2="764.00" stroke="#111" stroke-width="1.1"/>
<line x1="93.24" y1="474.60" x2="93.24" y2="477.60" stroke="#111" stroke-width="1.1"/>
<line x1="93.24" y1="766.60" x2="93.24" y2="764.00" stroke="#111" stroke-width="1.1"/>
<line x1="107.81" y1="474.60" x2="107.81" y2="477.60" stroke="#111" stroke-width="1.1"/>
<line x1="107.81" y1="766.60" x2="107.81" y2="764.00" stroke="#111" stroke-width="1.1"/>
<line x1="122.38" y1="474.60" x2="122.38" y2="477.60" stroke="#111" stroke-width="1.1"/>
<line x1="122.38" y1="766.60" x2="122.38" y2="764.00" stroke="#111" stroke-width="1.1"/>
<line x1="136.95" y1="474.60" x2="136.95" y2="479.10" stroke="#111" stroke-width="1.1"/>
<line x1="136.95" y1="766.60" x2="136.95" y2="762.30" stroke="#111" stroke-width="1.1"/>
<line x1="151.52" y1="474.60" x2="151.52" y2="477.60" stroke="#111" stroke-width="1.1"/>
<line x1="151.52" y1="766.60" x2="151.52" y2="764.00" stroke="#111" stroke-width="1.1"/>
<line x1="166.09" y1="474.60" x2="166.09" y2="477.60" stroke="#111" stroke-width="1.1"/>
<line x1="166.09" y1="766.60" x2="166.09" y2="764.00" stroke="#111" stroke-width="1.1"/>
<line x1="180.66" y1="474.60" x2="180.66" y2="477.60" stroke="#111" stroke-width="1.1"/>
<line x1="180.66" y1="766.60" x2="180.66" y2="764.00" stroke="#111" stroke-width="1.1"/>
<line x1="195.23" y1="474.60" x2="195.23" y2="477.60" stroke="#111" stroke-width="1.1"/>
<line x1="195.23" y1="766.60" x2="195.23" y2="764.00" stroke="#111" stroke-width="1.1"/>
<line x1="209.80" y1="474.60" x2="209.80" y2="479.10" stroke="#111" stroke-width="1.1"/>
<line x1="209.80" y1="766.60" x2="209.80" y2="762.30" stroke="#111" stroke-width="1.1"/>
<line x1="224.37" y1="474.60" x2="224.37" y2="477.60" stroke="#111" stroke-width="1.1"/>
<line x1="224.37" y1="766.60" x2="224.37" y2="764.00" stroke="#111" stroke-width="1.1"/>
<line x1="238.94" y1="474.60" x2="238.94" y2="477.60" stroke="#111" stroke-width="1.1"/>
<line x1="238.94" y1="766.60" x2="238.94" y2="764.00" stroke="#111" stroke-width="1.1"/>
<line x1="253.51" y1="474.60" x2="253.51" y2="477.60" stroke="#111" stroke-width="1.1"/>
<line x1="253.51" y1="766.60" x2="253.51" y2="764.00" stroke="#111" stroke-width="1.1"/>
<line x1="268.08" y1="474.60" x2="268.08" y2="477.60" stroke="#111" stroke-width="1.1"/>
<line x1="268.08" y1="766.60" x2="268.08" y2="764.00" stroke="#111" stroke-width="1.1"/>
<line x1="282.65" y1="474.60" x2="282.65" y2="479.10" stroke="#111" stroke-width="1.1"/>
<line x1="282.65" y1="766.60" x2="282.65" y2="762.30" stroke="#111" stroke-width="1.1"/>
<line x1="297.22" y1="474.60" x2="297.22" y2="477.60" stroke="#111" stroke-width="1.1"/>
<line x1="297.22" y1="766.60" x2="297.22" y2="764.00" stroke="#111" stroke-width="1.1"/>
<line x1="311.79" y1="474.60" x2="311.79" y2="477.60" stroke="#111" stroke-width="1.1"/>
<line x1="311.79" y1="766.60" x2="311.79" y2="764.00" stroke="#111" stroke-width="1.1"/>
<line x1="326.36" y1="474.60" x2="326.36" y2="477.60" stroke="#111" stroke-width="1.1"/>
<line x1="326.36" y1="766.60" x2="326.36" y2="764.00" stroke="#111" stroke-width="1.1"/>
<line x1="340.93" y1="474.60" x2="340.93" y2="477.60" stroke="#111" stroke-width="1.1"/>
<line x1="340.93" y1="766.60" x2="340.93" y2="764.00" stroke="#111" stroke-width="1.1"/>
<text transform="translate(64.10,784.20) scale(1,1.035)" font-size="14.0" text-anchor="middle" fill="#111" font-weight="normal" font-style="normal" >20</text>
<text transform="translate(136.95,784.20) scale(1,1.035)" font-size="14.0" text-anchor="middle" fill="#111" font-weight="normal" font-style="normal" >25</text>
<text transform="translate(209.80,784.20) scale(1,1.035)" font-size="14.0" text-anchor="middle" fill="#111" font-weight="normal" font-style="normal" >30</text>
<text transform="translate(282.65,784.20) scale(1,1.035)" font-size="14.0" text-anchor="middle" fill="#111" font-weight="normal" font-style="normal" >35</text>
<text transform="translate(355.50,784.20) scale(1,1.035)" font-size="14.0" text-anchor="middle" fill="#111" font-weight="normal" font-style="normal" >40</text>
<text transform="translate(166.80,803.80) scale(1,1.035)" font-size="16.8" fill="#111">2</text>
<text transform="translate(177.60,803.80) scale(1,1.035)" font-size="16.8" font-style="italic" fill="#111">θ</text>
<text transform="translate(188.40,803.80) scale(1,1.035)" font-size="16.2" fill="#111">(degree)</text>
<text transform="translate(51.80,621.20) rotate(-90) scale(1,1.035)" font-size="16.4" text-anchor="middle" fill="#111">Intensity (a.u.)</text>
<line x1="77.94" y1="531.30" x2="77.94" y2="528.80" stroke="#111" stroke-width="1.5"/>
<line x1="88.58" y1="531.30" x2="88.58" y2="529.80" stroke="#111" stroke-width="1.5"/>
<line x1="102.86" y1="531.30" x2="102.86" y2="528.80" stroke="#111" stroke-width="1.5"/>
<line x1="139.72" y1="531.30" x2="139.72" y2="530.30" stroke="#111" stroke-width="1.5"/>
<line x1="141.47" y1="531.30" x2="141.47" y2="525.78" stroke="#111" stroke-width="1.5"/>
<line x1="146.42" y1="531.30" x2="146.42" y2="523.37" stroke="#111" stroke-width="1.5"/>
<line x1="151.52" y1="531.30" x2="151.52" y2="530.30" stroke="#111" stroke-width="1.5"/>
<line x1="155.89" y1="531.30" x2="155.89" y2="526.93" stroke="#111" stroke-width="1.5"/>
<line x1="158.22" y1="531.30" x2="158.22" y2="525.78" stroke="#111" stroke-width="1.5"/>
<line x1="167.84" y1="531.30" x2="167.84" y2="518.65" stroke="#111" stroke-width="1.5"/>
<line x1="172.36" y1="531.30" x2="172.36" y2="529.30" stroke="#111" stroke-width="1.5"/>
<line x1="201.79" y1="531.30" x2="201.79" y2="530.30" stroke="#111" stroke-width="1.5"/>
<line x1="228.30" y1="531.30" x2="228.30" y2="525.89" stroke="#111" stroke-width="1.5"/>
<line x1="240.69" y1="531.30" x2="240.69" y2="530.10" stroke="#111" stroke-width="1.5"/>
<line x1="247.39" y1="531.30" x2="247.39" y2="530.10" stroke="#111" stroke-width="1.5"/>
<line x1="257.88" y1="531.30" x2="257.88" y2="530.10" stroke="#111" stroke-width="1.5"/>
<line x1="271.29" y1="531.30" x2="271.29" y2="530.30" stroke="#111" stroke-width="1.5"/>
<line x1="285.86" y1="531.30" x2="285.86" y2="530.30" stroke="#111" stroke-width="1.5"/>
<line x1="297.22" y1="531.30" x2="297.22" y2="530.30" stroke="#111" stroke-width="1.5"/>
<line x1="305.96" y1="531.30" x2="305.96" y2="530.30" stroke="#111" stroke-width="1.5"/>
<line x1="317.91" y1="531.30" x2="317.91" y2="527.50" stroke="#111" stroke-width="1.5"/>
<line x1="319.66" y1="531.30" x2="319.66" y2="529.30" stroke="#111" stroke-width="1.5"/>
<line x1="322.43" y1="531.30" x2="322.43" y2="529.30" stroke="#111" stroke-width="1.5"/>
<line x1="346.76" y1="531.30" x2="346.76" y2="530.30" stroke="#111" stroke-width="1.5"/>
<line x1="353.31" y1="531.30" x2="353.31" y2="530.30" stroke="#111" stroke-width="1.5"/>
<line x1="68.47" y1="589.00" x2="68.47" y2="583.50" stroke="#111" stroke-width="1.5"/>
<line x1="135.78" y1="589.00" x2="135.78" y2="583.50" stroke="#111" stroke-width="1.5"/>
<line x1="193.19" y1="589.00" x2="193.19" y2="576.00" stroke="#111" stroke-width="1.5"/>
<line x1="244.33" y1="589.00" x2="244.33" y2="586.80" stroke="#111" stroke-width="1.5"/>
<line x1="290.52" y1="589.00" x2="290.52" y2="586.80" stroke="#111" stroke-width="1.5"/>
<line x1="86.97" y1="760.60" x2="86.97" y2="747.40" stroke="#111" stroke-width="1.5"/>
<line x1="158.80" y1="760.60" x2="158.80" y2="758.40" stroke="#111" stroke-width="1.5"/>
<line x1="219.71" y1="760.60" x2="219.71" y2="747.00" stroke="#111" stroke-width="1.5"/>
<line x1="273.91" y1="760.60" x2="273.91" y2="755.60" stroke="#111" stroke-width="1.5"/>
<line x1="323.45" y1="760.60" x2="323.45" y2="751.00" stroke="#111" stroke-width="1.5"/>
<text transform="translate(78.40,524.70) rotate(-90) scale(1,1.035)" font-size="7.4" fill="#222">(111)</text>
<text transform="translate(90.30,525.50) rotate(-90) scale(1,1.035)" font-size="7.4" fill="#222">(104)</text>
<text transform="translate(104.00,524.70) rotate(-90) scale(1,1.035)" font-size="7.4" fill="#222">(112)</text>
<text transform="translate(140.80,522.20) rotate(-90) scale(1,1.035)" font-size="7.4" fill="#222">(113)</text>
<text transform="translate(148.30,518.90) rotate(-90) scale(1,1.035)" font-size="7.4" fill="#222">(211)</text>
<text transform="translate(154.90,519.70) rotate(-90) scale(1,1.035)" font-size="7.4" fill="#222">(204)</text>
<text transform="translate(161.50,518.90) rotate(-90) scale(1,1.035)" font-size="7.4" fill="#222">(105)</text>
<text transform="translate(168.60,515.60) rotate(-90) scale(1,1.035)" font-size="7.4" fill="#222">(212)</text>
<text transform="translate(175.50,524.70) rotate(-90) scale(1,1.035)" font-size="7.4" fill="#222">(302)</text>
<text transform="translate(202.00,524.70) rotate(-90) scale(1,1.035)" font-size="7.4" fill="#222">(213)</text>
<text transform="translate(229.30,522.20) rotate(-90) scale(1,1.035)" font-size="7.4" fill="#222">(015)</text>
<text transform="translate(240.90,524.70) rotate(-90) scale(1,1.035)" font-size="7.4" fill="#222">(311)</text>
<text transform="translate(249.10,524.70) rotate(-90) scale(1,1.035)" font-size="7.4" fill="#222">(304)</text>
<text transform="translate(259.10,524.70) rotate(-90) scale(1,1.035)" font-size="7.4" fill="#222">(312)</text>
<text transform="translate(319.10,523.60) rotate(-90) scale(1,1.035)" font-size="7.4" fill="#222">(117)</text>
<text transform="translate(70.70,582.90) rotate(-90) scale(1,1.035)" font-size="7.4" fill="#222">(110)</text>
<text transform="translate(137.60,582.20) rotate(-90) scale(1,1.035)" font-size="7.4" fill="#222">(111)</text>
<text transform="translate(194.40,575.60) rotate(-90) scale(1,1.035)" font-size="7.4" fill="#222">(200)</text>
<text transform="translate(245.90,583.30) rotate(-90) scale(1,1.035)" font-size="7.4" fill="#222">(210)</text>
<text transform="translate(292.40,583.30) rotate(-90) scale(1,1.035)" font-size="7.4" fill="#222">(211)</text>
<text transform="translate(88.40,746.50) rotate(-90) scale(1,1.035)" font-size="7.4" fill="#222">(110)</text>
<text transform="translate(160.20,755.30) rotate(-90) scale(1,1.035)" font-size="7.4" fill="#222">(111)</text>
<text transform="translate(215.00,759.10) rotate(-90) scale(1,1.035)" font-size="7.4" fill="#222">(200)</text>
<text transform="translate(269.90,757.90) rotate(-90) scale(1,1.035)" font-size="7.4" fill="#222">(210)</text>
<text transform="translate(319.80,757.90) rotate(-90) scale(1,1.035)" font-size="7.4" fill="#222">(211)</text>
<text transform="translate(180.70,497.30) scale(1,1.035)" font-size="9.5" fill="#222">orthorhombic CsPbI<tspan font-size="6.5" dy="3.6">3</tspan><tspan dy="-3.6"> (ICDD01-076-8587)</tspan></text>
<text transform="translate(209.40,555.50) scale(1,1.035)" font-size="9.5" fill="#222">cubic CsPbI<tspan font-size="6.5" dy="3.6">3</tspan><tspan dy="-3.6" dx="1.2"> (ICDD01-080-4039)</tspan></text>
<text transform="translate(201.90,736.40) scale(1,1.035)" font-size="9.5" fill="#222">cubic CsPbBr<tspan font-size="6.5" dy="3.6">3</tspan><tspan dy="-3.6" dx="1.2"> (ICDD00-054-0752)</tspan></text>
<path d="M426.60,614.15 L427.35,614.03 L428.10,614.04 L428.86,614.08 L429.61,614.14 L430.36,614.00 L431.11,614.00 L431.86,614.07 L432.61,614.07 L433.37,614.13 L434.12,614.19 L434.87,614.10 L435.62,614.05 L436.37,614.17 L437.13,613.99 L437.88,614.13 L438.63,614.13 L439.38,614.17 L440.13,613.94 L440.88,614.00 L441.64,613.97 L442.39,614.03 L443.14,614.17 L443.89,614.10 L444.64,614.05 L445.40,614.14 L446.15,613.94 L446.90,614.08 L447.65,614.13 L448.40,613.97 L449.15,614.13 L449.91,613.94 L450.66,614.05 L451.41,614.02 L452.16,614.07 L452.91,614.03 L453.67,614.09 L454.42,614.12 L455.17,613.92 L455.92,614.06 L456.67,613.92 L457.42,614.04 L458.18,613.83 L458.93,613.82 L459.68,613.80 L460.43,613.74 L461.18,613.69 L461.94,613.53 L462.69,613.51 L463.44,613.24 L464.19,612.96 L464.94,612.90 L465.69,612.56 L466.45,612.47 L467.20,612.59 L467.95,612.71 L468.70,612.86 L469.45,613.07 L470.21,613.13 L470.96,613.46 L471.71,613.69 L472.46,613.80 L473.21,613.74 L473.96,613.74 L474.72,613.90 L475.47,613.93 L476.22,613.94 L476.97,613.90 L477.72,614.04 L478.48,613.95 L479.23,613.97 L479.98,613.96 L480.73,614.07 L481.48,614.08 L482.23,614.03 L482.99,613.90 L483.74,614.04 L484.49,613.98 L485.24,614.05 L485.99,614.10 L486.75,614.11 L487.50,613.93 L488.25,613.93 L489.00,614.03 L489.75,613.95 L490.50,613.95 L491.26,613.90 L492.01,613.88 L492.76,614.01 L493.51,613.87 L494.26,613.87 L495.02,613.96 L495.77,613.89 L496.52,613.98 L497.27,614.00 L498.02,614.03 L498.77,613.87 L499.53,614.04 L500.28,614.06 L501.03,613.88 L501.78,613.88 L502.53,613.94 L503.28,613.85 L504.04,614.03 L504.79,613.97 L505.54,613.95 L506.29,613.91 L507.04,613.96 L507.80,613.97 L508.55,613.88 L509.30,613.73 L510.05,613.69 L510.80,613.71 L511.55,613.74 L512.31,613.75 L513.06,613.52 L513.81,613.52 L514.56,613.32 L515.31,613.25 L516.07,612.84 L516.82,612.17 L517.57,611.49 L518.32,610.64 L519.07,609.86 L519.82,609.19 L520.58,608.85 L521.33,609.01 L522.08,609.78 L522.83,610.55 L523.58,611.43 L524.34,612.00 L525.09,612.70 L525.84,612.89 L526.59,613.05 L527.34,613.40 L528.09,613.32 L528.85,613.32 L529.60,613.24 L530.35,613.24 L531.10,613.23 L531.85,613.07 L532.61,612.78 L533.36,612.61 L534.11,612.62 L534.86,612.46 L535.61,612.35 L536.36,612.32 L537.12,612.25 L537.87,612.39 L538.62,612.30 L539.37,612.42 L540.12,612.58 L540.88,612.46 L541.63,612.44 L542.38,612.25 L543.13,612.11 L543.88,611.85 L544.63,611.51 L545.39,611.04 L546.14,610.48 L546.89,609.96 L547.64,609.46 L548.39,608.61 L549.15,607.82 L549.90,607.06 L550.65,606.24 L551.40,605.62 L552.15,604.73 L552.90,604.13 L553.66,603.37 L554.41,603.08 L555.16,602.72 L555.91,602.81 L556.66,602.91 L557.42,603.40 L558.17,604.04 L558.92,604.65 L559.67,605.44 L560.42,606.11 L561.17,607.07 L561.93,607.82 L562.68,608.56 L563.43,609.17 L564.18,610.02 L564.93,610.48 L565.69,611.01 L566.44,611.39 L567.19,611.72 L567.94,612.19 L568.69,612.37 L569.44,612.63 L570.20,612.81 L570.95,613.08 L571.70,613.02 L572.45,613.08 L573.20,613.31 L573.96,613.38 L574.71,613.28 L575.46,613.54 L576.21,613.58 L576.96,613.62 L577.71,613.47 L578.47,613.50 L579.22,613.60 L579.97,613.57 L580.72,613.73 L581.47,613.60 L582.23,613.65 L582.98,613.64 L583.73,613.67 L584.48,613.67 L585.23,613.71 L585.98,613.74 L586.74,613.63 L587.49,613.65 L588.24,613.49 L588.99,613.38 L589.74,613.26 L590.50,613.10 L591.25,612.87 L592.00,612.55 L592.75,612.35 L593.50,612.35 L594.25,612.47 L595.01,612.91 L595.76,612.99 L596.51,613.09 L597.26,613.07 L598.01,613.02 L598.77,613.01 L599.52,613.00 L600.27,612.90 L601.02,612.86 L601.77,612.75 L602.52,612.73 L603.28,612.67 L604.03,612.71 L604.78,612.49 L605.53,612.57 L606.28,612.48 L607.04,612.40 L607.79,612.35 L608.54,612.35 L609.29,612.59 L610.04,612.54 L610.79,612.58 L611.55,612.61 L612.30,612.72 L613.05,612.69 L613.80,612.87 L614.55,612.88 L615.31,612.80 L616.06,612.93 L616.81,613.07 L617.56,613.22 L618.31,613.09 L619.06,613.21 L619.82,613.39 L620.57,613.42 L621.32,613.40 L622.07,613.44 L622.82,613.59 L623.58,613.46 L624.33,613.64 L625.08,613.69 L625.83,613.57 L626.58,613.76 L627.33,613.65 L628.09,613.78 L628.84,613.69 L629.59,613.77 L630.34,613.74 L631.09,613.60 L631.85,613.70 L632.60,613.70 L633.35,613.63 L634.10,613.69 L634.85,613.69 L635.60,613.60 L636.36,613.59 L637.11,613.57 L637.86,613.34 L638.61,613.51 L639.36,613.26 L640.12,613.17 L640.87,613.17 L641.62,613.26 L642.37,613.08 L643.12,613.12 L643.87,612.91 L644.63,612.82 L645.38,612.86 L646.13,612.85 L646.88,612.67 L647.63,612.72 L648.38,612.63 L649.14,612.56 L649.89,612.44 L650.64,612.56 L651.39,612.63 L652.14,612.49 L652.90,612.52 L653.65,612.63 L654.40,612.80 L655.15,612.83 L655.90,612.84 L656.65,612.88 L657.41,613.03 L658.16,612.97 L658.91,613.03 L659.66,613.09 L660.41,613.17 L661.17,613.44 L661.92,613.37 L662.67,613.55 L663.42,613.41 L664.17,613.50 L664.92,613.54 L665.68,613.72 L666.43,613.79 L667.18,613.65 L667.93,613.73 L668.68,613.75 L669.44,613.81 L670.19,613.75 L670.94,613.88 L671.69,613.91 L672.44,613.90 L673.19,613.92 L673.95,613.84 L674.70,613.78 L675.45,613.96 L676.20,613.94 L676.95,613.78 L677.71,613.64 L678.46,613.61 L679.21,613.37 L679.96,613.15 L680.71,612.87 L681.46,612.55 L682.22,612.47 L682.97,612.65 L683.72,613.04 L684.47,613.35 L685.22,613.39 L685.98,613.67 L686.73,613.82 L687.48,613.83 L688.23,613.87 L688.98,613.94 L689.73,614.07 L690.49,613.90 L691.24,614.06 L691.99,614.11 L692.74,614.04 L693.49,614.00 L694.25,613.98 L695.00,614.10 L695.75,613.97 L696.50,614.03 L697.25,614.11 L698.00,613.95 L698.76,613.96 L699.51,613.94 L700.26,614.00 L701.01,614.11 L701.76,613.98 L702.52,613.95 L703.27,614.04 L704.02,613.95 L704.77,613.94 L705.52,614.08 L706.27,613.95 L707.03,613.95 L707.78,613.98 L708.53,614.17 L709.28,614.09 L710.03,614.03 L710.79,614.03 L711.54,614.00 L712.29,614.02 L713.04,614.14 L713.79,613.96 L714.54,614.05 L715.30,613.97 L716.05,614.13 L716.80,613.95" fill="none" stroke="#ff1010" stroke-width="1.9" stroke-linejoin="round"/>
<text transform="translate(708.90,609.10) scale(1,1.035)" font-size="9.6" text-anchor="end" fill="#ff1010"><tspan font-style="italic">x</tspan> = 0.80</text>
<path d="M426.60,639.26 L427.35,639.38 L428.10,639.31 L428.86,638.96 L429.61,639.04 L430.36,638.92 L431.11,638.66 L431.86,638.59 L432.61,638.33 L433.37,638.38 L434.12,638.12 L434.87,638.23 L435.62,638.15 L436.37,638.11 L437.13,638.25 L437.88,638.30 L438.63,638.48 L439.38,638.77 L440.13,638.71 L440.88,638.91 L441.64,639.10 L442.39,639.24 L443.14,639.18 L443.89,639.33 L444.64,639.32 L445.40,639.41 L446.15,639.42 L446.90,639.55 L447.65,639.55 L448.40,639.59 L449.15,639.70 L449.91,639.54 L450.66,639.71 L451.41,639.60 L452.16,639.57 L452.91,639.65 L453.67,639.77 L454.42,639.61 L455.17,639.65 L455.92,639.77 L456.67,639.80 L457.42,639.68 L458.18,639.80 L458.93,639.58 L459.68,639.67 L460.43,639.66 L461.18,639.67 L461.94,639.57 L462.69,639.46 L463.44,639.53 L464.19,639.40 L464.94,639.21 L465.69,639.11 L466.45,638.87 L467.20,638.76 L467.95,638.76 L468.70,638.77 L469.45,638.95 L470.21,639.23 L470.96,639.17 L471.71,639.46 L472.46,639.54 L473.21,639.61 L473.96,639.53 L474.72,639.55 L475.47,639.68 L476.22,639.71 L476.97,639.79 L477.72,639.61 L478.48,639.79 L479.23,639.70 L479.98,639.75 L480.73,639.76 L481.48,639.75 L482.23,639.79 L482.99,639.83 L483.74,639.71 L484.49,639.65 L485.24,639.68 L485.99,639.79 L486.75,639.67 L487.50,639.83 L488.25,639.74 L489.00,639.64 L489.75,639.62 L490.50,639.73 L491.26,639.63 L492.01,639.71 L492.76,639.71 L493.51,639.69 L494.26,639.59 L495.02,639.65 L495.77,639.71 L496.52,639.65 L497.27,639.67 L498.02,639.73 L498.77,639.63 L499.53,639.62 L500.28,639.67 L501.03,639.58 L501.78,639.80 L502.53,639.68 L503.28,639.65 L504.04,639.71 L504.79,639.75 L505.54,639.62 L506.29,639.68 L507.04,639.71 L507.80,639.76 L508.55,639.53 L509.30,639.67 L510.05,639.72 L510.80,639.68 L511.55,639.66 L512.31,639.50 L513.06,639.65 L513.81,639.60 L514.56,639.62 L515.31,639.49 L516.07,639.49 L516.82,639.36 L517.57,639.12 L518.32,638.87 L519.07,638.60 L519.82,638.44 L520.58,637.98 L521.33,637.51 L522.08,637.50 L522.83,637.47 L523.58,637.63 L524.34,637.98 L525.09,638.24 L525.84,638.54 L526.59,638.81 L527.34,638.98 L528.09,639.03 L528.85,639.01 L529.60,639.00 L530.35,638.77 L531.10,638.79 L531.85,638.50 L532.61,638.47 L533.36,638.54 L534.11,638.41 L534.86,638.41 L535.61,638.60 L536.36,638.58 L537.12,638.79 L537.87,638.70 L538.62,638.97 L539.37,638.89 L540.12,638.85 L540.88,638.91 L541.63,639.07 L542.38,638.98 L543.13,639.05 L543.88,638.95 L544.63,638.76 L545.39,638.68 L546.14,638.76 L546.89,638.53 L547.64,638.29 L548.39,638.19 L549.15,637.77 L549.90,637.43 L550.65,637.14 L551.40,636.74 L552.15,636.11 L552.90,635.61 L553.66,635.03 L554.41,634.29 L555.16,633.54 L555.91,632.56 L556.66,631.79 L557.42,630.89 L558.17,630.04 L558.92,629.26 L559.67,628.81 L560.42,628.29 L561.17,627.91 L561.93,627.90 L562.68,628.17 L563.43,628.51 L564.18,629.20 L564.93,629.92 L565.69,630.74 L566.44,631.50 L567.19,632.39 L567.94,633.16 L568.69,633.85 L569.44,634.78 L570.20,635.37 L570.95,635.90 L571.70,636.50 L572.45,636.99 L573.20,637.33 L573.96,637.85 L574.71,637.91 L575.46,638.21 L576.21,638.38 L576.96,638.53 L577.71,638.84 L578.47,638.95 L579.22,639.01 L579.97,639.00 L580.72,638.96 L581.47,639.01 L582.23,639.17 L582.98,639.15 L583.73,639.15 L584.48,639.27 L585.23,639.14 L585.98,639.16 L586.74,639.22 L587.49,639.19 L588.24,639.21 L588.99,639.23 L589.74,639.28 L590.50,639.22 L591.25,639.11 L592.00,638.97 L592.75,638.53 L593.50,638.47 L594.25,638.45 L595.01,638.47 L595.76,638.71 L596.51,638.83 L597.26,639.00 L598.01,639.12 L598.77,639.08 L599.52,639.09 L600.27,639.08 L601.02,638.93 L601.77,639.01 L602.52,638.90 L603.28,638.76 L604.03,638.68 L604.78,638.75 L605.53,638.77 L606.28,638.48 L607.04,638.52 L607.79,638.52 L608.54,638.48 L609.29,638.39 L610.04,638.32 L610.79,638.32 L611.55,638.31 L612.30,638.06 L613.05,638.09 L613.80,638.26 L614.55,638.19 L615.31,638.15 L616.06,638.26 L616.81,638.41 L617.56,638.41 L618.31,638.46 L619.06,638.40 L619.82,638.56 L620.57,638.66 L621.32,638.69 L622.07,638.91 L622.82,638.82 L623.58,638.86 L624.33,638.96 L625.08,639.10 L625.83,639.17 L626.58,639.29 L627.33,639.32 L628.09,639.35 L628.84,639.32 L629.59,639.28 L630.34,639.44 L631.09,639.41 L631.85,639.39 L632.60,639.41 L633.35,639.58 L634.10,639.37 L634.85,639.46 L635.60,639.54 L636.36,639.56 L637.11,639.45 L637.86,639.39 L638.61,639.53 L639.36,639.51 L640.12,639.46 L640.87,639.53 L641.62,639.46 L642.37,639.32 L643.12,639.38 L643.87,639.29 L644.63,639.39 L645.38,639.20 L646.13,639.18 L646.88,639.27 L647.63,639.15 L648.38,639.06 L649.14,639.02 L649.89,638.95 L650.64,638.97 L651.39,638.83 L652.14,638.81 L652.90,638.63 L653.65,638.66 L654.40,638.44 L655.15,638.47 L655.90,638.49 L656.65,638.39 L657.41,638.41 L658.16,638.23 L658.91,638.36 L659.66,638.21 L660.41,638.28 L661.17,638.18 L661.92,638.36 L662.67,638.27 L663.42,638.30 L664.17,638.48 L664.92,638.56 L665.68,638.57 L666.43,638.58 L667.18,638.74 L667.93,638.88 L668.68,638.85 L669.44,638.83 L670.19,639.06 L670.94,638.93 L671.69,639.10 L672.44,639.24 L673.19,639.31 L673.95,639.29 L674.70,639.31 L675.45,639.42 L676.20,639.48 L676.95,639.41 L677.71,639.50 L678.46,639.47 L679.21,639.48 L679.96,639.42 L680.71,639.43 L681.46,639.48 L682.22,639.42 L682.97,639.14 L683.72,639.18 L684.47,638.98 L685.22,638.80 L685.98,638.46 L686.73,638.47 L687.48,638.44 L688.23,638.67 L688.98,638.95 L689.73,639.13 L690.49,639.23 L691.24,639.48 L691.99,639.44 L692.74,639.60 L693.49,639.72 L694.25,639.68 L695.00,639.64 L695.75,639.76 L696.50,639.58 L697.25,639.59 L698.00,639.69 L698.76,639.61 L699.51,639.66 L700.26,639.70 L701.01,639.80 L701.76,639.61 L702.52,639.62 L703.27,639.74 L704.02,639.76 L704.77,639.83 L705.52,639.71 L706.27,639.65 L707.03,639.76 L707.78,639.79 L708.53,639.71 L709.28,639.67 L710.03,639.82 L710.79,639.80 L711.54,639.71 L712.29,639.86 L713.04,639.67 L713.79,639.80 L714.54,639.67 L715.30,639.76 L716.05,639.84 L716.80,639.87" fill="none" stroke="#ff8c1a" stroke-width="1.9" stroke-linejoin="round"/>
<text transform="translate(708.90,634.50) scale(1,1.035)" font-size="9.6" text-anchor="end" fill="#ff8c1a"><tspan font-style="italic">x</tspan> = 0.60</text>
<path d="M426.60,664.82 L427.35,664.76 L428.10,664.70 L428.86,664.81 L429.61,664.58 L430.36,664.50 L431.11,664.33 L431.86,664.26 L432.61,664.06 L433.37,663.79 L434.12,663.61 L434.87,663.31 L435.62,663.16 L436.37,662.90 L437.13,662.51 L437.88,662.36 L438.63,662.16 L439.38,661.98 L440.13,662.01 L440.88,662.10 L441.64,662.00 L442.39,662.19 L443.14,662.37 L443.89,662.60 L444.64,662.76 L445.40,663.16 L446.15,663.32 L446.90,663.65 L447.65,663.82 L448.40,664.00 L449.15,664.26 L449.91,664.48 L450.66,664.52 L451.41,664.58 L452.16,664.71 L452.91,664.82 L453.67,664.84 L454.42,665.00 L455.17,665.05 L455.92,665.05 L456.67,664.96 L457.42,665.13 L458.18,665.17 L458.93,665.19 L459.68,665.21 L460.43,665.17 L461.18,665.11 L461.94,665.06 L462.69,665.18 L463.44,665.18 L464.19,665.20 L464.94,665.20 L465.69,665.09 L466.45,665.15 L467.20,665.23 L467.95,665.27 L468.70,665.11 L469.45,665.13 L470.21,665.10 L470.96,665.24 L471.71,665.17 L472.46,665.08 L473.21,665.16 L473.96,665.08 L474.72,665.27 L475.47,665.07 L476.22,665.30 L476.97,665.21 L477.72,665.30 L478.48,665.11 L479.23,665.14 L479.98,665.07 L480.73,665.11 L481.48,665.08 L482.23,665.18 L482.99,665.07 L483.74,665.12 L484.49,665.22 L485.24,665.06 L485.99,665.20 L486.75,665.24 L487.50,665.27 L488.25,665.17 L489.00,665.23 L489.75,665.05 L490.50,665.03 L491.26,665.20 L492.01,665.22 L492.76,665.11 L493.51,665.18 L494.26,665.08 L495.02,665.00 L495.77,665.12 L496.52,665.06 L497.27,664.93 L498.02,665.01 L498.77,665.01 L499.53,664.86 L500.28,664.85 L501.03,664.80 L501.78,664.82 L502.53,664.85 L503.28,664.75 L504.04,664.68 L504.79,664.69 L505.54,664.75 L506.29,664.69 L507.04,664.63 L507.80,664.51 L508.55,664.52 L509.30,664.49 L510.05,664.39 L510.80,664.54 L511.55,664.39 L512.31,664.45 L513.06,664.38 L513.81,664.31 L514.56,664.46 L515.31,664.30 L516.07,664.52 L516.82,664.42 L517.57,664.45 L518.32,664.55 L519.07,664.50 L519.82,664.56 L520.58,664.59 L521.33,664.56 L522.08,664.77 L522.83,664.71 L523.58,664.64 L524.34,664.83 L525.09,664.68 L525.84,664.87 L526.59,664.78 L527.34,664.92 L528.09,664.88 L528.85,664.90 L529.60,665.00 L530.35,664.87 L531.10,664.93 L531.85,664.89 L532.61,664.93 L533.36,664.94 L534.11,664.95 L534.86,665.00 L535.61,664.86 L536.36,665.05 L537.12,664.86 L537.87,664.85 L538.62,664.94 L539.37,664.86 L540.12,664.87 L540.88,664.88 L541.63,664.94 L542.38,664.92 L543.13,664.89 L543.88,664.88 L544.63,664.70 L545.39,664.83 L546.14,664.79 L546.89,664.75 L547.64,664.62 L548.39,664.66 L549.15,664.59 L549.90,664.60 L550.65,664.52 L551.40,664.48 L552.15,664.35 L552.90,664.21 L553.66,663.91 L554.41,663.81 L555.16,663.67 L555.91,663.31 L556.66,663.06 L557.42,662.55 L558.17,662.12 L558.92,661.49 L559.67,661.03 L560.42,660.22 L561.17,659.62 L561.93,658.65 L562.68,657.89 L563.43,657.16 L564.18,656.12 L564.93,655.42 L565.69,654.65 L566.44,654.07 L567.19,653.45 L567.94,653.39 L568.69,653.22 L569.44,653.52 L570.20,653.88 L570.95,654.58 L571.70,655.37 L572.45,655.98 L573.20,656.91 L573.96,657.89 L574.71,658.54 L575.46,659.36 L576.21,660.28 L576.96,661.00 L577.71,661.47 L578.47,662.12 L579.22,662.45 L579.97,662.91 L580.72,663.19 L581.47,663.51 L582.23,663.70 L582.98,663.88 L583.73,664.09 L584.48,664.22 L585.23,664.39 L585.98,664.52 L586.74,664.61 L587.49,664.48 L588.24,664.69 L588.99,664.68 L589.74,664.74 L590.50,664.69 L591.25,664.74 L592.00,664.69 L592.75,664.81 L593.50,664.84 L594.25,664.79 L595.01,664.78 L595.76,664.74 L596.51,664.90 L597.26,664.77 L598.01,664.75 L598.77,664.75 L599.52,664.95 L600.27,664.88 L601.02,664.78 L601.77,664.75 L602.52,664.92 L603.28,664.81 L604.03,664.71 L604.78,664.67 L605.53,664.68 L606.28,664.72 L607.04,664.62 L607.79,664.65 L608.54,664.53 L609.29,664.43 L610.04,664.26 L610.79,664.24 L611.55,664.20 L612.30,664.15 L613.05,664.05 L613.80,663.87 L614.55,663.83 L615.31,663.81 L616.06,663.57 L616.81,663.55 L617.56,663.39 L618.31,663.44 L619.06,663.37 L619.82,663.40 L620.57,663.35 L621.32,663.29 L622.07,663.31 L622.82,663.43 L623.58,663.55 L624.33,663.71 L625.08,663.61 L625.83,663.81 L626.58,663.91 L627.33,664.08 L628.09,664.18 L628.84,664.19 L629.59,664.14 L630.34,664.28 L631.09,664.37 L631.85,664.46 L632.60,664.63 L633.35,664.72 L634.10,664.67 L634.85,664.85 L635.60,664.77 L636.36,664.83 L637.11,664.86 L637.86,665.00 L638.61,665.04 L639.36,664.96 L640.12,665.06 L640.87,664.96 L641.62,665.05 L642.37,664.99 L643.12,664.97 L643.87,665.01 L644.63,665.03 L645.38,665.11 L646.13,665.07 L646.88,664.92 L647.63,665.08 L648.38,665.07 L649.14,665.01 L649.89,664.99 L650.64,664.91 L651.39,665.01 L652.14,664.82 L652.90,665.02 L653.65,664.80 L654.40,664.81 L655.15,664.68 L655.90,664.81 L656.65,664.62 L657.41,664.49 L658.16,664.48 L658.91,664.53 L659.66,664.25 L660.41,664.15 L661.17,664.26 L661.92,663.99 L662.67,664.06 L663.42,663.96 L664.17,663.69 L664.92,663.62 L665.68,663.49 L666.43,663.50 L667.18,663.48 L667.93,663.50 L668.68,663.42 L669.44,663.34 L670.19,663.46 L670.94,663.46 L671.69,663.69 L672.44,663.65 L673.19,663.74 L673.95,664.00 L674.70,663.92 L675.45,664.18 L676.20,664.27 L676.95,664.41 L677.71,664.36 L678.46,664.58 L679.21,664.46 L679.96,664.77 L680.71,664.65 L681.46,664.72 L682.22,664.82 L682.97,664.87 L683.72,664.86 L684.47,664.94 L685.22,665.09 L685.98,664.97 L686.73,665.10 L687.48,665.06 L688.23,665.10 L688.98,665.02 L689.73,665.15 L690.49,665.06 L691.24,665.25 L691.99,665.20 L692.74,665.13 L693.49,665.15 L694.25,665.10 L695.00,665.26 L695.75,665.12 L696.50,665.13 L697.25,665.29 L698.00,665.29 L698.76,665.19 L699.51,665.10 L700.26,665.19 L701.01,665.23 L701.76,665.22 L702.52,665.15 L703.27,665.22 L704.02,665.22 L704.77,665.21 L705.52,665.13 L706.27,665.16 L707.03,665.15 L707.78,665.29 L708.53,665.21 L709.28,665.16 L710.03,665.19 L710.79,665.14 L711.54,665.15 L712.29,665.34 L713.04,665.25 L713.79,665.28 L714.54,665.32 L715.30,665.25 L716.05,665.14 L716.80,665.19" fill="none" stroke="#98c83a" stroke-width="1.9" stroke-linejoin="round"/>
<text transform="translate(708.90,659.10) scale(1,1.035)" font-size="9.6" text-anchor="end" fill="#98c83a"><tspan font-style="italic">x</tspan> = 0.50</text>
<path d="M426.60,689.63 L427.35,689.56 L428.10,689.68 L428.86,689.44 L429.61,689.57 L430.36,689.38 L431.11,689.42 L431.86,689.14 L432.61,689.13 L433.37,688.80 L434.12,688.57 L434.87,688.27 L435.62,688.02 L436.37,687.54 L437.13,687.08 L437.88,686.82 L438.63,686.22 L439.38,685.60 L440.13,685.14 L440.88,684.75 L441.64,684.40 L442.39,683.98 L443.14,684.08 L443.89,683.96 L444.64,684.15 L445.40,684.66 L446.15,685.05 L446.90,685.55 L447.65,686.01 L448.40,686.56 L449.15,686.92 L449.91,687.35 L450.66,687.90 L451.41,688.11 L452.16,688.61 L452.91,688.85 L453.67,688.92 L454.42,689.06 L455.17,689.19 L455.92,689.25 L456.67,689.37 L457.42,689.58 L458.18,689.51 L458.93,689.51 L459.68,689.75 L460.43,689.68 L461.18,689.78 L461.94,689.80 L462.69,689.74 L463.44,689.71 L464.19,689.65 L464.94,689.86 L465.69,689.78 L466.45,689.68 L467.20,689.74 L467.95,689.80 L468.70,689.88 L469.45,689.79 L470.21,689.89 L470.96,689.80 L471.71,689.80 L472.46,689.87 L473.21,689.78 L473.96,689.87 L474.72,689.86 L475.47,689.78 L476.22,689.92 L476.97,689.94 L477.72,689.84 L478.48,689.88 L479.23,689.77 L479.98,689.93 L480.73,689.90 L481.48,689.97 L482.23,689.88 L482.99,689.91 L483.74,689.88 L484.49,689.80 L485.24,689.97 L485.99,689.74 L486.75,689.81 L487.50,689.78 L488.25,689.84 L489.00,689.83 L489.75,689.86 L490.50,689.86 L491.26,689.89 L492.01,689.86 L492.76,689.86 L493.51,689.84 L494.26,689.69 L495.02,689.70 L495.77,689.72 L496.52,689.85 L497.27,689.77 L498.02,689.69 L498.77,689.63 L499.53,689.67 L500.28,689.59 L501.03,689.49 L501.78,689.62 L502.53,689.56 L503.28,689.43 L504.04,689.50 L504.79,689.37 L505.54,689.41 L506.29,689.46 L507.04,689.32 L507.80,689.38 L508.55,689.17 L509.30,689.12 L510.05,689.17 L510.80,689.06 L511.55,689.20 L512.31,689.13 L513.06,689.18 L513.81,689.21 L514.56,689.03 L515.31,689.22 L516.07,689.03 L516.82,689.14 L517.57,689.13 L518.32,689.31 L519.07,689.13 L519.82,689.19 L520.58,689.39 L521.33,689.41 L522.08,689.45 L522.83,689.40 L523.58,689.53 L524.34,689.39 L525.09,689.49 L525.84,689.47 L526.59,689.61 L527.34,689.54 L528.09,689.61 L528.85,689.58 L529.60,689.65 L530.35,689.53 L531.10,689.58 L531.85,689.60 L532.61,689.72 L533.36,689.77 L534.11,689.78 L534.86,689.79 L535.61,689.59 L536.36,689.76 L537.12,689.62 L537.87,689.77 L538.62,689.68 L539.37,689.76 L540.12,689.74 L540.88,689.63 L541.63,689.66 L542.38,689.57 L543.13,689.73 L543.88,689.71 L544.63,689.74 L545.39,689.69 L546.14,689.50 L546.89,689.58 L547.64,689.58 L548.39,689.59 L549.15,689.47 L549.90,689.46 L550.65,689.56 L551.40,689.55 L552.15,689.48 L552.90,689.29 L553.66,689.25 L554.41,689.31 L555.16,689.24 L555.91,689.13 L556.66,688.93 L557.42,688.78 L558.17,688.74 L558.92,688.52 L559.67,688.30 L560.42,687.84 L561.17,687.59 L561.93,687.09 L562.68,686.79 L563.43,686.16 L564.18,685.57 L564.93,684.82 L565.69,684.23 L566.44,683.49 L567.19,682.55 L567.94,681.70 L568.69,681.02 L569.44,680.33 L570.20,679.75 L570.95,679.17 L571.70,678.75 L572.45,678.78 L573.20,678.87 L573.96,679.17 L574.71,679.75 L575.46,680.43 L576.21,681.07 L576.96,681.75 L577.71,682.58 L578.47,683.52 L579.22,684.17 L579.97,684.88 L580.72,685.60 L581.47,686.25 L582.23,686.82 L582.98,687.16 L583.73,687.56 L584.48,688.02 L585.23,688.32 L585.98,688.56 L586.74,688.58 L587.49,688.73 L588.24,688.95 L588.99,689.03 L589.74,689.10 L590.50,689.30 L591.25,689.27 L592.00,689.34 L592.75,689.28 L593.50,689.48 L594.25,689.35 L595.01,689.54 L595.76,689.45 L596.51,689.40 L597.26,689.62 L598.01,689.53 L598.77,689.66 L599.52,689.55 L600.27,689.56 L601.02,689.45 L601.77,689.57 L602.52,689.47 L603.28,689.51 L604.03,689.48 L604.78,689.59 L605.53,689.64 L606.28,689.49 L607.04,689.60 L607.79,689.45 L608.54,689.52 L609.29,689.38 L610.04,689.30 L610.79,689.20 L611.55,689.32 L612.30,689.25 L613.05,689.11 L613.80,688.89 L614.55,688.96 L615.31,688.80 L616.06,688.71 L616.81,688.66 L617.56,688.41 L618.31,688.33 L619.06,688.15 L619.82,687.94 L620.57,687.82 L621.32,687.80 L622.07,687.58 L622.82,687.51 L623.58,687.38 L624.33,687.51 L625.08,687.43 L625.83,687.34 L626.58,687.41 L627.33,687.49 L628.09,687.58 L628.84,687.67 L629.59,687.77 L630.34,687.88 L631.09,688.03 L631.85,688.15 L632.60,688.37 L633.35,688.60 L634.10,688.69 L634.85,688.69 L635.60,688.83 L636.36,688.98 L637.11,689.19 L637.86,689.27 L638.61,689.23 L639.36,689.36 L640.12,689.48 L640.87,689.34 L641.62,689.56 L642.37,689.44 L643.12,689.54 L643.87,689.49 L644.63,689.55 L645.38,689.71 L646.13,689.72 L646.88,689.58 L647.63,689.69 L648.38,689.68 L649.14,689.62 L649.89,689.66 L650.64,689.63 L651.39,689.68 L652.14,689.73 L652.90,689.62 L653.65,689.75 L654.40,689.59 L655.15,689.56 L655.90,689.69 L656.65,689.70 L657.41,689.44 L658.16,689.57 L658.91,689.44 L659.66,689.43 L660.41,689.39 L661.17,689.27 L661.92,689.20 L662.67,688.89 L663.42,688.76 L664.17,688.59 L664.92,688.55 L665.68,688.30 L666.43,688.14 L667.18,687.72 L667.93,687.45 L668.68,687.21 L669.44,686.99 L670.19,686.83 L670.94,686.66 L671.69,686.59 L672.44,686.50 L673.19,686.31 L673.95,686.24 L674.70,686.32 L675.45,686.58 L676.20,686.74 L676.95,686.86 L677.71,687.24 L678.46,687.38 L679.21,687.66 L679.96,687.95 L680.71,688.19 L681.46,688.46 L682.22,688.67 L682.97,688.81 L683.72,688.81 L684.47,688.99 L685.22,689.31 L685.98,689.24 L686.73,689.48 L687.48,689.45 L688.23,689.43 L688.98,689.49 L689.73,689.54 L690.49,689.55 L691.24,689.67 L691.99,689.84 L692.74,689.81 L693.49,689.73 L694.25,689.76 L695.00,689.70 L695.75,689.89 L696.50,689.73 L697.25,689.81 L698.00,689.81 L698.76,689.93 L699.51,689.89 L700.26,689.85 L701.01,689.80 L701.76,689.83 L702.52,689.84 L703.27,689.83 L704.02,689.92 L704.77,689.93 L705.52,689.78 L706.27,689.86 L707.03,689.89 L707.78,689.79 L708.53,689.82 L709.28,689.86 L710.03,689.80 L710.79,689.94 L711.54,689.82 L712.29,689.90 L713.04,689.94 L713.79,689.95 L714.54,690.03 L715.30,689.84 L716.05,689.82 L716.80,689.96" fill="none" stroke="#106010" stroke-width="1.9" stroke-linejoin="round"/>
<text transform="translate(708.90,681.50) scale(1,1.035)" font-size="9.6" text-anchor="end" fill="#106010"><tspan font-style="italic">x</tspan> = 0.40</text>
<path d="M426.60,715.78 L427.35,715.63 L428.10,715.63 L428.86,715.76 L429.61,715.57 L430.36,715.59 L431.11,715.69 L431.86,715.42 L432.61,715.52 L433.37,715.42 L434.12,715.28 L434.87,715.10 L435.62,715.04 L436.37,714.69 L437.13,714.40 L437.88,714.17 L438.63,713.74 L439.38,713.37 L440.13,712.87 L440.88,712.54 L441.64,711.98 L442.39,711.44 L443.14,711.04 L443.89,710.41 L444.64,710.17 L445.40,710.11 L446.15,709.96 L446.90,710.14 L447.65,710.47 L448.40,710.87 L449.15,711.27 L449.91,711.87 L450.66,712.27 L451.41,712.78 L452.16,713.34 L452.91,713.58 L453.67,714.16 L454.42,714.45 L455.17,714.57 L455.92,714.94 L456.67,715.07 L457.42,715.19 L458.18,715.34 L458.93,715.42 L459.68,715.49 L460.43,715.55 L461.18,715.70 L461.94,715.55 L462.69,715.71 L463.44,715.79 L464.19,715.73 L464.94,715.65 L465.69,715.71 L466.45,715.77 L467.20,715.77 L467.95,715.85 L468.70,715.76 L469.45,715.83 L470.21,715.91 L470.96,715.90 L471.71,715.92 L472.46,715.78 L473.21,715.74 L473.96,715.77 L474.72,715.91 L475.47,715.93 L476.22,715.74 L476.97,715.88 L477.72,715.93 L478.48,715.84 L479.23,715.83 L479.98,715.85 L480.73,715.87 L481.48,715.90 L482.23,715.86 L482.99,715.87 L483.74,715.81 L484.49,715.87 L485.24,715.89 L485.99,715.74 L486.75,715.94 L487.50,715.79 L488.25,715.86 L489.00,715.77 L489.75,715.78 L490.50,715.81 L491.26,715.80 L492.01,715.88 L492.76,715.92 L493.51,715.73 L494.26,715.84 L495.02,715.86 L495.77,715.68 L496.52,715.71 L497.27,715.83 L498.02,715.69 L498.77,715.75 L499.53,715.56 L500.28,715.67 L501.03,715.48 L501.78,715.53 L502.53,715.63 L503.28,715.51 L504.04,715.35 L504.79,715.37 L505.54,715.47 L506.29,715.38 L507.04,715.36 L507.80,715.37 L508.55,715.22 L509.30,715.16 L510.05,715.25 L510.80,715.14 L511.55,715.05 L512.31,715.02 L513.06,715.19 L513.81,715.21 L514.56,715.01 L515.31,715.16 L516.07,715.21 L516.82,715.08 L517.57,715.23 L518.32,715.15 L519.07,715.19 L519.82,715.32 L520.58,715.31 L521.33,715.38 L522.08,715.29 L522.83,715.45 L523.58,715.49 L524.34,715.38 L525.09,715.55 L525.84,715.54 L526.59,715.55 L527.34,715.70 L528.09,715.65 L528.85,715.56 L529.60,715.52 L530.35,715.69 L531.10,715.68 L531.85,715.79 L532.61,715.70 L533.36,715.74 L534.11,715.71 L534.86,715.76 L535.61,715.76 L536.36,715.62 L537.12,715.66 L537.87,715.76 L538.62,715.82 L539.37,715.82 L540.12,715.81 L540.88,715.80 L541.63,715.68 L542.38,715.69 L543.13,715.78 L543.88,715.59 L544.63,715.63 L545.39,715.61 L546.14,715.55 L546.89,715.68 L547.64,715.52 L548.39,715.49 L549.15,715.49 L549.90,715.68 L550.65,715.46 L551.40,715.40 L552.15,715.59 L552.90,715.38 L553.66,715.36 L554.41,715.51 L555.16,715.30 L555.91,715.24 L556.66,715.18 L557.42,715.27 L558.17,714.96 L558.92,715.07 L559.67,714.94 L560.42,714.57 L561.17,714.49 L561.93,714.32 L562.68,713.99 L563.43,713.59 L564.18,713.27 L564.93,712.65 L565.69,712.17 L566.44,711.63 L567.19,710.95 L567.94,710.26 L568.69,709.24 L569.44,708.56 L570.20,707.54 L570.95,706.78 L571.70,705.96 L572.45,705.31 L573.20,704.62 L573.96,704.29 L574.71,703.99 L575.46,703.96 L576.21,704.13 L576.96,704.75 L577.71,705.39 L578.47,705.99 L579.22,706.97 L579.97,707.82 L580.72,708.62 L581.47,709.47 L582.23,710.13 L582.98,711.10 L583.73,711.58 L584.48,712.28 L585.23,712.88 L585.98,713.32 L586.74,713.55 L587.49,714.06 L588.24,714.28 L588.99,714.60 L589.74,714.68 L590.50,714.78 L591.25,714.90 L592.00,715.10 L592.75,715.16 L593.50,715.14 L594.25,715.18 L595.01,715.33 L595.76,715.47 L596.51,715.29 L597.26,715.46 L598.01,715.46 L598.77,715.59 L599.52,715.61 L600.27,715.61 L601.02,715.52 L601.77,715.60 L602.52,715.48 L603.28,715.65 L604.03,715.53 L604.78,715.69 L605.53,715.61 L606.28,715.47 L607.04,715.63 L607.79,715.61 L608.54,715.67 L609.29,715.45 L610.04,715.53 L610.79,715.56 L611.55,715.46 L612.30,715.49 L613.05,715.31 L613.80,715.37 L614.55,715.40 L615.31,715.30 L616.06,715.27 L616.81,715.02 L617.56,715.09 L618.31,714.91 L619.06,714.78 L619.82,714.80 L620.57,714.56 L621.32,714.45 L622.07,714.27 L622.82,714.16 L623.58,714.04 L624.33,714.06 L625.08,713.99 L625.83,713.94 L626.58,713.97 L627.33,713.84 L628.09,713.75 L628.84,713.90 L629.59,713.87 L630.34,714.08 L631.09,714.14 L631.85,714.23 L632.60,714.21 L633.35,714.47 L634.10,714.49 L634.85,714.75 L635.60,714.71 L636.36,714.89 L637.11,714.86 L637.86,715.19 L638.61,715.22 L639.36,715.15 L640.12,715.33 L640.87,715.43 L641.62,715.34 L642.37,715.50 L643.12,715.43 L643.87,715.55 L644.63,715.70 L645.38,715.71 L646.13,715.55 L646.88,715.56 L647.63,715.75 L648.38,715.56 L649.14,715.61 L649.89,715.69 L650.64,715.64 L651.39,715.70 L652.14,715.82 L652.90,715.75 L653.65,715.74 L654.40,715.60 L655.15,715.74 L655.90,715.63 L656.65,715.63 L657.41,715.74 L658.16,715.64 L658.91,715.59 L659.66,715.52 L660.41,715.57 L661.17,715.38 L661.92,715.37 L662.67,715.49 L663.42,715.21 L664.17,715.19 L664.92,715.01 L665.68,715.07 L666.43,714.81 L667.18,714.68 L667.93,714.59 L668.68,714.42 L669.44,714.17 L670.19,713.88 L670.94,713.74 L671.69,713.53 L672.44,713.30 L673.19,713.06 L673.95,712.92 L674.70,712.72 L675.45,712.73 L676.20,712.43 L676.95,712.35 L677.71,712.43 L678.46,712.47 L679.21,712.48 L679.96,712.70 L680.71,712.79 L681.46,713.06 L682.22,713.26 L682.97,713.40 L683.72,713.62 L684.47,713.91 L685.22,714.13 L685.98,714.33 L686.73,714.53 L687.48,714.73 L688.23,714.92 L688.98,715.04 L689.73,715.18 L690.49,715.12 L691.24,715.34 L691.99,715.31 L692.74,715.48 L693.49,715.41 L694.25,715.56 L695.00,715.66 L695.75,715.68 L696.50,715.75 L697.25,715.76 L698.00,715.79 L698.76,715.81 L699.51,715.80 L700.26,715.90 L701.01,715.69 L701.76,715.74 L702.52,715.86 L703.27,715.75 L704.02,715.95 L704.77,715.82 L705.52,715.83 L706.27,715.77 L707.03,715.75 L707.78,715.84 L708.53,715.80 L709.28,715.83 L710.03,715.98 L710.79,715.98 L711.54,715.99 L712.29,715.83 L713.04,715.91 L713.79,715.94 L714.54,715.91 L715.30,715.80 L716.05,715.92 L716.80,715.83" fill="none" stroke="#20a8e8" stroke-width="1.9" stroke-linejoin="round"/>
<text transform="translate(708.90,707.10) scale(1,1.035)" font-size="9.6" text-anchor="end" fill="#20a8e8"><tspan font-style="italic">x</tspan> = 0.30</text>
<rect x="426.6" y="476.1" width="290.19999999999993" height="290.9" fill="none" stroke="#111" stroke-width="1.4"/>
<line x1="426.60" y1="532.40" x2="716.80" y2="532.40" stroke="#111" stroke-width="1.4"/>
<line x1="426.60" y1="589.70" x2="716.80" y2="589.70" stroke="#111" stroke-width="1.4"/>
<line x1="426.60" y1="760.90" x2="716.80" y2="760.90" stroke="#111" stroke-width="1.4"/>
<line x1="441.11" y1="476.10" x2="441.11" y2="479.10" stroke="#111" stroke-width="1.1"/>
<line x1="441.11" y1="767.00" x2="441.11" y2="764.40" stroke="#111" stroke-width="1.1"/>
<line x1="455.62" y1="476.10" x2="455.62" y2="479.10" stroke="#111" stroke-width="1.1"/>
<line x1="455.62" y1="767.00" x2="455.62" y2="764.40" stroke="#111" stroke-width="1.1"/>
<line x1="470.13" y1="476.10" x2="470.13" y2="479.10" stroke="#111" stroke-width="1.1"/>
<line x1="470.13" y1="767.00" x2="470.13" y2="764.40" stroke="#111" stroke-width="1.1"/>
<line x1="484.64" y1="476.10" x2="484.64" y2="479.10" stroke="#111" stroke-width="1.1"/>
<line x1="484.64" y1="767.00" x2="484.64" y2="764.40" stroke="#111" stroke-width="1.1"/>
<line x1="499.15" y1="476.10" x2="499.15" y2="480.60" stroke="#111" stroke-width="1.1"/>
<line x1="499.15" y1="767.00" x2="499.15" y2="762.70" stroke="#111" stroke-width="1.1"/>
<line x1="513.66" y1="476.10" x2="513.66" y2="479.10" stroke="#111" stroke-width="1.1"/>
<line x1="513.66" y1="767.00" x2="513.66" y2="764.40" stroke="#111" stroke-width="1.1"/>
<line x1="528.17" y1="476.10" x2="528.17" y2="479.10" stroke="#111" stroke-width="1.1"/>
<line x1="528.17" y1="767.00" x2="528.17" y2="764.40" stroke="#111" stroke-width="1.1"/>
<line x1="542.68" y1="476.10" x2="542.68" y2="479.10" stroke="#111" stroke-width="1.1"/>
<line x1="542.68" y1="767.00" x2="542.68" y2="764.40" stroke="#111" stroke-width="1.1"/>
<line x1="557.19" y1="476.10" x2="557.19" y2="479.10" stroke="#111" stroke-width="1.1"/>
<line x1="557.19" y1="767.00" x2="557.19" y2="764.40" stroke="#111" stroke-width="1.1"/>
<line x1="571.70" y1="476.10" x2="571.70" y2="480.60" stroke="#111" stroke-width="1.1"/>
<line x1="571.70" y1="767.00" x2="571.70" y2="762.70" stroke="#111" stroke-width="1.1"/>
<line x1="586.21" y1="476.10" x2="586.21" y2="479.10" stroke="#111" stroke-width="1.1"/>
<line x1="586.21" y1="767.00" x2="586.21" y2="764.40" stroke="#111" stroke-width="1.1"/>
<line x1="600.72" y1="476.10" x2="600.72" y2="479.10" stroke="#111" stroke-width="1.1"/>
<line x1="600.72" y1="767.00" x2="600.72" y2="764.40" stroke="#111" stroke-width="1.1"/>
<line x1="615.23" y1="476.10" x2="615.23" y2="479.10" stroke="#111" stroke-width="1.1"/>
<line x1="615.23" y1="767.00" x2="615.23" y2="764.40" stroke="#111" stroke-width="1.1"/>
<line x1="629.74" y1="476.10" x2="629.74" y2="479.10" stroke="#111" stroke-width="1.1"/>
<line x1="629.74" y1="767.00" x2="629.74" y2="764.40" stroke="#111" stroke-width="1.1"/>
<line x1="644.25" y1="476.10" x2="644.25" y2="480.60" stroke="#111" stroke-width="1.1"/>
<line x1="644.25" y1="767.00" x2="644.25" y2="762.70" stroke="#111" stroke-width="1.1"/>
<line x1="658.76" y1="476.10" x2="658.76" y2="479.10" stroke="#111" stroke-width="1.1"/>
<line x1="658.76" y1="767.00" x2="658.76" y2="764.40" stroke="#111" stroke-width="1.1"/>
<line x1="673.27" y1="476.10" x2="673.27" y2="479.10" stroke="#111" stroke-width="1.1"/>
<line x1="673.27" y1="767.00" x2="673.27" y2="764.40" stroke="#111" stroke-width="1.1"/>
<line x1="687.78" y1="476.10" x2="687.78" y2="479.10" stroke="#111" stroke-width="1.1"/>
<line x1="687.78" y1="767.00" x2="687.78" y2="764.40" stroke="#111" stroke-width="1.1"/>
<line x1="702.29" y1="476.10" x2="702.29" y2="479.10" stroke="#111" stroke-width="1.1"/>
<line x1="702.29" y1="767.00" x2="702.29" y2="764.40" stroke="#111" stroke-width="1.1"/>
<text transform="translate(426.60,784.20) scale(1,1.035)" font-size="14.0" text-anchor="middle" fill="#111" font-weight="normal" font-style="normal" >20</text>
<text transform="translate(499.15,784.20) scale(1,1.035)" font-size="14.0" text-anchor="middle" fill="#111" font-weight="normal" font-style="normal" >25</text>
<text transform="translate(571.70,784.20) scale(1,1.035)" font-size="14.0" text-anchor="middle" fill="#111" font-weight="normal" font-style="normal" >30</text>
<text transform="translate(644.25,784.20) scale(1,1.035)" font-size="14.0" text-anchor="middle" fill="#111" font-weight="normal" font-style="normal" >35</text>
<text transform="translate(716.80,784.20) scale(1,1.035)" font-size="14.0" text-anchor="middle" fill="#111" font-weight="normal" font-style="normal" >40</text>
<text transform="translate(528.60,803.80) scale(1,1.035)" font-size="16.8" fill="#111">2</text>
<text transform="translate(539.40,803.80) scale(1,1.035)" font-size="16.8" font-style="italic" fill="#111">θ</text>
<text transform="translate(550.20,803.80) scale(1,1.035)" font-size="16.2" fill="#111">(degree)</text>
<text transform="translate(414.10,621.50) rotate(-90) scale(1,1.035)" font-size="16.4" text-anchor="middle" fill="#111">Intensity (a.u.)</text>
<line x1="440.38" y1="532.40" x2="440.38" y2="529.90" stroke="#111" stroke-width="1.5"/>
<line x1="450.98" y1="532.40" x2="450.98" y2="530.90" stroke="#111" stroke-width="1.5"/>
<line x1="465.20" y1="532.40" x2="465.20" y2="529.90" stroke="#111" stroke-width="1.5"/>
<line x1="501.91" y1="532.40" x2="501.91" y2="531.40" stroke="#111" stroke-width="1.5"/>
<line x1="503.65" y1="532.40" x2="503.65" y2="526.88" stroke="#111" stroke-width="1.5"/>
<line x1="508.58" y1="532.40" x2="508.58" y2="524.47" stroke="#111" stroke-width="1.5"/>
<line x1="513.66" y1="532.40" x2="513.66" y2="531.40" stroke="#111" stroke-width="1.5"/>
<line x1="518.01" y1="532.40" x2="518.01" y2="528.03" stroke="#111" stroke-width="1.5"/>
<line x1="520.33" y1="532.40" x2="520.33" y2="526.88" stroke="#111" stroke-width="1.5"/>
<line x1="529.91" y1="532.40" x2="529.91" y2="519.75" stroke="#111" stroke-width="1.5"/>
<line x1="534.41" y1="532.40" x2="534.41" y2="530.40" stroke="#111" stroke-width="1.5"/>
<line x1="563.72" y1="532.40" x2="563.72" y2="531.40" stroke="#111" stroke-width="1.5"/>
<line x1="590.13" y1="532.40" x2="590.13" y2="527.00" stroke="#111" stroke-width="1.5"/>
<line x1="602.46" y1="532.40" x2="602.46" y2="531.20" stroke="#111" stroke-width="1.5"/>
<line x1="609.14" y1="532.40" x2="609.14" y2="531.20" stroke="#111" stroke-width="1.5"/>
<line x1="619.58" y1="532.40" x2="619.58" y2="531.20" stroke="#111" stroke-width="1.5"/>
<line x1="632.93" y1="532.40" x2="632.93" y2="531.40" stroke="#111" stroke-width="1.5"/>
<line x1="647.44" y1="532.40" x2="647.44" y2="531.40" stroke="#111" stroke-width="1.5"/>
<line x1="658.76" y1="532.40" x2="658.76" y2="531.40" stroke="#111" stroke-width="1.5"/>
<line x1="667.47" y1="532.40" x2="667.47" y2="531.40" stroke="#111" stroke-width="1.5"/>
<line x1="679.36" y1="532.40" x2="679.36" y2="528.61" stroke="#111" stroke-width="1.5"/>
<line x1="681.11" y1="532.40" x2="681.11" y2="530.40" stroke="#111" stroke-width="1.5"/>
<line x1="683.86" y1="532.40" x2="683.86" y2="530.40" stroke="#111" stroke-width="1.5"/>
<line x1="708.09" y1="532.40" x2="708.09" y2="531.40" stroke="#111" stroke-width="1.5"/>
<line x1="714.62" y1="532.40" x2="714.62" y2="531.40" stroke="#111" stroke-width="1.5"/>
<line x1="430.95" y1="589.70" x2="430.95" y2="584.20" stroke="#111" stroke-width="1.5"/>
<line x1="497.99" y1="589.70" x2="497.99" y2="584.20" stroke="#111" stroke-width="1.5"/>
<line x1="555.16" y1="589.70" x2="555.16" y2="576.70" stroke="#111" stroke-width="1.5"/>
<line x1="606.09" y1="589.70" x2="606.09" y2="587.50" stroke="#111" stroke-width="1.5"/>
<line x1="652.09" y1="589.70" x2="652.09" y2="587.50" stroke="#111" stroke-width="1.5"/>
<line x1="449.38" y1="760.90" x2="449.38" y2="747.70" stroke="#111" stroke-width="1.5"/>
<line x1="520.91" y1="760.90" x2="520.91" y2="758.70" stroke="#111" stroke-width="1.5"/>
<line x1="581.57" y1="760.90" x2="581.57" y2="747.30" stroke="#111" stroke-width="1.5"/>
<line x1="635.54" y1="760.90" x2="635.54" y2="755.90" stroke="#111" stroke-width="1.5"/>
<line x1="684.88" y1="760.90" x2="684.88" y2="751.30" stroke="#111" stroke-width="1.5"/>
<text transform="translate(440.90,525.80) rotate(-90) scale(1,1.035)" font-size="7.4" fill="#222">(111)</text>
<text transform="translate(452.80,526.60) rotate(-90) scale(1,1.035)" font-size="7.4" fill="#222">(104)</text>
<text transform="translate(466.50,525.80) rotate(-90) scale(1,1.035)" font-size="7.4" fill="#222">(112)</text>
<text transform="translate(503.30,523.30) rotate(-90) scale(1,1.035)" font-size="7.4" fill="#222">(113)</text>
<text transform="translate(510.80,520.00) rotate(-90) scale(1,1.035)" font-size="7.4" fill="#222">(211)</text>
<text transform="translate(517.40,520.80) rotate(-90) scale(1,1.035)" font-size="7.4" fill="#222">(204)</text>
<text transform="translate(524.00,520.00) rotate(-90) scale(1,1.035)" font-size="7.4" fill="#222">(105)</text>
<text transform="translate(531.10,516.70) rotate(-90) scale(1,1.035)" font-size="7.4" fill="#222">(212)</text>
<text transform="translate(538.00,525.80) rotate(-90) scale(1,1.035)" font-size="7.4" fill="#222">(302)</text>
<text transform="translate(564.50,525.80) rotate(-90) scale(1,1.035)" font-size="7.4" fill="#222">(213)</text>
<text transform="translate(591.80,523.30) rotate(-90) scale(1,1.035)" font-size="7.4" fill="#222">(015)</text>
<text transform="translate(603.40,525.80) rotate(-90) scale(1,1.035)" font-size="7.4" fill="#222">(311)</text>
<text transform="translate(611.60,525.80) rotate(-90) scale(1,1.035)" font-size="7.4" fill="#222">(304)</text>
<text transform="translate(621.60,525.80) rotate(-90) scale(1,1.035)" font-size="7.4" fill="#222">(312)</text>
<text transform="translate(681.60,524.70) rotate(-90) scale(1,1.035)" font-size="7.4" fill="#222">(117)</text>
<text transform="translate(433.60,584.40) rotate(-90) scale(1,1.035)" font-size="7.4" fill="#222">(110)</text>
<text transform="translate(499.80,583.70) rotate(-90) scale(1,1.035)" font-size="7.4" fill="#222">(111)</text>
<text transform="translate(557.00,577.10) rotate(-90) scale(1,1.035)" font-size="7.4" fill="#222">(200)</text>
<text transform="translate(607.90,584.40) rotate(-90) scale(1,1.035)" font-size="7.4" fill="#222">(210)</text>
<text transform="translate(654.40,584.40) rotate(-90) scale(1,1.035)" font-size="7.4" fill="#222">(211)</text>
<text transform="translate(450.60,746.20) rotate(-90) scale(1,1.035)" font-size="7.4" fill="#222">(110)</text>
<text transform="translate(522.40,754.90) rotate(-90) scale(1,1.035)" font-size="7.4" fill="#222">(111)</text>
<text transform="translate(578.00,758.40) rotate(-90) scale(1,1.035)" font-size="7.4" fill="#222">(200)</text>
<text transform="translate(633.20,757.40) rotate(-90) scale(1,1.035)" font-size="7.4" fill="#222">(210)</text>
<text transform="translate(681.40,757.40) rotate(-90) scale(1,1.035)" font-size="7.4" fill="#222">(211)</text>
<text transform="translate(542.00,498.10) scale(1,1.035)" font-size="9.5" fill="#222">orthorhombic CsPbI<tspan font-size="6.5" dy="3.6">3</tspan><tspan dy="-3.6">(ICDD01-076-8587)</tspan></text>
<text transform="translate(572.30,557.00) scale(1,1.035)" font-size="9.5" fill="#222">cubic CsPbI<tspan font-size="6.5" dy="3.6">3</tspan><tspan dy="-3.6" dx="1.2"> (ICDD01-080-4039)</tspan></text>
<text transform="translate(563.40,736.70) scale(1,1.035)" font-size="9.5" fill="#222">cubic CsPbBr<tspan font-size="6.5" dy="3.6">3</tspan><tspan dy="-3.6" dx="1.2"> (ICDD00-054-0752)</tspan></text>
</svg></body></html>
